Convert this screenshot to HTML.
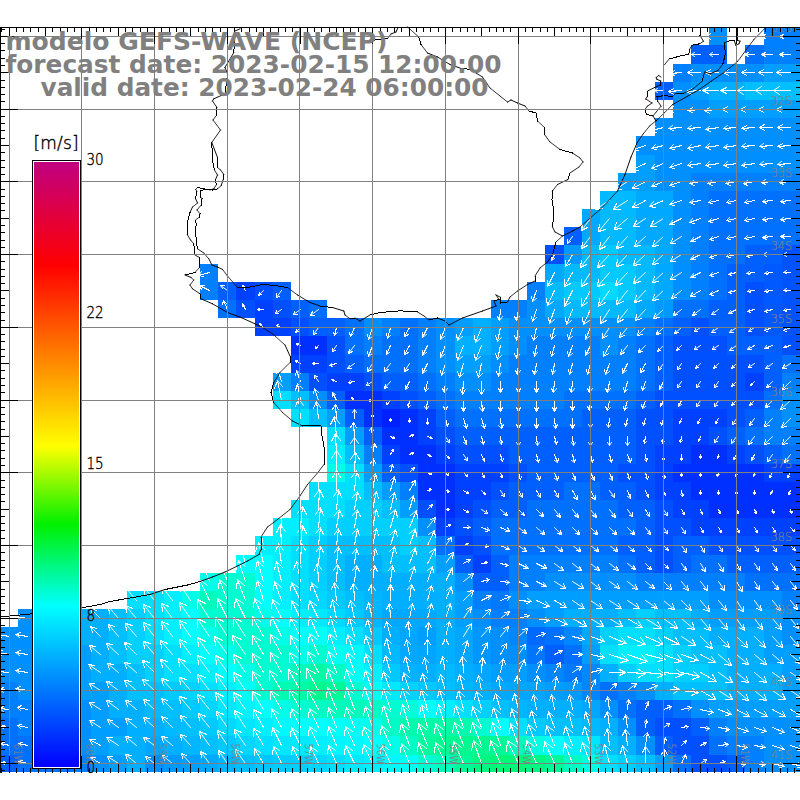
<!DOCTYPE html><html><head><meta charset="utf-8"><title>GEFS-WAVE</title><style>html,body{margin:0;padding:0;background:#fff}body{width:800px;height:800px;position:relative;overflow:hidden}</style></head><body><svg width="800" height="800" viewBox="0 0 800 800" style="position:absolute;left:0;top:0">
<g shape-rendering="crispEdges">
<rect x="709" y="27" width="18" height="18" fill="#008fff"/>
<rect x="764" y="27" width="18" height="18" fill="#0080ff"/>
<rect x="782" y="27" width="18" height="18" fill="#0080ff"/>
<rect x="691" y="45" width="18" height="19" fill="#0060ff"/>
<rect x="709" y="45" width="18" height="19" fill="#0060ff"/>
<rect x="745" y="45" width="19" height="19" fill="#0070ff"/>
<rect x="764" y="45" width="18" height="19" fill="#0080ff"/>
<rect x="782" y="45" width="18" height="19" fill="#0080ff"/>
<rect x="673" y="64" width="18" height="18" fill="#0080ff"/>
<rect x="691" y="64" width="18" height="18" fill="#008fff"/>
<rect x="709" y="64" width="18" height="18" fill="#008fff"/>
<rect x="727" y="64" width="18" height="18" fill="#008fff"/>
<rect x="745" y="64" width="19" height="18" fill="#008fff"/>
<rect x="764" y="64" width="18" height="18" fill="#009fff"/>
<rect x="782" y="64" width="18" height="18" fill="#009fff"/>
<rect x="655" y="82" width="18" height="18" fill="#0060ff"/>
<rect x="673" y="82" width="18" height="18" fill="#008fff"/>
<rect x="691" y="82" width="18" height="18" fill="#009fff"/>
<rect x="709" y="82" width="18" height="18" fill="#00afff"/>
<rect x="727" y="82" width="18" height="18" fill="#00afff"/>
<rect x="745" y="82" width="19" height="18" fill="#00bfff"/>
<rect x="764" y="82" width="18" height="18" fill="#00bfff"/>
<rect x="782" y="82" width="18" height="18" fill="#00bfff"/>
<rect x="673" y="100" width="18" height="18" fill="#008fff"/>
<rect x="691" y="100" width="18" height="18" fill="#008fff"/>
<rect x="709" y="100" width="18" height="18" fill="#009fff"/>
<rect x="727" y="100" width="18" height="18" fill="#009fff"/>
<rect x="745" y="100" width="19" height="18" fill="#009fff"/>
<rect x="764" y="100" width="18" height="18" fill="#009fff"/>
<rect x="782" y="100" width="18" height="18" fill="#009fff"/>
<rect x="655" y="118" width="18" height="18" fill="#008fff"/>
<rect x="673" y="118" width="18" height="18" fill="#008fff"/>
<rect x="691" y="118" width="18" height="18" fill="#008fff"/>
<rect x="709" y="118" width="18" height="18" fill="#008fff"/>
<rect x="727" y="118" width="18" height="18" fill="#008fff"/>
<rect x="745" y="118" width="19" height="18" fill="#008fff"/>
<rect x="764" y="118" width="18" height="18" fill="#008fff"/>
<rect x="782" y="118" width="18" height="18" fill="#008fff"/>
<rect x="636" y="136" width="19" height="19" fill="#008fff"/>
<rect x="655" y="136" width="18" height="19" fill="#008fff"/>
<rect x="673" y="136" width="18" height="19" fill="#008fff"/>
<rect x="691" y="136" width="18" height="19" fill="#008fff"/>
<rect x="709" y="136" width="18" height="19" fill="#008fff"/>
<rect x="727" y="136" width="18" height="19" fill="#008fff"/>
<rect x="745" y="136" width="19" height="19" fill="#008fff"/>
<rect x="764" y="136" width="18" height="19" fill="#008fff"/>
<rect x="782" y="136" width="18" height="19" fill="#008fff"/>
<rect x="636" y="155" width="19" height="18" fill="#009fff"/>
<rect x="655" y="155" width="18" height="18" fill="#008fff"/>
<rect x="673" y="155" width="18" height="18" fill="#008fff"/>
<rect x="691" y="155" width="18" height="18" fill="#008fff"/>
<rect x="709" y="155" width="18" height="18" fill="#008fff"/>
<rect x="727" y="155" width="18" height="18" fill="#008fff"/>
<rect x="745" y="155" width="19" height="18" fill="#008fff"/>
<rect x="764" y="155" width="18" height="18" fill="#008fff"/>
<rect x="782" y="155" width="18" height="18" fill="#008fff"/>
<rect x="618" y="173" width="18" height="18" fill="#009fff"/>
<rect x="636" y="173" width="19" height="18" fill="#009fff"/>
<rect x="655" y="173" width="18" height="18" fill="#008fff"/>
<rect x="673" y="173" width="18" height="18" fill="#008fff"/>
<rect x="691" y="173" width="18" height="18" fill="#0080ff"/>
<rect x="709" y="173" width="18" height="18" fill="#0080ff"/>
<rect x="727" y="173" width="18" height="18" fill="#0080ff"/>
<rect x="745" y="173" width="19" height="18" fill="#0080ff"/>
<rect x="764" y="173" width="18" height="18" fill="#0080ff"/>
<rect x="782" y="173" width="18" height="18" fill="#0080ff"/>
<rect x="600" y="191" width="18" height="18" fill="#00b9ff"/>
<rect x="618" y="191" width="18" height="18" fill="#00b9ff"/>
<rect x="636" y="191" width="19" height="18" fill="#00a9ff"/>
<rect x="655" y="191" width="18" height="18" fill="#00a9ff"/>
<rect x="673" y="191" width="18" height="18" fill="#008fff"/>
<rect x="691" y="191" width="18" height="18" fill="#0080ff"/>
<rect x="709" y="191" width="18" height="18" fill="#0070ff"/>
<rect x="727" y="191" width="18" height="18" fill="#0070ff"/>
<rect x="745" y="191" width="19" height="18" fill="#0070ff"/>
<rect x="764" y="191" width="18" height="18" fill="#0070ff"/>
<rect x="782" y="191" width="18" height="18" fill="#0070ff"/>
<rect x="582" y="209" width="18" height="18" fill="#00a9ff"/>
<rect x="600" y="209" width="18" height="18" fill="#00b9ff"/>
<rect x="618" y="209" width="18" height="18" fill="#00b9ff"/>
<rect x="636" y="209" width="19" height="18" fill="#00a9ff"/>
<rect x="655" y="209" width="18" height="18" fill="#00a9ff"/>
<rect x="673" y="209" width="18" height="18" fill="#008fff"/>
<rect x="691" y="209" width="18" height="18" fill="#0080ff"/>
<rect x="709" y="209" width="18" height="18" fill="#0070ff"/>
<rect x="727" y="209" width="18" height="18" fill="#0070ff"/>
<rect x="745" y="209" width="19" height="18" fill="#0070ff"/>
<rect x="764" y="209" width="18" height="18" fill="#0070ff"/>
<rect x="782" y="209" width="18" height="18" fill="#0070ff"/>
<rect x="564" y="227" width="18" height="18" fill="#0060ff"/>
<rect x="582" y="227" width="18" height="18" fill="#00a9ff"/>
<rect x="600" y="227" width="18" height="18" fill="#00b9ff"/>
<rect x="618" y="227" width="18" height="18" fill="#00b9ff"/>
<rect x="636" y="227" width="19" height="18" fill="#00a9ff"/>
<rect x="655" y="227" width="18" height="18" fill="#00a9ff"/>
<rect x="673" y="227" width="18" height="18" fill="#008fff"/>
<rect x="691" y="227" width="18" height="18" fill="#0080ff"/>
<rect x="709" y="227" width="18" height="18" fill="#0070ff"/>
<rect x="727" y="227" width="18" height="18" fill="#0070ff"/>
<rect x="745" y="227" width="19" height="18" fill="#0070ff"/>
<rect x="764" y="227" width="18" height="18" fill="#0070ff"/>
<rect x="782" y="227" width="18" height="18" fill="#0070ff"/>
<rect x="545" y="245" width="19" height="19" fill="#0050ff"/>
<rect x="564" y="245" width="18" height="19" fill="#0099ff"/>
<rect x="582" y="245" width="18" height="19" fill="#00b9ff"/>
<rect x="600" y="245" width="18" height="19" fill="#00c9ff"/>
<rect x="618" y="245" width="18" height="19" fill="#00b9ff"/>
<rect x="636" y="245" width="19" height="19" fill="#00b9ff"/>
<rect x="655" y="245" width="18" height="19" fill="#00a9ff"/>
<rect x="673" y="245" width="18" height="19" fill="#008fff"/>
<rect x="691" y="245" width="18" height="19" fill="#0080ff"/>
<rect x="709" y="245" width="18" height="19" fill="#0070ff"/>
<rect x="727" y="245" width="18" height="19" fill="#0070ff"/>
<rect x="745" y="245" width="19" height="19" fill="#0060ff"/>
<rect x="764" y="245" width="18" height="19" fill="#0060ff"/>
<rect x="782" y="245" width="18" height="19" fill="#0053ff"/>
<rect x="200" y="264" width="18" height="18" fill="#0080ff"/>
<rect x="545" y="264" width="19" height="18" fill="#00a9ff"/>
<rect x="564" y="264" width="18" height="18" fill="#00b9ff"/>
<rect x="582" y="264" width="18" height="18" fill="#00b9ff"/>
<rect x="600" y="264" width="18" height="18" fill="#00c9ff"/>
<rect x="618" y="264" width="18" height="18" fill="#00c9ff"/>
<rect x="636" y="264" width="19" height="18" fill="#00b9ff"/>
<rect x="655" y="264" width="18" height="18" fill="#00a9ff"/>
<rect x="673" y="264" width="18" height="18" fill="#008fff"/>
<rect x="691" y="264" width="18" height="18" fill="#0080ff"/>
<rect x="709" y="264" width="18" height="18" fill="#0070ff"/>
<rect x="727" y="264" width="18" height="18" fill="#0060ff"/>
<rect x="745" y="264" width="19" height="18" fill="#0060ff"/>
<rect x="764" y="264" width="18" height="18" fill="#0059ff"/>
<rect x="782" y="264" width="18" height="18" fill="#0053ff"/>
<rect x="200" y="282" width="18" height="18" fill="#0080ff"/>
<rect x="218" y="282" width="18" height="18" fill="#0060ff"/>
<rect x="236" y="282" width="19" height="18" fill="#0040ff"/>
<rect x="255" y="282" width="18" height="18" fill="#0050ff"/>
<rect x="273" y="282" width="18" height="18" fill="#0060ff"/>
<rect x="527" y="282" width="18" height="18" fill="#0080ff"/>
<rect x="545" y="282" width="19" height="18" fill="#00b9ff"/>
<rect x="564" y="282" width="18" height="18" fill="#00c9ff"/>
<rect x="582" y="282" width="18" height="18" fill="#00c9ff"/>
<rect x="600" y="282" width="18" height="18" fill="#00d9ff"/>
<rect x="618" y="282" width="18" height="18" fill="#00c9ff"/>
<rect x="636" y="282" width="19" height="18" fill="#00b9ff"/>
<rect x="655" y="282" width="18" height="18" fill="#00a9ff"/>
<rect x="673" y="282" width="18" height="18" fill="#008fff"/>
<rect x="691" y="282" width="18" height="18" fill="#0080ff"/>
<rect x="709" y="282" width="18" height="18" fill="#0070ff"/>
<rect x="727" y="282" width="18" height="18" fill="#0060ff"/>
<rect x="745" y="282" width="19" height="18" fill="#0050ff"/>
<rect x="764" y="282" width="18" height="18" fill="#0059ff"/>
<rect x="782" y="282" width="18" height="18" fill="#0053ff"/>
<rect x="218" y="300" width="18" height="18" fill="#0070ff"/>
<rect x="236" y="300" width="19" height="18" fill="#0050ff"/>
<rect x="255" y="300" width="18" height="18" fill="#0040ff"/>
<rect x="273" y="300" width="18" height="18" fill="#0050ff"/>
<rect x="291" y="300" width="18" height="18" fill="#0060ff"/>
<rect x="309" y="300" width="18" height="18" fill="#0070ff"/>
<rect x="491" y="300" width="18" height="18" fill="#0080ff"/>
<rect x="509" y="300" width="18" height="18" fill="#0080ff"/>
<rect x="527" y="300" width="18" height="18" fill="#008fff"/>
<rect x="545" y="300" width="19" height="18" fill="#00a9ff"/>
<rect x="564" y="300" width="18" height="18" fill="#00b9ff"/>
<rect x="582" y="300" width="18" height="18" fill="#00b9ff"/>
<rect x="600" y="300" width="18" height="18" fill="#00b9ff"/>
<rect x="618" y="300" width="18" height="18" fill="#00b9ff"/>
<rect x="636" y="300" width="19" height="18" fill="#00a9ff"/>
<rect x="655" y="300" width="18" height="18" fill="#0099ff"/>
<rect x="673" y="300" width="18" height="18" fill="#0070ff"/>
<rect x="691" y="300" width="18" height="18" fill="#0070ff"/>
<rect x="709" y="300" width="18" height="18" fill="#0060ff"/>
<rect x="727" y="300" width="18" height="18" fill="#0060ff"/>
<rect x="745" y="300" width="19" height="18" fill="#0050ff"/>
<rect x="764" y="300" width="18" height="18" fill="#0059ff"/>
<rect x="782" y="300" width="18" height="18" fill="#0053ff"/>
<rect x="255" y="318" width="18" height="18" fill="#0040ff"/>
<rect x="273" y="318" width="18" height="18" fill="#0040ff"/>
<rect x="291" y="318" width="18" height="18" fill="#0050ff"/>
<rect x="309" y="318" width="18" height="18" fill="#0060ff"/>
<rect x="327" y="318" width="18" height="18" fill="#0060ff"/>
<rect x="345" y="318" width="19" height="18" fill="#0070ff"/>
<rect x="364" y="318" width="18" height="18" fill="#008fff"/>
<rect x="382" y="318" width="18" height="18" fill="#0080ff"/>
<rect x="400" y="318" width="18" height="18" fill="#0070ff"/>
<rect x="418" y="318" width="18" height="18" fill="#0080ff"/>
<rect x="436" y="318" width="19" height="18" fill="#008fff"/>
<rect x="455" y="318" width="18" height="18" fill="#009fff"/>
<rect x="473" y="318" width="18" height="18" fill="#00afff"/>
<rect x="491" y="318" width="18" height="18" fill="#009fff"/>
<rect x="509" y="318" width="18" height="18" fill="#008fff"/>
<rect x="527" y="318" width="18" height="18" fill="#008fff"/>
<rect x="545" y="318" width="19" height="18" fill="#008fff"/>
<rect x="564" y="318" width="18" height="18" fill="#008fff"/>
<rect x="582" y="318" width="18" height="18" fill="#008fff"/>
<rect x="600" y="318" width="18" height="18" fill="#008fff"/>
<rect x="618" y="318" width="18" height="18" fill="#008fff"/>
<rect x="636" y="318" width="19" height="18" fill="#0080ff"/>
<rect x="655" y="318" width="18" height="18" fill="#0070ff"/>
<rect x="673" y="318" width="18" height="18" fill="#0060ff"/>
<rect x="691" y="318" width="18" height="18" fill="#0050ff"/>
<rect x="709" y="318" width="18" height="18" fill="#0060ff"/>
<rect x="727" y="318" width="18" height="18" fill="#0060ff"/>
<rect x="745" y="318" width="19" height="18" fill="#0050ff"/>
<rect x="764" y="318" width="18" height="18" fill="#0059ff"/>
<rect x="782" y="318" width="18" height="18" fill="#0053ff"/>
<rect x="291" y="336" width="18" height="19" fill="#0030ff"/>
<rect x="309" y="336" width="18" height="19" fill="#0030ff"/>
<rect x="327" y="336" width="18" height="19" fill="#0050ff"/>
<rect x="345" y="336" width="19" height="19" fill="#0070ff"/>
<rect x="364" y="336" width="18" height="19" fill="#0080ff"/>
<rect x="382" y="336" width="18" height="19" fill="#0070ff"/>
<rect x="400" y="336" width="18" height="19" fill="#0070ff"/>
<rect x="418" y="336" width="18" height="19" fill="#0080ff"/>
<rect x="436" y="336" width="19" height="19" fill="#008fff"/>
<rect x="455" y="336" width="18" height="19" fill="#00afff"/>
<rect x="473" y="336" width="18" height="19" fill="#00afff"/>
<rect x="491" y="336" width="18" height="19" fill="#009fff"/>
<rect x="509" y="336" width="18" height="19" fill="#008fff"/>
<rect x="527" y="336" width="18" height="19" fill="#0080ff"/>
<rect x="545" y="336" width="19" height="19" fill="#0080ff"/>
<rect x="564" y="336" width="18" height="19" fill="#0080ff"/>
<rect x="582" y="336" width="18" height="19" fill="#0080ff"/>
<rect x="600" y="336" width="18" height="19" fill="#008fff"/>
<rect x="618" y="336" width="18" height="19" fill="#0080ff"/>
<rect x="636" y="336" width="19" height="19" fill="#0070ff"/>
<rect x="655" y="336" width="18" height="19" fill="#0060ff"/>
<rect x="673" y="336" width="18" height="19" fill="#0050ff"/>
<rect x="691" y="336" width="18" height="19" fill="#0050ff"/>
<rect x="709" y="336" width="18" height="19" fill="#0050ff"/>
<rect x="727" y="336" width="18" height="19" fill="#0060ff"/>
<rect x="745" y="336" width="19" height="19" fill="#0060ff"/>
<rect x="764" y="336" width="18" height="19" fill="#0060ff"/>
<rect x="782" y="336" width="18" height="19" fill="#0050ff"/>
<rect x="291" y="355" width="18" height="18" fill="#0040ff"/>
<rect x="309" y="355" width="18" height="18" fill="#0040ff"/>
<rect x="327" y="355" width="18" height="18" fill="#0050ff"/>
<rect x="345" y="355" width="19" height="18" fill="#0060ff"/>
<rect x="364" y="355" width="18" height="18" fill="#0070ff"/>
<rect x="382" y="355" width="18" height="18" fill="#0070ff"/>
<rect x="400" y="355" width="18" height="18" fill="#0070ff"/>
<rect x="418" y="355" width="18" height="18" fill="#0080ff"/>
<rect x="436" y="355" width="19" height="18" fill="#008fff"/>
<rect x="455" y="355" width="18" height="18" fill="#009fff"/>
<rect x="473" y="355" width="18" height="18" fill="#009fff"/>
<rect x="491" y="355" width="18" height="18" fill="#008fff"/>
<rect x="509" y="355" width="18" height="18" fill="#0080ff"/>
<rect x="527" y="355" width="18" height="18" fill="#0080ff"/>
<rect x="545" y="355" width="19" height="18" fill="#0080ff"/>
<rect x="564" y="355" width="18" height="18" fill="#0080ff"/>
<rect x="582" y="355" width="18" height="18" fill="#0080ff"/>
<rect x="600" y="355" width="18" height="18" fill="#0080ff"/>
<rect x="618" y="355" width="18" height="18" fill="#0080ff"/>
<rect x="636" y="355" width="19" height="18" fill="#0070ff"/>
<rect x="655" y="355" width="18" height="18" fill="#0060ff"/>
<rect x="673" y="355" width="18" height="18" fill="#0050ff"/>
<rect x="691" y="355" width="18" height="18" fill="#0050ff"/>
<rect x="709" y="355" width="18" height="18" fill="#0050ff"/>
<rect x="727" y="355" width="18" height="18" fill="#0050ff"/>
<rect x="745" y="355" width="19" height="18" fill="#0050ff"/>
<rect x="764" y="355" width="18" height="18" fill="#0060ff"/>
<rect x="782" y="355" width="18" height="18" fill="#0070ff"/>
<rect x="273" y="373" width="18" height="18" fill="#009fff"/>
<rect x="291" y="373" width="18" height="18" fill="#0080ff"/>
<rect x="309" y="373" width="18" height="18" fill="#0050ff"/>
<rect x="327" y="373" width="18" height="18" fill="#0040ff"/>
<rect x="345" y="373" width="19" height="18" fill="#0040ff"/>
<rect x="364" y="373" width="18" height="18" fill="#0050ff"/>
<rect x="382" y="373" width="18" height="18" fill="#0060ff"/>
<rect x="400" y="373" width="18" height="18" fill="#0060ff"/>
<rect x="418" y="373" width="18" height="18" fill="#0070ff"/>
<rect x="436" y="373" width="19" height="18" fill="#0080ff"/>
<rect x="455" y="373" width="18" height="18" fill="#008fff"/>
<rect x="473" y="373" width="18" height="18" fill="#008fff"/>
<rect x="491" y="373" width="18" height="18" fill="#0080ff"/>
<rect x="509" y="373" width="18" height="18" fill="#0080ff"/>
<rect x="527" y="373" width="18" height="18" fill="#0080ff"/>
<rect x="545" y="373" width="19" height="18" fill="#0080ff"/>
<rect x="564" y="373" width="18" height="18" fill="#0080ff"/>
<rect x="582" y="373" width="18" height="18" fill="#0080ff"/>
<rect x="600" y="373" width="18" height="18" fill="#0080ff"/>
<rect x="618" y="373" width="18" height="18" fill="#0080ff"/>
<rect x="636" y="373" width="19" height="18" fill="#0070ff"/>
<rect x="655" y="373" width="18" height="18" fill="#0060ff"/>
<rect x="673" y="373" width="18" height="18" fill="#0050ff"/>
<rect x="691" y="373" width="18" height="18" fill="#0050ff"/>
<rect x="709" y="373" width="18" height="18" fill="#0050ff"/>
<rect x="727" y="373" width="18" height="18" fill="#0050ff"/>
<rect x="745" y="373" width="19" height="18" fill="#0040ff"/>
<rect x="764" y="373" width="18" height="18" fill="#0060ff"/>
<rect x="782" y="373" width="18" height="18" fill="#0080ff"/>
<rect x="273" y="391" width="18" height="18" fill="#00dfff"/>
<rect x="291" y="391" width="18" height="18" fill="#00bfff"/>
<rect x="309" y="391" width="18" height="18" fill="#008fff"/>
<rect x="327" y="391" width="18" height="18" fill="#0060ff"/>
<rect x="345" y="391" width="19" height="18" fill="#0030ff"/>
<rect x="364" y="391" width="18" height="18" fill="#0030ff"/>
<rect x="382" y="391" width="18" height="18" fill="#0040ff"/>
<rect x="400" y="391" width="18" height="18" fill="#0050ff"/>
<rect x="418" y="391" width="18" height="18" fill="#0060ff"/>
<rect x="436" y="391" width="19" height="18" fill="#0070ff"/>
<rect x="455" y="391" width="18" height="18" fill="#0080ff"/>
<rect x="473" y="391" width="18" height="18" fill="#0080ff"/>
<rect x="491" y="391" width="18" height="18" fill="#0080ff"/>
<rect x="509" y="391" width="18" height="18" fill="#0080ff"/>
<rect x="527" y="391" width="18" height="18" fill="#0080ff"/>
<rect x="545" y="391" width="19" height="18" fill="#0080ff"/>
<rect x="564" y="391" width="18" height="18" fill="#0070ff"/>
<rect x="582" y="391" width="18" height="18" fill="#0070ff"/>
<rect x="600" y="391" width="18" height="18" fill="#0070ff"/>
<rect x="618" y="391" width="18" height="18" fill="#0070ff"/>
<rect x="636" y="391" width="19" height="18" fill="#0060ff"/>
<rect x="655" y="391" width="18" height="18" fill="#0050ff"/>
<rect x="673" y="391" width="18" height="18" fill="#0050ff"/>
<rect x="691" y="391" width="18" height="18" fill="#0050ff"/>
<rect x="709" y="391" width="18" height="18" fill="#0050ff"/>
<rect x="727" y="391" width="18" height="18" fill="#0050ff"/>
<rect x="745" y="391" width="19" height="18" fill="#0050ff"/>
<rect x="764" y="391" width="18" height="18" fill="#0070ff"/>
<rect x="782" y="391" width="18" height="18" fill="#008fff"/>
<rect x="291" y="409" width="18" height="18" fill="#00dfff"/>
<rect x="309" y="409" width="18" height="18" fill="#00bfff"/>
<rect x="327" y="409" width="18" height="18" fill="#009fff"/>
<rect x="345" y="409" width="19" height="18" fill="#0060ff"/>
<rect x="364" y="409" width="18" height="18" fill="#0030ff"/>
<rect x="382" y="409" width="18" height="18" fill="#0020ff"/>
<rect x="400" y="409" width="18" height="18" fill="#0030ff"/>
<rect x="418" y="409" width="18" height="18" fill="#0040ff"/>
<rect x="436" y="409" width="19" height="18" fill="#0060ff"/>
<rect x="455" y="409" width="18" height="18" fill="#0070ff"/>
<rect x="473" y="409" width="18" height="18" fill="#0070ff"/>
<rect x="491" y="409" width="18" height="18" fill="#0070ff"/>
<rect x="509" y="409" width="18" height="18" fill="#0070ff"/>
<rect x="527" y="409" width="18" height="18" fill="#0070ff"/>
<rect x="545" y="409" width="19" height="18" fill="#0070ff"/>
<rect x="564" y="409" width="18" height="18" fill="#0070ff"/>
<rect x="582" y="409" width="18" height="18" fill="#0060ff"/>
<rect x="600" y="409" width="18" height="18" fill="#0060ff"/>
<rect x="618" y="409" width="18" height="18" fill="#0060ff"/>
<rect x="636" y="409" width="19" height="18" fill="#0050ff"/>
<rect x="655" y="409" width="18" height="18" fill="#0050ff"/>
<rect x="673" y="409" width="18" height="18" fill="#0040ff"/>
<rect x="691" y="409" width="18" height="18" fill="#0040ff"/>
<rect x="709" y="409" width="18" height="18" fill="#0040ff"/>
<rect x="727" y="409" width="18" height="18" fill="#0050ff"/>
<rect x="745" y="409" width="19" height="18" fill="#0060ff"/>
<rect x="764" y="409" width="18" height="18" fill="#0080ff"/>
<rect x="782" y="409" width="18" height="18" fill="#008fff"/>
<rect x="327" y="427" width="18" height="18" fill="#00dfff"/>
<rect x="345" y="427" width="19" height="18" fill="#009fff"/>
<rect x="364" y="427" width="18" height="18" fill="#0060ff"/>
<rect x="382" y="427" width="18" height="18" fill="#0030ff"/>
<rect x="400" y="427" width="18" height="18" fill="#0030ff"/>
<rect x="418" y="427" width="18" height="18" fill="#0040ff"/>
<rect x="436" y="427" width="19" height="18" fill="#0050ff"/>
<rect x="455" y="427" width="18" height="18" fill="#0060ff"/>
<rect x="473" y="427" width="18" height="18" fill="#0060ff"/>
<rect x="491" y="427" width="18" height="18" fill="#0060ff"/>
<rect x="509" y="427" width="18" height="18" fill="#0060ff"/>
<rect x="527" y="427" width="18" height="18" fill="#0060ff"/>
<rect x="545" y="427" width="19" height="18" fill="#0060ff"/>
<rect x="564" y="427" width="18" height="18" fill="#0060ff"/>
<rect x="582" y="427" width="18" height="18" fill="#0060ff"/>
<rect x="600" y="427" width="18" height="18" fill="#0060ff"/>
<rect x="618" y="427" width="18" height="18" fill="#0060ff"/>
<rect x="636" y="427" width="19" height="18" fill="#0050ff"/>
<rect x="655" y="427" width="18" height="18" fill="#0050ff"/>
<rect x="673" y="427" width="18" height="18" fill="#0040ff"/>
<rect x="691" y="427" width="18" height="18" fill="#0040ff"/>
<rect x="709" y="427" width="18" height="18" fill="#0050ff"/>
<rect x="727" y="427" width="18" height="18" fill="#0060ff"/>
<rect x="745" y="427" width="19" height="18" fill="#0070ff"/>
<rect x="764" y="427" width="18" height="18" fill="#0080ff"/>
<rect x="782" y="427" width="18" height="18" fill="#0080ff"/>
<rect x="327" y="445" width="18" height="19" fill="#00efff"/>
<rect x="345" y="445" width="19" height="19" fill="#00bfff"/>
<rect x="364" y="445" width="18" height="19" fill="#0080ff"/>
<rect x="382" y="445" width="18" height="19" fill="#0040ff"/>
<rect x="400" y="445" width="18" height="19" fill="#0030ff"/>
<rect x="418" y="445" width="18" height="19" fill="#0030ff"/>
<rect x="436" y="445" width="19" height="19" fill="#0040ff"/>
<rect x="455" y="445" width="18" height="19" fill="#0050ff"/>
<rect x="473" y="445" width="18" height="19" fill="#0050ff"/>
<rect x="491" y="445" width="18" height="19" fill="#0050ff"/>
<rect x="509" y="445" width="18" height="19" fill="#0060ff"/>
<rect x="527" y="445" width="18" height="19" fill="#0060ff"/>
<rect x="545" y="445" width="19" height="19" fill="#0060ff"/>
<rect x="564" y="445" width="18" height="19" fill="#0060ff"/>
<rect x="582" y="445" width="18" height="19" fill="#0060ff"/>
<rect x="600" y="445" width="18" height="19" fill="#0060ff"/>
<rect x="618" y="445" width="18" height="19" fill="#0060ff"/>
<rect x="636" y="445" width="19" height="19" fill="#0050ff"/>
<rect x="655" y="445" width="18" height="19" fill="#0040ff"/>
<rect x="673" y="445" width="18" height="19" fill="#0040ff"/>
<rect x="691" y="445" width="18" height="19" fill="#0030ff"/>
<rect x="709" y="445" width="18" height="19" fill="#0030ff"/>
<rect x="727" y="445" width="18" height="19" fill="#0040ff"/>
<rect x="745" y="445" width="19" height="19" fill="#0050ff"/>
<rect x="764" y="445" width="18" height="19" fill="#0060ff"/>
<rect x="782" y="445" width="18" height="19" fill="#0070ff"/>
<rect x="327" y="464" width="18" height="18" fill="#00fee9"/>
<rect x="345" y="464" width="19" height="18" fill="#00dfff"/>
<rect x="364" y="464" width="18" height="18" fill="#009fff"/>
<rect x="382" y="464" width="18" height="18" fill="#0060ff"/>
<rect x="400" y="464" width="18" height="18" fill="#0050ff"/>
<rect x="418" y="464" width="18" height="18" fill="#0030ff"/>
<rect x="436" y="464" width="19" height="18" fill="#0030ff"/>
<rect x="455" y="464" width="18" height="18" fill="#0040ff"/>
<rect x="473" y="464" width="18" height="18" fill="#0040ff"/>
<rect x="491" y="464" width="18" height="18" fill="#0040ff"/>
<rect x="509" y="464" width="18" height="18" fill="#0050ff"/>
<rect x="527" y="464" width="18" height="18" fill="#0060ff"/>
<rect x="545" y="464" width="19" height="18" fill="#0060ff"/>
<rect x="564" y="464" width="18" height="18" fill="#0060ff"/>
<rect x="582" y="464" width="18" height="18" fill="#0060ff"/>
<rect x="600" y="464" width="18" height="18" fill="#0060ff"/>
<rect x="618" y="464" width="18" height="18" fill="#0050ff"/>
<rect x="636" y="464" width="19" height="18" fill="#0050ff"/>
<rect x="655" y="464" width="18" height="18" fill="#0040ff"/>
<rect x="673" y="464" width="18" height="18" fill="#0030ff"/>
<rect x="691" y="464" width="18" height="18" fill="#0030ff"/>
<rect x="709" y="464" width="18" height="18" fill="#0030ff"/>
<rect x="727" y="464" width="18" height="18" fill="#0030ff"/>
<rect x="745" y="464" width="19" height="18" fill="#0030ff"/>
<rect x="764" y="464" width="18" height="18" fill="#0040ff"/>
<rect x="782" y="464" width="18" height="18" fill="#0040ff"/>
<rect x="309" y="482" width="18" height="18" fill="#00dfff"/>
<rect x="327" y="482" width="18" height="18" fill="#00dfff"/>
<rect x="345" y="482" width="19" height="18" fill="#00dfff"/>
<rect x="364" y="482" width="18" height="18" fill="#00bfff"/>
<rect x="382" y="482" width="18" height="18" fill="#009fff"/>
<rect x="400" y="482" width="18" height="18" fill="#0080ff"/>
<rect x="418" y="482" width="18" height="18" fill="#0030ff"/>
<rect x="436" y="482" width="19" height="18" fill="#0030ff"/>
<rect x="455" y="482" width="18" height="18" fill="#0040ff"/>
<rect x="473" y="482" width="18" height="18" fill="#0040ff"/>
<rect x="491" y="482" width="18" height="18" fill="#0050ff"/>
<rect x="509" y="482" width="18" height="18" fill="#0060ff"/>
<rect x="527" y="482" width="18" height="18" fill="#0060ff"/>
<rect x="545" y="482" width="19" height="18" fill="#0060ff"/>
<rect x="564" y="482" width="18" height="18" fill="#0070ff"/>
<rect x="582" y="482" width="18" height="18" fill="#0070ff"/>
<rect x="600" y="482" width="18" height="18" fill="#0060ff"/>
<rect x="618" y="482" width="18" height="18" fill="#0060ff"/>
<rect x="636" y="482" width="19" height="18" fill="#0050ff"/>
<rect x="655" y="482" width="18" height="18" fill="#0040ff"/>
<rect x="673" y="482" width="18" height="18" fill="#0040ff"/>
<rect x="691" y="482" width="18" height="18" fill="#0030ff"/>
<rect x="709" y="482" width="18" height="18" fill="#0030ff"/>
<rect x="727" y="482" width="18" height="18" fill="#0030ff"/>
<rect x="745" y="482" width="19" height="18" fill="#0030ff"/>
<rect x="764" y="482" width="18" height="18" fill="#0030ff"/>
<rect x="782" y="482" width="18" height="18" fill="#0030ff"/>
<rect x="291" y="500" width="18" height="18" fill="#00dfff"/>
<rect x="309" y="500" width="18" height="18" fill="#00dfff"/>
<rect x="327" y="500" width="18" height="18" fill="#00dfff"/>
<rect x="345" y="500" width="19" height="18" fill="#00cfff"/>
<rect x="364" y="500" width="18" height="18" fill="#00cfff"/>
<rect x="382" y="500" width="18" height="18" fill="#00bfff"/>
<rect x="400" y="500" width="18" height="18" fill="#009fff"/>
<rect x="418" y="500" width="18" height="18" fill="#0050ff"/>
<rect x="436" y="500" width="19" height="18" fill="#0030ff"/>
<rect x="455" y="500" width="18" height="18" fill="#0040ff"/>
<rect x="473" y="500" width="18" height="18" fill="#0050ff"/>
<rect x="491" y="500" width="18" height="18" fill="#0060ff"/>
<rect x="509" y="500" width="18" height="18" fill="#0060ff"/>
<rect x="527" y="500" width="18" height="18" fill="#0070ff"/>
<rect x="545" y="500" width="19" height="18" fill="#0070ff"/>
<rect x="564" y="500" width="18" height="18" fill="#0070ff"/>
<rect x="582" y="500" width="18" height="18" fill="#0070ff"/>
<rect x="600" y="500" width="18" height="18" fill="#0070ff"/>
<rect x="618" y="500" width="18" height="18" fill="#0060ff"/>
<rect x="636" y="500" width="19" height="18" fill="#0060ff"/>
<rect x="655" y="500" width="18" height="18" fill="#0050ff"/>
<rect x="673" y="500" width="18" height="18" fill="#0040ff"/>
<rect x="691" y="500" width="18" height="18" fill="#0040ff"/>
<rect x="709" y="500" width="18" height="18" fill="#0030ff"/>
<rect x="727" y="500" width="18" height="18" fill="#0030ff"/>
<rect x="745" y="500" width="19" height="18" fill="#0030ff"/>
<rect x="764" y="500" width="18" height="18" fill="#0030ff"/>
<rect x="782" y="500" width="18" height="18" fill="#0030ff"/>
<rect x="273" y="518" width="18" height="18" fill="#00efff"/>
<rect x="291" y="518" width="18" height="18" fill="#00efff"/>
<rect x="309" y="518" width="18" height="18" fill="#00dfff"/>
<rect x="327" y="518" width="18" height="18" fill="#00cfff"/>
<rect x="345" y="518" width="19" height="18" fill="#00cfff"/>
<rect x="364" y="518" width="18" height="18" fill="#00cfff"/>
<rect x="382" y="518" width="18" height="18" fill="#00cfff"/>
<rect x="400" y="518" width="18" height="18" fill="#00cfff"/>
<rect x="418" y="518" width="18" height="18" fill="#008fff"/>
<rect x="436" y="518" width="19" height="18" fill="#0040ff"/>
<rect x="455" y="518" width="18" height="18" fill="#0050ff"/>
<rect x="473" y="518" width="18" height="18" fill="#0060ff"/>
<rect x="491" y="518" width="18" height="18" fill="#0070ff"/>
<rect x="509" y="518" width="18" height="18" fill="#0070ff"/>
<rect x="527" y="518" width="18" height="18" fill="#0070ff"/>
<rect x="545" y="518" width="19" height="18" fill="#0070ff"/>
<rect x="564" y="518" width="18" height="18" fill="#0070ff"/>
<rect x="582" y="518" width="18" height="18" fill="#0070ff"/>
<rect x="600" y="518" width="18" height="18" fill="#0070ff"/>
<rect x="618" y="518" width="18" height="18" fill="#0070ff"/>
<rect x="636" y="518" width="19" height="18" fill="#0060ff"/>
<rect x="655" y="518" width="18" height="18" fill="#0050ff"/>
<rect x="673" y="518" width="18" height="18" fill="#0050ff"/>
<rect x="691" y="518" width="18" height="18" fill="#0040ff"/>
<rect x="709" y="518" width="18" height="18" fill="#0040ff"/>
<rect x="727" y="518" width="18" height="18" fill="#0040ff"/>
<rect x="745" y="518" width="19" height="18" fill="#0040ff"/>
<rect x="764" y="518" width="18" height="18" fill="#0040ff"/>
<rect x="782" y="518" width="18" height="18" fill="#0040ff"/>
<rect x="255" y="536" width="18" height="19" fill="#00efff"/>
<rect x="273" y="536" width="18" height="19" fill="#00efff"/>
<rect x="291" y="536" width="18" height="19" fill="#00dfff"/>
<rect x="309" y="536" width="18" height="19" fill="#00cfff"/>
<rect x="327" y="536" width="18" height="19" fill="#00bfff"/>
<rect x="345" y="536" width="19" height="19" fill="#00bfff"/>
<rect x="364" y="536" width="18" height="19" fill="#00bfff"/>
<rect x="382" y="536" width="18" height="19" fill="#00bfff"/>
<rect x="400" y="536" width="18" height="19" fill="#00cfff"/>
<rect x="418" y="536" width="18" height="19" fill="#00bfff"/>
<rect x="436" y="536" width="19" height="19" fill="#0070ff"/>
<rect x="455" y="536" width="18" height="19" fill="#0040ff"/>
<rect x="473" y="536" width="18" height="19" fill="#0050ff"/>
<rect x="491" y="536" width="18" height="19" fill="#0070ff"/>
<rect x="509" y="536" width="18" height="19" fill="#0070ff"/>
<rect x="527" y="536" width="18" height="19" fill="#0070ff"/>
<rect x="545" y="536" width="19" height="19" fill="#0070ff"/>
<rect x="564" y="536" width="18" height="19" fill="#0070ff"/>
<rect x="582" y="536" width="18" height="19" fill="#0070ff"/>
<rect x="600" y="536" width="18" height="19" fill="#0070ff"/>
<rect x="618" y="536" width="18" height="19" fill="#0060ff"/>
<rect x="636" y="536" width="19" height="19" fill="#0060ff"/>
<rect x="655" y="536" width="18" height="19" fill="#0050ff"/>
<rect x="673" y="536" width="18" height="19" fill="#0060ff"/>
<rect x="691" y="536" width="18" height="19" fill="#0060ff"/>
<rect x="709" y="536" width="18" height="19" fill="#0050ff"/>
<rect x="727" y="536" width="18" height="19" fill="#0050ff"/>
<rect x="745" y="536" width="19" height="19" fill="#0050ff"/>
<rect x="764" y="536" width="18" height="19" fill="#0050ff"/>
<rect x="782" y="536" width="18" height="19" fill="#0050ff"/>
<rect x="236" y="555" width="19" height="18" fill="#00ffff"/>
<rect x="255" y="555" width="18" height="18" fill="#00ffff"/>
<rect x="273" y="555" width="18" height="18" fill="#00efff"/>
<rect x="291" y="555" width="18" height="18" fill="#00dfff"/>
<rect x="309" y="555" width="18" height="18" fill="#00cfff"/>
<rect x="327" y="555" width="18" height="18" fill="#00bfff"/>
<rect x="345" y="555" width="19" height="18" fill="#00afff"/>
<rect x="364" y="555" width="18" height="18" fill="#00afff"/>
<rect x="382" y="555" width="18" height="18" fill="#00bfff"/>
<rect x="400" y="555" width="18" height="18" fill="#00bfff"/>
<rect x="418" y="555" width="18" height="18" fill="#00bfff"/>
<rect x="436" y="555" width="19" height="18" fill="#009fff"/>
<rect x="455" y="555" width="18" height="18" fill="#0060ff"/>
<rect x="473" y="555" width="18" height="18" fill="#0040ff"/>
<rect x="491" y="555" width="18" height="18" fill="#0060ff"/>
<rect x="509" y="555" width="18" height="18" fill="#0080ff"/>
<rect x="527" y="555" width="18" height="18" fill="#0080ff"/>
<rect x="545" y="555" width="19" height="18" fill="#0080ff"/>
<rect x="564" y="555" width="18" height="18" fill="#0080ff"/>
<rect x="582" y="555" width="18" height="18" fill="#0080ff"/>
<rect x="600" y="555" width="18" height="18" fill="#0080ff"/>
<rect x="618" y="555" width="18" height="18" fill="#0070ff"/>
<rect x="636" y="555" width="19" height="18" fill="#0060ff"/>
<rect x="655" y="555" width="18" height="18" fill="#0050ff"/>
<rect x="673" y="555" width="18" height="18" fill="#0060ff"/>
<rect x="691" y="555" width="18" height="18" fill="#0070ff"/>
<rect x="709" y="555" width="18" height="18" fill="#0070ff"/>
<rect x="727" y="555" width="18" height="18" fill="#0060ff"/>
<rect x="745" y="555" width="19" height="18" fill="#0060ff"/>
<rect x="764" y="555" width="18" height="18" fill="#0060ff"/>
<rect x="782" y="555" width="18" height="18" fill="#0060ff"/>
<rect x="200" y="573" width="18" height="18" fill="#00fee9"/>
<rect x="218" y="573" width="18" height="18" fill="#00fdd2"/>
<rect x="236" y="573" width="19" height="18" fill="#00fdd2"/>
<rect x="255" y="573" width="18" height="18" fill="#00ffff"/>
<rect x="273" y="573" width="18" height="18" fill="#00efff"/>
<rect x="291" y="573" width="18" height="18" fill="#00dfff"/>
<rect x="309" y="573" width="18" height="18" fill="#00cfff"/>
<rect x="327" y="573" width="18" height="18" fill="#00bfff"/>
<rect x="345" y="573" width="19" height="18" fill="#00afff"/>
<rect x="364" y="573" width="18" height="18" fill="#00afff"/>
<rect x="382" y="573" width="18" height="18" fill="#00afff"/>
<rect x="400" y="573" width="18" height="18" fill="#00afff"/>
<rect x="418" y="573" width="18" height="18" fill="#00afff"/>
<rect x="436" y="573" width="19" height="18" fill="#00afff"/>
<rect x="455" y="573" width="18" height="18" fill="#008fff"/>
<rect x="473" y="573" width="18" height="18" fill="#0060ff"/>
<rect x="491" y="573" width="18" height="18" fill="#0060ff"/>
<rect x="509" y="573" width="18" height="18" fill="#0080ff"/>
<rect x="527" y="573" width="18" height="18" fill="#0080ff"/>
<rect x="545" y="573" width="19" height="18" fill="#008fff"/>
<rect x="564" y="573" width="18" height="18" fill="#008fff"/>
<rect x="582" y="573" width="18" height="18" fill="#008fff"/>
<rect x="600" y="573" width="18" height="18" fill="#008fff"/>
<rect x="618" y="573" width="18" height="18" fill="#008fff"/>
<rect x="636" y="573" width="19" height="18" fill="#0080ff"/>
<rect x="655" y="573" width="18" height="18" fill="#0080ff"/>
<rect x="673" y="573" width="18" height="18" fill="#0080ff"/>
<rect x="691" y="573" width="18" height="18" fill="#0080ff"/>
<rect x="709" y="573" width="18" height="18" fill="#0080ff"/>
<rect x="727" y="573" width="18" height="18" fill="#0080ff"/>
<rect x="745" y="573" width="19" height="18" fill="#0070ff"/>
<rect x="764" y="573" width="18" height="18" fill="#0070ff"/>
<rect x="782" y="573" width="18" height="18" fill="#0070ff"/>
<rect x="127" y="591" width="18" height="18" fill="#00dfff"/>
<rect x="145" y="591" width="19" height="18" fill="#00dfff"/>
<rect x="164" y="591" width="18" height="18" fill="#00efff"/>
<rect x="182" y="591" width="18" height="18" fill="#00fee9"/>
<rect x="200" y="591" width="18" height="18" fill="#00fcbc"/>
<rect x="218" y="591" width="18" height="18" fill="#00fdd2"/>
<rect x="236" y="591" width="19" height="18" fill="#00fdd2"/>
<rect x="255" y="591" width="18" height="18" fill="#00ffff"/>
<rect x="273" y="591" width="18" height="18" fill="#00efff"/>
<rect x="291" y="591" width="18" height="18" fill="#00dfff"/>
<rect x="309" y="591" width="18" height="18" fill="#00d6ff"/>
<rect x="327" y="591" width="18" height="18" fill="#00c9ff"/>
<rect x="345" y="591" width="19" height="18" fill="#00bfff"/>
<rect x="364" y="591" width="18" height="18" fill="#00b6ff"/>
<rect x="382" y="591" width="18" height="18" fill="#00afff"/>
<rect x="400" y="591" width="18" height="18" fill="#00afff"/>
<rect x="418" y="591" width="18" height="18" fill="#00afff"/>
<rect x="436" y="591" width="19" height="18" fill="#00afff"/>
<rect x="455" y="591" width="18" height="18" fill="#009fff"/>
<rect x="473" y="591" width="18" height="18" fill="#0080ff"/>
<rect x="491" y="591" width="18" height="18" fill="#0079ff"/>
<rect x="509" y="591" width="18" height="18" fill="#008fff"/>
<rect x="527" y="591" width="18" height="18" fill="#009fff"/>
<rect x="545" y="591" width="19" height="18" fill="#009fff"/>
<rect x="564" y="591" width="18" height="18" fill="#009fff"/>
<rect x="582" y="591" width="18" height="18" fill="#009fff"/>
<rect x="600" y="591" width="18" height="18" fill="#009fff"/>
<rect x="618" y="591" width="18" height="18" fill="#009fff"/>
<rect x="636" y="591" width="19" height="18" fill="#009fff"/>
<rect x="655" y="591" width="18" height="18" fill="#009fff"/>
<rect x="673" y="591" width="18" height="18" fill="#009fff"/>
<rect x="691" y="591" width="18" height="18" fill="#009fff"/>
<rect x="709" y="591" width="18" height="18" fill="#008fff"/>
<rect x="727" y="591" width="18" height="18" fill="#008fff"/>
<rect x="745" y="591" width="19" height="18" fill="#008fff"/>
<rect x="764" y="591" width="18" height="18" fill="#008fff"/>
<rect x="782" y="591" width="18" height="18" fill="#0080ff"/>
<rect x="18" y="609" width="18" height="18" fill="#008fff"/>
<rect x="36" y="609" width="19" height="18" fill="#009fff"/>
<rect x="55" y="609" width="18" height="18" fill="#009fff"/>
<rect x="73" y="609" width="18" height="18" fill="#00afff"/>
<rect x="91" y="609" width="18" height="18" fill="#00afff"/>
<rect x="109" y="609" width="18" height="18" fill="#00bfff"/>
<rect x="127" y="609" width="18" height="18" fill="#00cfff"/>
<rect x="145" y="609" width="19" height="18" fill="#00dfff"/>
<rect x="164" y="609" width="18" height="18" fill="#00efff"/>
<rect x="182" y="609" width="18" height="18" fill="#00ffff"/>
<rect x="200" y="609" width="18" height="18" fill="#00fdd2"/>
<rect x="218" y="609" width="18" height="18" fill="#00fdd2"/>
<rect x="236" y="609" width="19" height="18" fill="#00fdd2"/>
<rect x="255" y="609" width="18" height="18" fill="#00fee9"/>
<rect x="273" y="609" width="18" height="18" fill="#00ffff"/>
<rect x="291" y="609" width="18" height="18" fill="#00efff"/>
<rect x="309" y="609" width="18" height="18" fill="#00e9ff"/>
<rect x="327" y="609" width="18" height="18" fill="#00d9ff"/>
<rect x="345" y="609" width="19" height="18" fill="#00c9ff"/>
<rect x="364" y="609" width="18" height="18" fill="#00b6ff"/>
<rect x="382" y="609" width="18" height="18" fill="#00a9ff"/>
<rect x="400" y="609" width="18" height="18" fill="#00a9ff"/>
<rect x="418" y="609" width="18" height="18" fill="#00a9ff"/>
<rect x="436" y="609" width="19" height="18" fill="#00afff"/>
<rect x="455" y="609" width="18" height="18" fill="#009fff"/>
<rect x="473" y="609" width="18" height="18" fill="#008fff"/>
<rect x="491" y="609" width="18" height="18" fill="#0080ff"/>
<rect x="509" y="609" width="18" height="18" fill="#0080ff"/>
<rect x="527" y="609" width="18" height="18" fill="#008fff"/>
<rect x="545" y="609" width="19" height="18" fill="#009fff"/>
<rect x="564" y="609" width="18" height="18" fill="#00afff"/>
<rect x="582" y="609" width="18" height="18" fill="#00afff"/>
<rect x="600" y="609" width="18" height="18" fill="#00afff"/>
<rect x="618" y="609" width="18" height="18" fill="#00bfff"/>
<rect x="636" y="609" width="19" height="18" fill="#00cfff"/>
<rect x="655" y="609" width="18" height="18" fill="#00bfff"/>
<rect x="673" y="609" width="18" height="18" fill="#00bfff"/>
<rect x="691" y="609" width="18" height="18" fill="#00afff"/>
<rect x="709" y="609" width="18" height="18" fill="#009fff"/>
<rect x="727" y="609" width="18" height="18" fill="#009fff"/>
<rect x="745" y="609" width="19" height="18" fill="#009fff"/>
<rect x="764" y="609" width="18" height="18" fill="#009fff"/>
<rect x="782" y="609" width="18" height="18" fill="#008fff"/>
<rect x="0" y="627" width="18" height="18" fill="#008fff"/>
<rect x="18" y="627" width="18" height="18" fill="#008fff"/>
<rect x="36" y="627" width="19" height="18" fill="#009fff"/>
<rect x="55" y="627" width="18" height="18" fill="#009fff"/>
<rect x="73" y="627" width="18" height="18" fill="#00afff"/>
<rect x="91" y="627" width="18" height="18" fill="#00afff"/>
<rect x="109" y="627" width="18" height="18" fill="#00bfff"/>
<rect x="127" y="627" width="18" height="18" fill="#00cfff"/>
<rect x="145" y="627" width="19" height="18" fill="#00dfff"/>
<rect x="164" y="627" width="18" height="18" fill="#00efff"/>
<rect x="182" y="627" width="18" height="18" fill="#00ffff"/>
<rect x="200" y="627" width="18" height="18" fill="#00fee9"/>
<rect x="218" y="627" width="18" height="18" fill="#00fdd2"/>
<rect x="236" y="627" width="19" height="18" fill="#00fdd2"/>
<rect x="255" y="627" width="18" height="18" fill="#00fdd2"/>
<rect x="273" y="627" width="18" height="18" fill="#00fee9"/>
<rect x="291" y="627" width="18" height="18" fill="#00ffff"/>
<rect x="309" y="627" width="18" height="18" fill="#00fff6"/>
<rect x="327" y="627" width="18" height="18" fill="#00efff"/>
<rect x="345" y="627" width="19" height="18" fill="#00dfff"/>
<rect x="364" y="627" width="18" height="18" fill="#00c9ff"/>
<rect x="382" y="627" width="18" height="18" fill="#00afff"/>
<rect x="400" y="627" width="18" height="18" fill="#00a6ff"/>
<rect x="418" y="627" width="18" height="18" fill="#009fff"/>
<rect x="436" y="627" width="19" height="18" fill="#00afff"/>
<rect x="455" y="627" width="18" height="18" fill="#00a6ff"/>
<rect x="473" y="627" width="18" height="18" fill="#0096ff"/>
<rect x="491" y="627" width="18" height="18" fill="#008fff"/>
<rect x="509" y="627" width="18" height="18" fill="#0086ff"/>
<rect x="527" y="627" width="18" height="18" fill="#0069ff"/>
<rect x="545" y="627" width="19" height="18" fill="#0070ff"/>
<rect x="564" y="627" width="18" height="18" fill="#0086ff"/>
<rect x="582" y="627" width="18" height="18" fill="#00a9ff"/>
<rect x="600" y="627" width="18" height="18" fill="#00cfff"/>
<rect x="618" y="627" width="18" height="18" fill="#00dfff"/>
<rect x="636" y="627" width="19" height="18" fill="#00dfff"/>
<rect x="655" y="627" width="18" height="18" fill="#00cfff"/>
<rect x="673" y="627" width="18" height="18" fill="#00bfff"/>
<rect x="691" y="627" width="18" height="18" fill="#00bfff"/>
<rect x="709" y="627" width="18" height="18" fill="#00afff"/>
<rect x="727" y="627" width="18" height="18" fill="#00afff"/>
<rect x="745" y="627" width="19" height="18" fill="#00afff"/>
<rect x="764" y="627" width="18" height="18" fill="#009fff"/>
<rect x="782" y="627" width="18" height="18" fill="#008fff"/>
<rect x="0" y="645" width="18" height="19" fill="#008fff"/>
<rect x="18" y="645" width="18" height="19" fill="#008fff"/>
<rect x="36" y="645" width="19" height="19" fill="#008fff"/>
<rect x="55" y="645" width="18" height="19" fill="#008fff"/>
<rect x="73" y="645" width="18" height="19" fill="#009fff"/>
<rect x="91" y="645" width="18" height="19" fill="#00afff"/>
<rect x="109" y="645" width="18" height="19" fill="#00bfff"/>
<rect x="127" y="645" width="18" height="19" fill="#00cfff"/>
<rect x="145" y="645" width="19" height="19" fill="#00cfff"/>
<rect x="164" y="645" width="18" height="19" fill="#00dfff"/>
<rect x="182" y="645" width="18" height="19" fill="#00efff"/>
<rect x="200" y="645" width="18" height="19" fill="#00ffff"/>
<rect x="218" y="645" width="18" height="19" fill="#00fee9"/>
<rect x="236" y="645" width="19" height="19" fill="#00fdd2"/>
<rect x="255" y="645" width="18" height="19" fill="#00fdd2"/>
<rect x="273" y="645" width="18" height="19" fill="#00fdd2"/>
<rect x="291" y="645" width="18" height="19" fill="#00fee9"/>
<rect x="309" y="645" width="18" height="19" fill="#00fdd2"/>
<rect x="327" y="645" width="18" height="19" fill="#00fff2"/>
<rect x="345" y="645" width="19" height="19" fill="#00f9ff"/>
<rect x="364" y="645" width="18" height="19" fill="#00dfff"/>
<rect x="382" y="645" width="18" height="19" fill="#00b9ff"/>
<rect x="400" y="645" width="18" height="19" fill="#00a9ff"/>
<rect x="418" y="645" width="18" height="19" fill="#00a6ff"/>
<rect x="436" y="645" width="19" height="19" fill="#00afff"/>
<rect x="455" y="645" width="18" height="19" fill="#00a6ff"/>
<rect x="473" y="645" width="18" height="19" fill="#0096ff"/>
<rect x="491" y="645" width="18" height="19" fill="#008fff"/>
<rect x="509" y="645" width="18" height="19" fill="#008fff"/>
<rect x="527" y="645" width="18" height="19" fill="#0076ff"/>
<rect x="545" y="645" width="19" height="19" fill="#0060ff"/>
<rect x="564" y="645" width="18" height="19" fill="#0070ff"/>
<rect x="582" y="645" width="18" height="19" fill="#009fff"/>
<rect x="600" y="645" width="18" height="19" fill="#00dfff"/>
<rect x="618" y="645" width="18" height="19" fill="#00efff"/>
<rect x="636" y="645" width="19" height="19" fill="#00efff"/>
<rect x="655" y="645" width="18" height="19" fill="#00dfff"/>
<rect x="673" y="645" width="18" height="19" fill="#00cfff"/>
<rect x="691" y="645" width="18" height="19" fill="#00bfff"/>
<rect x="709" y="645" width="18" height="19" fill="#00bfff"/>
<rect x="727" y="645" width="18" height="19" fill="#00afff"/>
<rect x="745" y="645" width="19" height="19" fill="#00afff"/>
<rect x="764" y="645" width="18" height="19" fill="#009fff"/>
<rect x="782" y="645" width="18" height="19" fill="#009fff"/>
<rect x="0" y="664" width="18" height="18" fill="#008fff"/>
<rect x="18" y="664" width="18" height="18" fill="#008fff"/>
<rect x="36" y="664" width="19" height="18" fill="#008fff"/>
<rect x="55" y="664" width="18" height="18" fill="#008fff"/>
<rect x="73" y="664" width="18" height="18" fill="#009fff"/>
<rect x="91" y="664" width="18" height="18" fill="#00afff"/>
<rect x="109" y="664" width="18" height="18" fill="#00afff"/>
<rect x="127" y="664" width="18" height="18" fill="#00bfff"/>
<rect x="145" y="664" width="19" height="18" fill="#00cfff"/>
<rect x="164" y="664" width="18" height="18" fill="#00dfff"/>
<rect x="182" y="664" width="18" height="18" fill="#00dfff"/>
<rect x="200" y="664" width="18" height="18" fill="#00efff"/>
<rect x="218" y="664" width="18" height="18" fill="#00ffff"/>
<rect x="236" y="664" width="19" height="18" fill="#00fee9"/>
<rect x="255" y="664" width="18" height="18" fill="#00fdd2"/>
<rect x="273" y="664" width="18" height="18" fill="#00fdd2"/>
<rect x="291" y="664" width="18" height="18" fill="#00fcbc"/>
<rect x="309" y="664" width="18" height="18" fill="#00faa6"/>
<rect x="327" y="664" width="18" height="18" fill="#00fcc5"/>
<rect x="345" y="664" width="19" height="18" fill="#00fff2"/>
<rect x="364" y="664" width="18" height="18" fill="#00efff"/>
<rect x="382" y="664" width="18" height="18" fill="#00c9ff"/>
<rect x="400" y="664" width="18" height="18" fill="#00b2ff"/>
<rect x="418" y="664" width="18" height="18" fill="#00afff"/>
<rect x="436" y="664" width="19" height="18" fill="#00b9ff"/>
<rect x="455" y="664" width="18" height="18" fill="#00afff"/>
<rect x="473" y="664" width="18" height="18" fill="#00a6ff"/>
<rect x="491" y="664" width="18" height="18" fill="#009fff"/>
<rect x="509" y="664" width="18" height="18" fill="#009fff"/>
<rect x="527" y="664" width="18" height="18" fill="#008fff"/>
<rect x="545" y="664" width="19" height="18" fill="#0086ff"/>
<rect x="564" y="664" width="18" height="18" fill="#0079ff"/>
<rect x="582" y="664" width="18" height="18" fill="#0089ff"/>
<rect x="600" y="664" width="18" height="18" fill="#00afff"/>
<rect x="618" y="664" width="18" height="18" fill="#00cfff"/>
<rect x="636" y="664" width="19" height="18" fill="#00dfff"/>
<rect x="655" y="664" width="18" height="18" fill="#00dfff"/>
<rect x="673" y="664" width="18" height="18" fill="#00cfff"/>
<rect x="691" y="664" width="18" height="18" fill="#00cfff"/>
<rect x="709" y="664" width="18" height="18" fill="#00bfff"/>
<rect x="727" y="664" width="18" height="18" fill="#00afff"/>
<rect x="745" y="664" width="19" height="18" fill="#00afff"/>
<rect x="764" y="664" width="18" height="18" fill="#00afff"/>
<rect x="782" y="664" width="18" height="18" fill="#009fff"/>
<rect x="0" y="682" width="18" height="18" fill="#0080ff"/>
<rect x="18" y="682" width="18" height="18" fill="#008fff"/>
<rect x="36" y="682" width="19" height="18" fill="#008fff"/>
<rect x="55" y="682" width="18" height="18" fill="#008fff"/>
<rect x="73" y="682" width="18" height="18" fill="#009fff"/>
<rect x="91" y="682" width="18" height="18" fill="#009fff"/>
<rect x="109" y="682" width="18" height="18" fill="#00afff"/>
<rect x="127" y="682" width="18" height="18" fill="#00bfff"/>
<rect x="145" y="682" width="19" height="18" fill="#00bfff"/>
<rect x="164" y="682" width="18" height="18" fill="#00c9ff"/>
<rect x="182" y="682" width="18" height="18" fill="#00d2ff"/>
<rect x="200" y="682" width="18" height="18" fill="#00dfff"/>
<rect x="218" y="682" width="18" height="18" fill="#00efff"/>
<rect x="236" y="682" width="19" height="18" fill="#00fff6"/>
<rect x="255" y="682" width="18" height="18" fill="#00fdd2"/>
<rect x="273" y="682" width="18" height="18" fill="#00fbb3"/>
<rect x="291" y="682" width="18" height="18" fill="#00faa6"/>
<rect x="309" y="682" width="18" height="18" fill="#00f98f"/>
<rect x="327" y="682" width="18" height="18" fill="#00f998"/>
<rect x="345" y="682" width="19" height="18" fill="#00fdd2"/>
<rect x="364" y="682" width="18" height="18" fill="#00fff6"/>
<rect x="382" y="682" width="18" height="18" fill="#00e9ff"/>
<rect x="400" y="682" width="18" height="18" fill="#00d2ff"/>
<rect x="418" y="682" width="18" height="18" fill="#00c9ff"/>
<rect x="436" y="682" width="19" height="18" fill="#00bfff"/>
<rect x="455" y="682" width="18" height="18" fill="#00b6ff"/>
<rect x="473" y="682" width="18" height="18" fill="#00afff"/>
<rect x="491" y="682" width="18" height="18" fill="#00a9ff"/>
<rect x="509" y="682" width="18" height="18" fill="#00a6ff"/>
<rect x="527" y="682" width="18" height="18" fill="#00a6ff"/>
<rect x="545" y="682" width="19" height="18" fill="#009fff"/>
<rect x="564" y="682" width="18" height="18" fill="#0099ff"/>
<rect x="582" y="682" width="18" height="18" fill="#0086ff"/>
<rect x="600" y="682" width="18" height="18" fill="#0070ff"/>
<rect x="618" y="682" width="18" height="18" fill="#0080ff"/>
<rect x="636" y="682" width="19" height="18" fill="#008fff"/>
<rect x="655" y="682" width="18" height="18" fill="#00afff"/>
<rect x="673" y="682" width="18" height="18" fill="#00bfff"/>
<rect x="691" y="682" width="18" height="18" fill="#00bfff"/>
<rect x="709" y="682" width="18" height="18" fill="#00bfff"/>
<rect x="727" y="682" width="18" height="18" fill="#00afff"/>
<rect x="745" y="682" width="19" height="18" fill="#00afff"/>
<rect x="764" y="682" width="18" height="18" fill="#00afff"/>
<rect x="782" y="682" width="18" height="18" fill="#009fff"/>
<rect x="0" y="700" width="18" height="18" fill="#0080ff"/>
<rect x="18" y="700" width="18" height="18" fill="#0080ff"/>
<rect x="36" y="700" width="19" height="18" fill="#0080ff"/>
<rect x="55" y="700" width="18" height="18" fill="#0080ff"/>
<rect x="73" y="700" width="18" height="18" fill="#008fff"/>
<rect x="91" y="700" width="18" height="18" fill="#009fff"/>
<rect x="109" y="700" width="18" height="18" fill="#00afff"/>
<rect x="127" y="700" width="18" height="18" fill="#00afff"/>
<rect x="145" y="700" width="19" height="18" fill="#00b9ff"/>
<rect x="164" y="700" width="18" height="18" fill="#00bfff"/>
<rect x="182" y="700" width="18" height="18" fill="#00c9ff"/>
<rect x="200" y="700" width="18" height="18" fill="#00d6ff"/>
<rect x="218" y="700" width="18" height="18" fill="#00e6ff"/>
<rect x="236" y="700" width="19" height="18" fill="#00f2ff"/>
<rect x="255" y="700" width="18" height="18" fill="#00ffff"/>
<rect x="273" y="700" width="18" height="18" fill="#00fee9"/>
<rect x="291" y="700" width="18" height="18" fill="#00fdd2"/>
<rect x="309" y="700" width="18" height="18" fill="#00fcc5"/>
<rect x="327" y="700" width="18" height="18" fill="#00fcbc"/>
<rect x="345" y="700" width="19" height="18" fill="#00fcbc"/>
<rect x="364" y="700" width="18" height="18" fill="#00fcc5"/>
<rect x="382" y="700" width="18" height="18" fill="#00fdd2"/>
<rect x="400" y="700" width="18" height="18" fill="#00fddb"/>
<rect x="418" y="700" width="18" height="18" fill="#00ffff"/>
<rect x="436" y="700" width="19" height="18" fill="#00efff"/>
<rect x="455" y="700" width="18" height="18" fill="#00dfff"/>
<rect x="473" y="700" width="18" height="18" fill="#00cfff"/>
<rect x="491" y="700" width="18" height="18" fill="#00bfff"/>
<rect x="509" y="700" width="18" height="18" fill="#00b6ff"/>
<rect x="527" y="700" width="18" height="18" fill="#00afff"/>
<rect x="545" y="700" width="19" height="18" fill="#00afff"/>
<rect x="564" y="700" width="18" height="18" fill="#00afff"/>
<rect x="582" y="700" width="18" height="18" fill="#00a6ff"/>
<rect x="600" y="700" width="18" height="18" fill="#008fff"/>
<rect x="618" y="700" width="18" height="18" fill="#0070ff"/>
<rect x="636" y="700" width="19" height="18" fill="#0060ff"/>
<rect x="655" y="700" width="18" height="18" fill="#0060ff"/>
<rect x="673" y="700" width="18" height="18" fill="#0070ff"/>
<rect x="691" y="700" width="18" height="18" fill="#008fff"/>
<rect x="709" y="700" width="18" height="18" fill="#009fff"/>
<rect x="727" y="700" width="18" height="18" fill="#009fff"/>
<rect x="745" y="700" width="19" height="18" fill="#009fff"/>
<rect x="764" y="700" width="18" height="18" fill="#009fff"/>
<rect x="782" y="700" width="18" height="18" fill="#009fff"/>
<rect x="0" y="718" width="18" height="18" fill="#0070ff"/>
<rect x="18" y="718" width="18" height="18" fill="#0080ff"/>
<rect x="36" y="718" width="19" height="18" fill="#0080ff"/>
<rect x="55" y="718" width="18" height="18" fill="#0080ff"/>
<rect x="73" y="718" width="18" height="18" fill="#008fff"/>
<rect x="91" y="718" width="18" height="18" fill="#009fff"/>
<rect x="109" y="718" width="18" height="18" fill="#009fff"/>
<rect x="127" y="718" width="18" height="18" fill="#00afff"/>
<rect x="145" y="718" width="19" height="18" fill="#00afff"/>
<rect x="164" y="718" width="18" height="18" fill="#00b9ff"/>
<rect x="182" y="718" width="18" height="18" fill="#00bfff"/>
<rect x="200" y="718" width="18" height="18" fill="#00c9ff"/>
<rect x="218" y="718" width="18" height="18" fill="#00d9ff"/>
<rect x="236" y="718" width="19" height="18" fill="#00e6ff"/>
<rect x="255" y="718" width="18" height="18" fill="#00efff"/>
<rect x="273" y="718" width="18" height="18" fill="#00f9ff"/>
<rect x="291" y="718" width="18" height="18" fill="#00ffff"/>
<rect x="309" y="718" width="18" height="18" fill="#00ffff"/>
<rect x="327" y="718" width="18" height="18" fill="#00fff6"/>
<rect x="345" y="718" width="19" height="18" fill="#00fff2"/>
<rect x="364" y="718" width="18" height="18" fill="#00fee9"/>
<rect x="382" y="718" width="18" height="18" fill="#00fcc5"/>
<rect x="400" y="718" width="18" height="18" fill="#00fbaf"/>
<rect x="418" y="718" width="18" height="18" fill="#00faa6"/>
<rect x="436" y="718" width="19" height="18" fill="#00faa6"/>
<rect x="455" y="718" width="18" height="18" fill="#00fbaf"/>
<rect x="473" y="718" width="18" height="18" fill="#00fdd2"/>
<rect x="491" y="718" width="18" height="18" fill="#00ffff"/>
<rect x="509" y="718" width="18" height="18" fill="#00dfff"/>
<rect x="527" y="718" width="18" height="18" fill="#00c9ff"/>
<rect x="545" y="718" width="19" height="18" fill="#00bfff"/>
<rect x="564" y="718" width="18" height="18" fill="#00bfff"/>
<rect x="582" y="718" width="18" height="18" fill="#00b9ff"/>
<rect x="600" y="718" width="18" height="18" fill="#00afff"/>
<rect x="618" y="718" width="18" height="18" fill="#008fff"/>
<rect x="636" y="718" width="19" height="18" fill="#0060ff"/>
<rect x="655" y="718" width="18" height="18" fill="#0050ff"/>
<rect x="673" y="718" width="18" height="18" fill="#0050ff"/>
<rect x="691" y="718" width="18" height="18" fill="#0060ff"/>
<rect x="709" y="718" width="18" height="18" fill="#0080ff"/>
<rect x="727" y="718" width="18" height="18" fill="#008fff"/>
<rect x="745" y="718" width="19" height="18" fill="#008fff"/>
<rect x="764" y="718" width="18" height="18" fill="#008fff"/>
<rect x="782" y="718" width="18" height="18" fill="#008fff"/>
<rect x="0" y="736" width="18" height="19" fill="#0070ff"/>
<rect x="18" y="736" width="18" height="19" fill="#0070ff"/>
<rect x="36" y="736" width="19" height="19" fill="#0080ff"/>
<rect x="55" y="736" width="18" height="19" fill="#0080ff"/>
<rect x="73" y="736" width="18" height="19" fill="#008fff"/>
<rect x="91" y="736" width="18" height="19" fill="#009fff"/>
<rect x="109" y="736" width="18" height="19" fill="#00afff"/>
<rect x="127" y="736" width="18" height="19" fill="#00afff"/>
<rect x="145" y="736" width="19" height="19" fill="#00a6ff"/>
<rect x="164" y="736" width="18" height="19" fill="#00afff"/>
<rect x="182" y="736" width="18" height="19" fill="#00b6ff"/>
<rect x="200" y="736" width="18" height="19" fill="#00bfff"/>
<rect x="218" y="736" width="18" height="19" fill="#00c9ff"/>
<rect x="236" y="736" width="19" height="19" fill="#00d6ff"/>
<rect x="255" y="736" width="18" height="19" fill="#00dfff"/>
<rect x="273" y="736" width="18" height="19" fill="#00e6ff"/>
<rect x="291" y="736" width="18" height="19" fill="#00e9ff"/>
<rect x="309" y="736" width="18" height="19" fill="#00efff"/>
<rect x="327" y="736" width="18" height="19" fill="#00f5ff"/>
<rect x="345" y="736" width="19" height="19" fill="#00f9ff"/>
<rect x="364" y="736" width="18" height="19" fill="#00ffff"/>
<rect x="382" y="736" width="18" height="19" fill="#00fee9"/>
<rect x="400" y="736" width="18" height="19" fill="#00fcc5"/>
<rect x="418" y="736" width="18" height="19" fill="#00fa9d"/>
<rect x="436" y="736" width="19" height="19" fill="#00f98f"/>
<rect x="455" y="736" width="18" height="19" fill="#00f98f"/>
<rect x="473" y="736" width="18" height="19" fill="#00f98f"/>
<rect x="491" y="736" width="18" height="19" fill="#00f998"/>
<rect x="509" y="736" width="18" height="19" fill="#00fcbc"/>
<rect x="527" y="736" width="18" height="19" fill="#00fee0"/>
<rect x="545" y="736" width="19" height="19" fill="#00ffff"/>
<rect x="564" y="736" width="18" height="19" fill="#00efff"/>
<rect x="582" y="736" width="18" height="19" fill="#00e6ff"/>
<rect x="600" y="736" width="18" height="19" fill="#00bfff"/>
<rect x="618" y="736" width="18" height="19" fill="#00afff"/>
<rect x="636" y="736" width="19" height="19" fill="#008fff"/>
<rect x="655" y="736" width="18" height="19" fill="#0060ff"/>
<rect x="673" y="736" width="18" height="19" fill="#0050ff"/>
<rect x="691" y="736" width="18" height="19" fill="#0050ff"/>
<rect x="709" y="736" width="18" height="19" fill="#0070ff"/>
<rect x="727" y="736" width="18" height="19" fill="#0080ff"/>
<rect x="745" y="736" width="19" height="19" fill="#0080ff"/>
<rect x="764" y="736" width="18" height="19" fill="#008fff"/>
<rect x="782" y="736" width="18" height="19" fill="#008fff"/>
<rect x="0" y="755" width="18" height="17" fill="#0060ff"/>
<rect x="18" y="755" width="18" height="17" fill="#0070ff"/>
<rect x="36" y="755" width="19" height="17" fill="#0070ff"/>
<rect x="55" y="755" width="18" height="17" fill="#0070ff"/>
<rect x="73" y="755" width="18" height="17" fill="#0080ff"/>
<rect x="91" y="755" width="18" height="17" fill="#008fff"/>
<rect x="109" y="755" width="18" height="17" fill="#009fff"/>
<rect x="127" y="755" width="18" height="17" fill="#00afff"/>
<rect x="145" y="755" width="19" height="17" fill="#008fff"/>
<rect x="164" y="755" width="18" height="17" fill="#0099ff"/>
<rect x="182" y="755" width="18" height="17" fill="#009fff"/>
<rect x="200" y="755" width="18" height="17" fill="#00a9ff"/>
<rect x="218" y="755" width="18" height="17" fill="#00b6ff"/>
<rect x="236" y="755" width="19" height="17" fill="#00bfff"/>
<rect x="255" y="755" width="18" height="17" fill="#00c6ff"/>
<rect x="273" y="755" width="18" height="17" fill="#00ccff"/>
<rect x="291" y="755" width="18" height="17" fill="#00cfff"/>
<rect x="309" y="755" width="18" height="17" fill="#00d6ff"/>
<rect x="327" y="755" width="18" height="17" fill="#00dfff"/>
<rect x="345" y="755" width="19" height="17" fill="#00e9ff"/>
<rect x="364" y="755" width="18" height="17" fill="#00efff"/>
<rect x="382" y="755" width="18" height="17" fill="#00f9ff"/>
<rect x="400" y="755" width="18" height="17" fill="#00fff6"/>
<rect x="418" y="755" width="18" height="17" fill="#00fdd2"/>
<rect x="436" y="755" width="19" height="17" fill="#00fcbc"/>
<rect x="455" y="755" width="18" height="17" fill="#00f998"/>
<rect x="473" y="755" width="18" height="17" fill="#00f882"/>
<rect x="491" y="755" width="18" height="17" fill="#00f879"/>
<rect x="509" y="755" width="18" height="17" fill="#00f879"/>
<rect x="527" y="755" width="18" height="17" fill="#00f882"/>
<rect x="545" y="755" width="19" height="17" fill="#00f998"/>
<rect x="564" y="755" width="18" height="17" fill="#00fcc5"/>
<rect x="582" y="755" width="18" height="17" fill="#00fee0"/>
<rect x="600" y="755" width="18" height="17" fill="#00dfff"/>
<rect x="618" y="755" width="18" height="17" fill="#00cfff"/>
<rect x="636" y="755" width="19" height="17" fill="#00bfff"/>
<rect x="655" y="755" width="18" height="17" fill="#009fff"/>
<rect x="673" y="755" width="18" height="17" fill="#0070ff"/>
<rect x="691" y="755" width="18" height="17" fill="#0050ff"/>
<rect x="709" y="755" width="18" height="17" fill="#0050ff"/>
<rect x="727" y="755" width="18" height="17" fill="#0060ff"/>
<rect x="745" y="755" width="19" height="17" fill="#0080ff"/>
<rect x="764" y="755" width="18" height="17" fill="#008fff"/>
<rect x="782" y="755" width="18" height="17" fill="#008fff"/>
</g>
<path d="M651.5 130.5L655.5 126.5M651.5 148.5L655.5 144.5M669.5 148.5L673.5 144.5M687.5 148.5L691.5 144.5M705.5 147.5L709.5 143.5M669.5 167.5L673.5 163.5M687.5 165.5L691.5 161.5M705.5 165.5L709.5 161.5M723.5 165.5L727.5 161.5M669.5 185.5L673.5 181.5M669.5 204.5L673.5 200.5M708.5 202.5L711.5 199.5M726.5 202.5L729.5 199.5M744.5 202.5L747.5 199.5M708.5 221.5L711.5 218.5M726.5 220.5L729.5 217.5M744.5 220.5L747.5 217.5M627.5 236.5L616.5 248.5M645.5 236.5L634.5 246.5M663.5 236.5L652.5 246.5M709.5 239.5L712.5 236.5M726.5 238.5L729.5 235.5M744.5 238.5L747.5 235.5M609.5 254.5L597.5 267.5M627.5 254.5L616.5 266.5M645.5 254.5L633.5 265.5M663.5 254.5L652.5 264.5M709.5 257.5L712.5 254.5M726.5 256.5L729.5 253.5M627.5 272.5L615.5 285.5M645.5 272.5L633.5 283.5M663.5 272.5L652.5 282.5M709.5 275.5L712.5 272.5M263.5 290.5L258.5 295.5M645.5 290.5L634.5 302.5M663.5 290.5L652.5 300.5M709.5 294.5L712.5 291.5M747.5 291.5L749.5 289.5M223.5 300.5L226.5 303.5M242.5 303.5L244.5 305.5M532.5 321.5L536.5 317.5M645.5 309.5L635.5 320.5M663.5 309.5L653.5 318.5M747.5 311.5L749.5 309.5M783.5 310.5L785.5 308.5M263.5 327.5L259.5 323.5M276.5 325.5L278.5 327.5M300.5 327.5L295.5 332.5M334.5 335.5L337.5 332.5M350.5 336.5L353.5 333.5M387.5 338.5L390.5 335.5M497.5 341.5L501.5 337.5M533.5 340.5L537.5 336.5M551.5 339.5L555.5 335.5M645.5 327.5L637.5 335.5M663.5 327.5L656.5 334.5M783.5 330.5L785.5 328.5M318.5 345.5L315.5 348.5M497.5 359.5L501.5 355.5M551.5 356.5L554.5 353.5M645.5 345.5L638.5 352.5M663.5 345.5L657.5 351.5M681.5 345.5L676.5 350.5M783.5 347.5L785.5 345.5M329.5 365.5L331.5 363.5M441.5 375.5L445.5 371.5M459.5 377.5L463.5 373.5M478.5 377.5L482.5 373.5M569.5 374.5L572.5 371.5M587.5 374.5L590.5 371.5M700.5 363.5L695.5 368.5M718.5 363.5L713.5 368.5M736.5 363.5L731.5 368.5M277.5 367.5L281.5 371.5M331.5 379.5L333.5 381.5M348.5 382.5L350.5 380.5M425.5 391.5L428.5 388.5M624.5 392.5L627.5 389.5M642.5 390.5L645.5 387.5M736.5 381.5L731.5 386.5M754.5 381.5L750.5 385.5M772.5 381.5L766.5 387.5M790.5 381.5L782.5 389.5M297.5 383.5L302.5 388.5M314.5 388.5L318.5 392.5M354.5 400.5L351.5 397.5M390.5 400.5L386.5 404.5M408.5 407.5L410.5 405.5M607.5 410.5L610.5 407.5M624.5 410.5L627.5 407.5M660.5 406.5L662.5 404.5M736.5 400.5L731.5 405.5M754.5 400.5L749.5 405.5M772.5 400.5L765.5 407.5M790.5 400.5L780.5 409.5M466.5 428.5L463.5 425.5M484.5 428.5L481.5 425.5M501.5 428.5L498.5 425.5M643.5 425.5L645.5 423.5M661.5 425.5L663.5 423.5M679.5 423.5L681.5 421.5M772.5 418.5L764.5 426.5M790.5 418.5L781.5 427.5M432.5 438.5L430.5 436.5M483.5 444.5L480.5 441.5M644.5 443.5L646.5 441.5M662.5 443.5L664.5 441.5M680.5 442.5L682.5 440.5M698.5 441.5L700.5 439.5M772.5 436.5L764.5 444.5M790.5 436.5L782.5 444.5M431.5 456.5L429.5 454.5M445.5 454.5L449.5 458.5M484.5 461.5L482.5 459.5M502.5 461.5L500.5 459.5M538.5 462.5L535.5 459.5M611.5 462.5L608.5 459.5M646.5 461.5L644.5 459.5M717.5 458.5L719.5 456.5M409.5 472.5L414.5 467.5M445.5 472.5L448.5 475.5M463.5 472.5L467.5 476.5M520.5 479.5L518.5 477.5M629.5 479.5L627.5 477.5M647.5 479.5L645.5 477.5M664.5 478.5L662.5 476.5M717.5 476.5L719.5 474.5M735.5 476.5L737.5 474.5M753.5 476.5L755.5 474.5M394.5 476.5L390.5 480.5M431.5 489.5L429.5 491.5M449.5 491.5L447.5 489.5M481.5 490.5L485.5 494.5M648.5 497.5L646.5 495.5M665.5 495.5L663.5 493.5M682.5 496.5L680.5 494.5M770.5 494.5L772.5 492.5M394.5 492.5L389.5 497.5M413.5 495.5L409.5 499.5M427.5 509.5L432.5 504.5M518.5 509.5L524.5 515.5M536.5 509.5L543.5 516.5M702.5 514.5L700.5 512.5M773.5 513.5L771.5 511.5M791.5 513.5L789.5 511.5M536.5 527.5L544.5 534.5M554.5 527.5L561.5 534.5M572.5 527.5L579.5 534.5M590.5 527.5L597.5 534.5M609.5 527.5L616.5 534.5M627.5 527.5L634.5 534.5M790.5 527.5L794.5 531.5M357.5 528.5L352.5 533.5M376.5 528.5L371.5 533.5M395.5 529.5L390.5 534.5M468.5 543.5L466.5 545.5M488.5 546.5L486.5 544.5M645.5 545.5L651.5 551.5M663.5 545.5L668.5 550.5M790.5 545.5L795.5 550.5M239.5 543.5L245.5 549.5M394.5 546.5L389.5 551.5M415.5 547.5L410.5 552.5M645.5 563.5L651.5 569.5M663.5 563.5L668.5 568.5M257.5 560.5L263.5 566.5M276.5 561.5L282.5 567.5M489.5 579.5L486.5 582.5M663.5 581.5L671.5 589.5M257.5 580.5L263.5 586.5M431.5 585.5L426.5 590.5M463.5 600.5L473.5 590.5M681.5 600.5L691.5 610.5M32.5 615.5L36.5 619.5M100.5 618.5L90.5 608.5M332.5 599.5L338.5 605.5M368.5 602.5L373.5 607.5M481.5 618.5L490.5 609.5M529.5 615.5L526.5 618.5M32.5 633.5L36.5 637.5M100.5 636.5L90.5 626.5M330.5 616.5L336.5 622.5M349.5 617.5L355.5 623.5M367.5 619.5L372.5 624.5M386.5 621.5L391.5 626.5M449.5 621.5L444.5 626.5M481.5 636.5L490.5 626.5M518.5 636.5L527.5 628.5M545.5 633.5L542.5 636.5M584.5 639.5L580.5 635.5M700.5 636.5L712.5 648.5M718.5 636.5L729.5 647.5M736.5 636.5L747.5 647.5M754.5 636.5L765.5 647.5M772.5 636.5L782.5 647.5M118.5 654.5L106.5 643.5M136.5 654.5L124.5 642.5M386.5 638.5L391.5 643.5M604.5 657.5L600.5 653.5M628.5 660.5L622.5 654.5M665.5 659.5L659.5 653.5M154.5 672.5L142.5 660.5M172.5 672.5L160.5 659.5M385.5 655.5L390.5 660.5M405.5 656.5L410.5 661.5M442.5 656.5L447.5 661.5M602.5 669.5L598.5 673.5M154.5 690.5L142.5 679.5M172.5 690.5L161.5 678.5M383.5 671.5L389.5 677.5M422.5 673.5L427.5 678.5M440.5 674.5L445.5 679.5M459.5 674.5L464.5 679.5M576.5 677.5L572.5 681.5M609.5 690.5L616.5 683.5M17.5 707.5L20.5 710.5M35.5 707.5L38.5 710.5M154.5 709.5L143.5 699.5M172.5 709.5L161.5 698.5M421.5 689.5L427.5 695.5M439.5 689.5L445.5 695.5M458.5 690.5L464.5 696.5M495.5 693.5L500.5 698.5M514.5 693.5L519.5 698.5M691.5 707.5L688.5 710.5M713.5 712.5L709.5 708.5M17.5 725.5L20.5 728.5M35.5 724.5L38.5 727.5M154.5 727.5L143.5 717.5M172.5 727.5L161.5 716.5M402.5 704.5L409.5 711.5M421.5 704.5L428.5 711.5M438.5 704.5L445.5 711.5M531.5 710.5L536.5 715.5M548.5 711.5L553.5 716.5M568.5 710.5L573.5 715.5M585.5 711.5L590.5 716.5M688.5 726.5L686.5 728.5M18.5 743.5L21.5 746.5M35.5 742.5L38.5 745.5M190.5 745.5L180.5 734.5M492.5 722.5L500.5 729.5M584.5 726.5L590.5 732.5M647.5 732.5L643.5 736.5M681.5 745.5L686.5 740.5M784.5 749.5L780.5 745.5M36.5 760.5L39.5 763.5M190.5 763.5L181.5 753.5M473.5 740.5L481.5 747.5M604.5 744.5L610.5 750.5M685.5 754.5L682.5 757.5M725.5 761.5L723.5 763.5M784.5 766.5L780.5 762.5M802.5 766.5L798.5 762.5" stroke="#fff" stroke-width="0.87" fill="none" stroke-linecap="square" shape-rendering="crispEdges"/>
<path d="M670.5 73.5L674.5 70.5M668.5 128.5L672.5 125.5M687.5 128.5L691.5 125.5M705.5 129.5L709.5 126.5M723.5 128.5L727.5 125.5M633.5 149.5L636.5 145.5M723.5 147.5L727.5 144.5M741.5 146.5L745.5 143.5M759.5 146.5L763.5 143.5M651.5 168.5L654.5 164.5M741.5 165.5L745.5 162.5M759.5 164.5L763.5 161.5M777.5 164.5L781.5 161.5M651.5 186.5L654.5 182.5M689.5 183.5L693.5 180.5M707.5 183.5L711.5 180.5M725.5 183.5L729.5 180.5M743.5 183.5L747.5 180.5M761.5 182.5L765.5 179.5M779.5 182.5L783.5 179.5M649.5 206.5L653.5 201.5M689.5 202.5L693.5 199.5M590.5 218.5L581.5 230.5M609.5 218.5L598.5 231.5M627.5 218.5L614.5 229.5M669.5 224.5L672.5 220.5M689.5 222.5L692.5 218.5M590.5 236.5L581.5 248.5M609.5 236.5L599.5 249.5M690.5 241.5L693.5 237.5M590.5 254.5L580.5 267.5M690.5 259.5L693.5 255.5M198.5 275.5L201.5 271.5M609.5 272.5L597.5 286.5M690.5 277.5L693.5 273.5M532.5 301.5L536.5 298.5M627.5 290.5L616.5 304.5M681.5 290.5L671.5 298.5M318.5 309.5L310.5 315.5M499.5 320.5L502.5 316.5M516.5 320.5L519.5 316.5M549.5 323.5L554.5 319.5M566.5 324.5L571.5 320.5M627.5 309.5L617.5 322.5M681.5 309.5L673.5 315.5M700.5 309.5L692.5 315.5M368.5 339.5L372.5 336.5M422.5 337.5L426.5 334.5M440.5 339.5L444.5 336.5M457.5 340.5L462.5 336.5M475.5 342.5L480.5 338.5M516.5 340.5L519.5 336.5M568.5 339.5L572.5 336.5M585.5 339.5L589.5 336.5M627.5 327.5L619.5 337.5M681.5 327.5L674.5 333.5M354.5 345.5L348.5 353.5M368.5 356.5L372.5 353.5M422.5 355.5L426.5 352.5M440.5 357.5L444.5 354.5M457.5 360.5L462.5 356.5M475.5 360.5L480.5 356.5M516.5 358.5L519.5 354.5M534.5 356.5L537.5 352.5M568.5 356.5L572.5 353.5M585.5 355.5L589.5 352.5M627.5 345.5L620.5 354.5M390.5 363.5L384.5 371.5M422.5 373.5L426.5 370.5M498.5 376.5L501.5 372.5M517.5 374.5L520.5 370.5M534.5 374.5L537.5 370.5M552.5 374.5L555.5 370.5M605.5 374.5L609.5 371.5M622.5 373.5L626.5 370.5M296.5 370.5L300.5 373.5M390.5 381.5L384.5 388.5M444.5 392.5L447.5 388.5M553.5 392.5L556.5 388.5M571.5 392.5L574.5 388.5M589.5 392.5L592.5 388.5M607.5 392.5L610.5 388.5M277.5 380.5L282.5 386.5M482.5 411.5L479.5 407.5M754.5 436.5L748.5 444.5M374.5 443.5L371.5 447.5M790.5 454.5L784.5 462.5M375.5 473.5L370.5 479.5M357.5 491.5L352.5 497.5M376.5 491.5L371.5 497.5M500.5 509.5L507.5 515.5M554.5 509.5L560.5 517.5M572.5 509.5L578.5 517.5M590.5 509.5L596.5 517.5M609.5 509.5L615.5 517.5M339.5 509.5L334.5 515.5M357.5 509.5L352.5 515.5M376.5 509.5L371.5 515.5M395.5 509.5L389.5 514.5M416.5 510.5L410.5 515.5M427.5 527.5L435.5 517.5M518.5 527.5L526.5 533.5M259.5 525.5L265.5 532.5M320.5 527.5L315.5 533.5M415.5 528.5L409.5 533.5M445.5 545.5L451.5 537.5M518.5 545.5L526.5 551.5M536.5 545.5L544.5 551.5M554.5 545.5L562.5 551.5M572.5 545.5L580.5 551.5M590.5 545.5L598.5 551.5M609.5 545.5L617.5 551.5M627.5 545.5L634.5 551.5M258.5 542.5L264.5 549.5M356.5 548.5L352.5 553.5M375.5 548.5L371.5 553.5M528.5 568.5L525.5 564.5M554.5 563.5L563.5 570.5M572.5 563.5L581.5 570.5M590.5 563.5L599.5 570.5M609.5 563.5L618.5 570.5M627.5 563.5L635.5 569.5M201.5 561.5L208.5 567.5M219.5 560.5L226.5 566.5M238.5 560.5L245.5 566.5M296.5 561.5L301.5 567.5M356.5 565.5L352.5 570.5M374.5 565.5L370.5 570.5M392.5 565.5L388.5 570.5M414.5 566.5L409.5 570.5M432.5 566.5L427.5 570.5M452.5 567.5L447.5 571.5M463.5 581.5L473.5 573.5M528.5 586.5L525.5 582.5M546.5 586.5L543.5 582.5M590.5 581.5L600.5 589.5M627.5 581.5L637.5 589.5M645.5 581.5L654.5 588.5M681.5 581.5L688.5 590.5M700.5 581.5L707.5 590.5M772.5 581.5L778.5 589.5M790.5 581.5L796.5 589.5M136.5 600.5L124.5 586.5M154.5 600.5L143.5 586.5M199.5 579.5L207.5 585.5M219.5 579.5L226.5 585.5M237.5 579.5L244.5 585.5M274.5 581.5L281.5 587.5M311.5 582.5L317.5 587.5M411.5 584.5L407.5 589.5M451.5 586.5L446.5 590.5M491.5 595.5L488.5 599.5M510.5 596.5L507.5 600.5M531.5 601.5L527.5 598.5M549.5 606.5L545.5 601.5M663.5 600.5L674.5 609.5M700.5 600.5L709.5 611.5M718.5 600.5L726.5 610.5M772.5 600.5L780.5 610.5M790.5 600.5L797.5 609.5M15.5 616.5L19.5 619.5M63.5 618.5L53.5 610.5M81.5 618.5L70.5 609.5M118.5 618.5L108.5 606.5M136.5 618.5L125.5 605.5M154.5 618.5L143.5 604.5M350.5 600.5L355.5 606.5M412.5 603.5L408.5 608.5M431.5 603.5L427.5 608.5M450.5 603.5L445.5 607.5M500.5 618.5L509.5 611.5M549.5 620.5L545.5 617.5M567.5 624.5L563.5 619.5M681.5 618.5L694.5 629.5M700.5 618.5L710.5 630.5M718.5 618.5L727.5 629.5M772.5 618.5L781.5 629.5M790.5 618.5L798.5 628.5M-2.5 634.5L1.5 637.5M15.5 634.5L19.5 637.5M81.5 636.5L70.5 627.5M118.5 636.5L108.5 624.5M136.5 636.5L125.5 623.5M154.5 636.5L143.5 622.5M500.5 636.5L508.5 626.5M604.5 641.5L600.5 636.5M626.5 643.5L621.5 637.5M790.5 636.5L798.5 646.5M-2.5 652.5L1.5 655.5M15.5 652.5L19.5 655.5M34.5 650.5L37.5 654.5M100.5 654.5L89.5 645.5M154.5 654.5L143.5 641.5M172.5 654.5L160.5 640.5M309.5 633.5L317.5 639.5M329.5 633.5L336.5 639.5M347.5 634.5L354.5 640.5M406.5 639.5L410.5 644.5M467.5 640.5L462.5 644.5M536.5 654.5L542.5 646.5M647.5 661.5L641.5 654.5M698.5 660.5L693.5 654.5M718.5 654.5L731.5 665.5M736.5 654.5L748.5 664.5M754.5 654.5L766.5 664.5M772.5 654.5L783.5 663.5M790.5 654.5L801.5 663.5M-2.5 671.5L1.5 674.5M15.5 670.5L19.5 673.5M34.5 669.5L38.5 672.5M53.5 666.5L56.5 670.5M118.5 672.5L107.5 663.5M136.5 672.5L124.5 662.5M190.5 672.5L178.5 658.5M328.5 651.5L335.5 657.5M347.5 652.5L354.5 658.5M365.5 653.5L372.5 659.5M424.5 657.5L428.5 662.5M462.5 656.5L466.5 661.5M503.5 658.5L499.5 663.5M524.5 659.5L519.5 663.5M541.5 660.5L537.5 663.5M699.5 676.5L693.5 671.5M736.5 672.5L748.5 682.5M754.5 672.5L766.5 682.5M-0.5 689.5L3.5 692.5M15.5 688.5L19.5 691.5M33.5 688.5L37.5 691.5M118.5 690.5L106.5 681.5M136.5 690.5L124.5 680.5M190.5 690.5L179.5 677.5M209.5 690.5L197.5 674.5M327.5 668.5L335.5 674.5M346.5 669.5L353.5 675.5M365.5 670.5L372.5 676.5M403.5 672.5L409.5 677.5M478.5 675.5L482.5 680.5M498.5 675.5L502.5 680.5M556.5 676.5L552.5 681.5M595.5 679.5L591.5 682.5M627.5 690.5L636.5 683.5M657.5 685.5L654.5 689.5M736.5 690.5L748.5 700.5M754.5 690.5L766.5 700.5M-0.5 708.5L3.5 711.5M118.5 709.5L106.5 700.5M136.5 709.5L125.5 700.5M190.5 709.5L179.5 696.5M209.5 709.5L197.5 694.5M327.5 687.5L335.5 693.5M346.5 687.5L353.5 693.5M364.5 687.5L371.5 693.5M383.5 688.5L390.5 694.5M402.5 688.5L409.5 694.5M476.5 691.5L482.5 696.5M533.5 694.5L537.5 699.5M551.5 694.5L555.5 699.5M569.5 694.5L573.5 699.5M587.5 695.5L591.5 700.5M607.5 696.5L610.5 700.5M731.5 714.5L727.5 709.5M136.5 727.5L125.5 718.5M190.5 727.5L180.5 715.5M209.5 727.5L198.5 713.5M328.5 707.5L335.5 713.5M346.5 707.5L353.5 713.5M365.5 706.5L372.5 712.5M383.5 705.5L390.5 711.5M455.5 705.5L463.5 711.5M472.5 706.5L480.5 712.5M493.5 707.5L500.5 713.5M607.5 711.5L611.5 716.5M625.5 714.5L628.5 718.5M729.5 729.5L725.5 726.5M748.5 731.5L745.5 727.5M766.5 731.5L763.5 727.5M784.5 732.5L781.5 728.5M802.5 732.5L799.5 728.5M71.5 739.5L74.5 743.5M136.5 745.5L125.5 736.5M172.5 745.5L161.5 736.5M381.5 725.5L388.5 731.5M401.5 723.5L408.5 729.5M418.5 723.5L426.5 729.5M435.5 723.5L443.5 729.5M454.5 722.5L462.5 728.5M472.5 722.5L480.5 728.5M510.5 723.5L518.5 729.5M528.5 724.5L535.5 730.5M565.5 726.5L572.5 732.5M625.5 729.5L629.5 734.5M747.5 747.5L743.5 744.5M765.5 747.5L761.5 744.5M802.5 749.5L799.5 745.5M90.5 757.5L93.5 761.5M136.5 763.5L125.5 754.5M154.5 763.5L145.5 756.5M172.5 763.5L162.5 755.5M209.5 763.5L200.5 751.5M401.5 743.5L408.5 749.5M418.5 742.5L426.5 748.5M435.5 742.5L443.5 748.5M453.5 741.5L461.5 747.5M490.5 740.5L498.5 746.5M526.5 740.5L534.5 746.5M544.5 741.5L552.5 747.5M564.5 742.5L571.5 748.5M582.5 742.5L589.5 748.5M622.5 745.5L627.5 751.5M765.5 764.5L761.5 761.5" stroke="#fff" stroke-width="0.92" fill="none" stroke-linecap="square" shape-rendering="crispEdges"/>
<path d="M691.5 54.5L694.5 52.5M691.5 54.5L694.5 56.5M709.5 54.5L712.5 52.5M709.5 54.5L712.5 56.5M654.5 90.5L657.5 88.5M654.5 90.5L657.5 92.5M737.5 90.5L743.5 86.5M737.5 90.5L743.5 94.5M755.5 90.5L761.5 86.5M755.5 90.5L761.5 94.5M773.5 90.5L779.5 86.5M773.5 90.5L779.5 94.5M627.5 181.5L615.5 189.5M609.5 200.5L595.5 209.5M627.5 200.5L613.5 209.5M762.5 201.5L765.5 199.5M780.5 201.5L783.5 199.5M645.5 218.5L633.5 226.5M663.5 218.5L650.5 226.5M762.5 219.5L765.5 217.5M780.5 219.5L783.5 217.5M572.5 236.5L567.5 243.5M567.5 243.5L570.5 241.5M681.5 236.5L670.5 243.5M551.5 260.5L554.5 258.5M681.5 254.5L670.5 261.5M746.5 256.5L749.5 254.5M763.5 254.5L766.5 252.5M763.5 254.5L766.5 256.5M783.5 254.5L786.5 252.5M783.5 254.5L786.5 256.5M590.5 272.5L581.5 286.5M681.5 272.5L670.5 279.5M728.5 274.5L731.5 272.5M746.5 273.5L749.5 271.5M764.5 273.5L767.5 271.5M783.5 272.5L786.5 270.5M227.5 290.5L220.5 285.5M220.5 285.5L222.5 288.5M281.5 290.5L276.5 297.5M547.5 305.5L553.5 301.5M564.5 306.5L570.5 302.5M581.5 306.5L587.5 302.5M609.5 290.5L598.5 306.5M728.5 292.5L731.5 290.5M764.5 291.5L767.5 289.5M783.5 290.5L786.5 288.5M281.5 309.5L275.5 313.5M300.5 309.5L293.5 314.5M583.5 324.5L589.5 320.5M609.5 309.5L600.5 323.5M718.5 309.5L711.5 314.5M711.5 314.5L713.5 311.5M728.5 313.5L730.5 310.5M764.5 311.5L767.5 309.5M318.5 327.5L313.5 334.5M609.5 327.5L602.5 338.5M700.5 327.5L694.5 331.5M718.5 327.5L711.5 332.5M711.5 332.5L713.5 329.5M736.5 327.5L729.5 332.5M729.5 332.5L731.5 329.5M754.5 327.5L748.5 331.5M748.5 331.5L750.5 328.5M764.5 330.5L766.5 327.5M336.5 345.5L332.5 351.5M386.5 354.5L389.5 352.5M700.5 345.5L694.5 349.5M718.5 345.5L712.5 349.5M736.5 345.5L729.5 350.5M729.5 350.5L731.5 347.5M747.5 349.5L749.5 346.5M764.5 348.5L766.5 345.5M354.5 363.5L347.5 368.5M347.5 368.5L349.5 365.5M372.5 363.5L367.5 371.5M409.5 363.5L404.5 371.5M663.5 363.5L658.5 370.5M658.5 370.5L661.5 368.5M681.5 363.5L677.5 369.5M754.5 363.5L748.5 367.5M772.5 363.5L765.5 368.5M765.5 368.5L767.5 365.5M790.5 363.5L782.5 368.5M318.5 381.5L314.5 375.5M372.5 381.5L366.5 385.5M405.5 389.5L408.5 387.5M659.5 389.5L662.5 387.5M681.5 381.5L677.5 387.5M700.5 381.5L696.5 387.5M718.5 381.5L714.5 387.5M332.5 392.5L335.5 394.5M426.5 409.5L424.5 406.5M426.5 409.5L428.5 406.5M642.5 408.5L645.5 406.5M678.5 406.5L681.5 404.5M700.5 400.5L696.5 406.5M718.5 400.5L714.5 406.5M298.5 398.5L303.5 405.5M316.5 401.5L320.5 407.5M354.5 409.5L356.5 412.5M354.5 409.5L352.5 412.5M447.5 426.5L445.5 423.5M555.5 428.5L553.5 425.5M590.5 427.5L588.5 424.5M590.5 427.5L592.5 424.5M608.5 427.5L606.5 424.5M608.5 427.5L610.5 424.5M625.5 426.5L627.5 423.5M736.5 418.5L732.5 424.5M754.5 418.5L749.5 425.5M334.5 416.5L339.5 423.5M371.5 427.5L373.5 430.5M371.5 427.5L369.5 430.5M445.5 436.5L449.5 442.5M466.5 444.5L463.5 442.5M501.5 444.5L499.5 441.5M518.5 445.5L516.5 442.5M518.5 445.5L520.5 442.5M537.5 445.5L535.5 442.5M537.5 445.5L539.5 442.5M556.5 444.5L554.5 441.5M573.5 445.5L571.5 442.5M573.5 445.5L575.5 442.5M590.5 445.5L588.5 442.5M590.5 445.5L592.5 442.5M609.5 445.5L607.5 442.5M609.5 445.5L611.5 442.5M627.5 445.5L625.5 442.5M627.5 445.5L629.5 442.5M718.5 436.5L714.5 442.5M736.5 436.5L731.5 443.5M731.5 443.5L734.5 441.5M335.5 433.5L340.5 440.5M354.5 437.5L358.5 443.5M354.5 437.5L350.5 443.5M463.5 454.5L467.5 460.5M520.5 462.5L518.5 459.5M557.5 462.5L554.5 460.5M574.5 462.5L571.5 460.5M592.5 462.5L590.5 459.5M630.5 462.5L627.5 460.5M751.5 460.5L754.5 458.5M772.5 454.5L767.5 461.5M336.5 450.5L341.5 458.5M336.5 450.5L331.5 458.5M355.5 452.5L350.5 459.5M392.5 464.5L389.5 466.5M539.5 480.5L536.5 478.5M557.5 480.5L554.5 478.5M575.5 480.5L572.5 478.5M594.5 480.5L591.5 478.5M612.5 480.5L609.5 478.5M356.5 470.5L351.5 477.5M500.5 490.5L504.5 496.5M522.5 497.5L519.5 495.5M540.5 497.5L537.5 495.5M558.5 497.5L555.5 495.5M609.5 490.5L614.5 497.5M614.5 497.5L611.5 495.5M630.5 498.5L627.5 496.5M319.5 489.5L314.5 496.5M338.5 489.5L333.5 496.5M481.5 509.5L487.5 513.5M627.5 509.5L632.5 516.5M649.5 516.5L646.5 514.5M663.5 509.5L667.5 515.5M280.5 506.5L285.5 513.5M302.5 506.5L297.5 513.5M320.5 507.5L315.5 514.5M470.5 527.5L467.5 525.5M489.5 530.5L487.5 527.5M645.5 527.5L650.5 534.5M663.5 527.5L667.5 533.5M681.5 527.5L685.5 533.5M280.5 524.5L285.5 531.5M302.5 525.5L297.5 532.5M338.5 528.5L334.5 534.5M434.5 530.5L428.5 534.5M509.5 549.5L507.5 546.5M681.5 545.5L686.5 552.5M704.5 552.5L701.5 550.5M718.5 545.5L722.5 551.5M736.5 545.5L740.5 551.5M754.5 545.5L758.5 551.5M772.5 545.5L776.5 551.5M278.5 543.5L283.5 550.5M301.5 543.5L296.5 550.5M320.5 545.5L316.5 551.5M338.5 546.5L334.5 552.5M435.5 548.5L429.5 552.5M445.5 563.5L453.5 552.5M470.5 559.5L468.5 562.5M508.5 565.5L505.5 563.5M681.5 563.5L686.5 570.5M700.5 563.5L705.5 571.5M718.5 563.5L723.5 571.5M740.5 570.5L737.5 568.5M754.5 563.5L759.5 570.5M759.5 570.5L756.5 568.5M772.5 563.5L777.5 570.5M790.5 563.5L795.5 570.5M317.5 563.5L321.5 569.5M337.5 564.5L333.5 570.5M509.5 582.5L506.5 584.5M509.5 582.5L506.5 580.5M554.5 581.5L565.5 588.5M572.5 581.5L583.5 588.5M609.5 581.5L619.5 588.5M718.5 581.5L724.5 590.5M754.5 581.5L759.5 589.5M172.5 600.5L161.5 585.5M190.5 600.5L179.5 583.5M291.5 582.5L298.5 587.5M334.5 582.5L338.5 588.5M353.5 583.5L357.5 589.5M371.5 584.5L375.5 590.5M572.5 600.5L584.5 608.5M590.5 600.5L602.5 608.5M609.5 600.5L621.5 608.5M627.5 600.5L639.5 608.5M645.5 600.5L657.5 608.5M736.5 600.5L743.5 611.5M754.5 600.5L761.5 610.5M172.5 618.5L161.5 603.5M190.5 618.5L179.5 602.5M209.5 618.5L197.5 599.5M217.5 598.5L225.5 603.5M235.5 598.5L243.5 603.5M254.5 598.5L261.5 603.5M272.5 599.5L279.5 604.5M291.5 600.5L298.5 605.5M309.5 600.5L316.5 605.5M463.5 618.5L471.5 606.5M590.5 618.5L603.5 626.5M609.5 618.5L622.5 626.5M642.5 627.5L638.5 621.5M645.5 618.5L661.5 628.5M663.5 618.5L677.5 628.5M736.5 618.5L744.5 630.5M754.5 618.5L762.5 629.5M63.5 636.5L52.5 628.5M172.5 636.5L161.5 621.5M190.5 636.5L179.5 620.5M209.5 636.5L197.5 618.5M227.5 636.5L215.5 617.5M245.5 636.5L233.5 617.5M252.5 616.5L260.5 621.5M271.5 616.5L279.5 621.5M290.5 617.5L297.5 622.5M309.5 616.5L316.5 621.5M463.5 636.5L471.5 623.5M564.5 637.5L561.5 635.5M645.5 644.5L640.5 637.5M663.5 644.5L658.5 637.5M681.5 636.5L695.5 645.5M81.5 654.5L70.5 646.5M190.5 654.5L179.5 639.5M209.5 654.5L197.5 637.5M227.5 654.5L214.5 636.5M245.5 654.5L232.5 635.5M252.5 635.5L260.5 640.5M270.5 634.5L278.5 639.5M290.5 635.5L298.5 640.5M365.5 635.5L372.5 640.5M518.5 654.5L525.5 644.5M562.5 650.5L560.5 653.5M682.5 661.5L677.5 654.5M715.5 662.5L711.5 656.5M81.5 672.5L70.5 665.5M100.5 672.5L88.5 664.5M209.5 672.5L197.5 655.5M227.5 672.5L215.5 655.5M245.5 672.5L233.5 654.5M252.5 653.5L260.5 658.5M270.5 652.5L278.5 657.5M289.5 652.5L297.5 657.5M307.5 651.5L315.5 656.5M572.5 672.5L581.5 666.5M665.5 674.5L658.5 669.5M683.5 674.5L676.5 669.5M718.5 672.5L732.5 682.5M772.5 672.5L785.5 681.5M790.5 672.5L802.5 680.5M81.5 690.5L70.5 683.5M100.5 690.5L89.5 683.5M227.5 690.5L215.5 673.5M245.5 690.5L233.5 672.5M252.5 671.5L260.5 676.5M269.5 670.5L277.5 675.5M679.5 689.5L673.5 693.5M698.5 692.5L692.5 688.5M718.5 690.5L732.5 699.5M772.5 690.5L785.5 699.5M790.5 690.5L802.5 698.5M100.5 709.5L89.5 702.5M227.5 709.5L215.5 692.5M245.5 709.5L233.5 692.5M263.5 709.5L252.5 691.5M270.5 690.5L278.5 695.5M289.5 689.5L297.5 694.5M307.5 689.5L315.5 694.5M628.5 699.5L626.5 702.5M648.5 701.5L645.5 703.5M671.5 706.5L669.5 709.5M0.5 726.5L3.5 728.5M100.5 727.5L89.5 720.5M118.5 727.5L107.5 719.5M227.5 727.5L216.5 711.5M245.5 727.5L234.5 710.5M271.5 708.5L278.5 713.5M291.5 708.5L298.5 713.5M309.5 708.5L316.5 713.5M511.5 708.5L518.5 713.5M646.5 719.5L644.5 722.5M663.5 727.5L669.5 723.5M709.5 728.5L706.5 730.5M709.5 728.5L706.5 726.5M0.5 743.5L3.5 745.5M118.5 745.5L106.5 737.5M154.5 745.5L143.5 737.5M209.5 745.5L199.5 731.5M227.5 745.5L217.5 730.5M245.5 745.5L234.5 729.5M272.5 727.5L279.5 732.5M291.5 727.5L298.5 732.5M309.5 726.5L316.5 731.5M328.5 726.5L335.5 731.5M345.5 726.5L352.5 731.5M363.5 726.5L370.5 731.5M546.5 725.5L553.5 730.5M607.5 728.5L611.5 734.5M665.5 737.5L663.5 740.5M706.5 742.5L704.5 745.5M728.5 744.5L725.5 746.5M1.5 762.5L4.5 764.5M18.5 761.5L21.5 763.5M55.5 759.5L57.5 762.5M118.5 763.5L107.5 756.5M227.5 763.5L218.5 750.5M245.5 763.5L235.5 749.5M254.5 748.5L260.5 752.5M273.5 746.5L279.5 750.5M292.5 746.5L298.5 750.5M310.5 746.5L317.5 751.5M328.5 745.5L335.5 750.5M345.5 745.5L352.5 750.5M363.5 744.5L370.5 749.5M381.5 744.5L388.5 749.5M507.5 740.5L516.5 746.5M645.5 746.5L649.5 752.5M700.5 763.5L706.5 759.5M745.5 764.5L742.5 766.5M745.5 764.5L742.5 762.5" stroke="#fff" stroke-width="0.97" fill="none" stroke-linecap="square" shape-rendering="crispEdges"/>
<path d="M705.5 36.5L710.5 33.5M705.5 36.5L710.5 39.5M761.5 36.5L765.5 34.5M761.5 36.5L765.5 38.5M779.5 36.5L783.5 34.5M779.5 36.5L783.5 38.5M744.5 54.5L748.5 52.5M744.5 54.5L748.5 56.5M761.5 54.5L765.5 52.5M761.5 54.5L765.5 56.5M779.5 54.5L783.5 52.5M779.5 54.5L783.5 56.5M670.5 73.5L674.5 75.5M687.5 72.5L692.5 69.5M687.5 72.5L692.5 75.5M705.5 72.5L710.5 69.5M705.5 72.5L710.5 75.5M723.5 72.5L728.5 69.5M723.5 72.5L728.5 75.5M741.5 72.5L746.5 69.5M741.5 72.5L746.5 75.5M758.5 72.5L763.5 69.5M758.5 72.5L763.5 75.5M776.5 72.5L781.5 69.5M776.5 72.5L781.5 75.5M668.5 91.5L673.5 88.5M668.5 91.5L673.5 94.5M686.5 91.5L691.5 88.5M686.5 91.5L691.5 94.5M702.5 90.5L708.5 87.5M702.5 90.5L708.5 93.5M720.5 90.5L726.5 87.5M720.5 90.5L726.5 93.5M668.5 109.5L673.5 106.5M668.5 109.5L673.5 112.5M687.5 110.5L692.5 107.5M704.5 110.5L709.5 107.5M704.5 110.5L709.5 113.5M722.5 109.5L727.5 106.5M722.5 109.5L727.5 112.5M740.5 109.5L745.5 106.5M740.5 109.5L745.5 112.5M758.5 109.5L763.5 106.5M758.5 109.5L763.5 112.5M776.5 109.5L781.5 106.5M776.5 109.5L781.5 112.5M741.5 128.5L746.5 125.5M759.5 127.5L764.5 124.5M759.5 127.5L764.5 130.5M777.5 127.5L782.5 124.5M777.5 127.5L782.5 130.5M777.5 146.5L782.5 143.5M632.5 169.5L635.5 164.5M615.5 189.5L618.5 184.5M645.5 181.5L632.5 188.5M632.5 188.5L635.5 183.5M743.5 183.5L747.5 185.5M761.5 182.5L765.5 184.5M779.5 182.5L783.5 184.5M595.5 209.5L598.5 203.5M613.5 209.5L616.5 203.5M645.5 200.5L632.5 207.5M632.5 207.5L635.5 202.5M762.5 201.5L766.5 203.5M780.5 201.5L784.5 203.5M581.5 230.5L587.5 227.5M633.5 226.5L636.5 220.5M650.5 226.5L653.5 220.5M681.5 218.5L669.5 224.5M762.5 219.5L766.5 221.5M780.5 219.5L784.5 221.5M581.5 248.5L587.5 245.5M599.5 249.5L605.5 246.5M700.5 236.5L690.5 241.5M762.5 237.5L766.5 235.5M762.5 237.5L766.5 239.5M780.5 236.5L784.5 234.5M780.5 236.5L784.5 238.5M554.5 254.5L551.5 260.5M572.5 254.5L565.5 266.5M565.5 266.5L570.5 263.5M580.5 267.5L586.5 264.5M700.5 254.5L690.5 259.5M554.5 272.5L547.5 286.5M547.5 286.5L552.5 283.5M572.5 272.5L564.5 286.5M564.5 286.5L570.5 283.5M581.5 286.5L587.5 283.5M700.5 272.5L690.5 277.5M209.5 290.5L199.5 285.5M199.5 285.5L201.5 289.5M245.5 290.5L242.5 285.5M242.5 285.5L244.5 286.5M572.5 290.5L564.5 306.5M590.5 290.5L581.5 306.5M598.5 306.5L605.5 302.5M700.5 290.5L690.5 296.5M690.5 296.5L692.5 292.5M245.5 309.5L242.5 303.5M257.5 309.5L259.5 308.5M257.5 309.5L259.5 310.5M310.5 315.5L312.5 311.5M499.5 320.5L497.5 316.5M516.5 320.5L514.5 316.5M600.5 323.5L606.5 320.5M617.5 322.5L623.5 319.5M692.5 315.5L694.5 311.5M736.5 309.5L728.5 313.5M259.5 323.5L261.5 324.5M259.5 323.5L260.5 325.5M276.5 325.5L278.5 324.5M409.5 327.5L404.5 336.5M404.5 336.5L408.5 334.5M427.5 327.5L422.5 337.5M602.5 338.5L607.5 335.5M300.5 345.5L296.5 343.5M296.5 343.5L297.5 345.5M315.5 348.5L317.5 347.5M348.5 353.5L352.5 351.5M409.5 345.5L404.5 354.5M404.5 354.5L408.5 352.5M427.5 345.5L422.5 355.5M590.5 345.5L585.5 355.5M609.5 345.5L603.5 356.5M603.5 356.5L608.5 353.5M620.5 354.5L624.5 352.5M754.5 345.5L747.5 349.5M300.5 363.5L295.5 360.5M295.5 360.5L296.5 362.5M312.5 363.5L314.5 362.5M312.5 363.5L314.5 364.5M367.5 371.5L371.5 369.5M384.5 371.5L388.5 369.5M404.5 371.5L408.5 369.5M427.5 363.5L422.5 373.5M517.5 374.5L515.5 370.5M534.5 374.5L532.5 370.5M627.5 363.5L622.5 373.5M645.5 363.5L640.5 372.5M640.5 372.5L644.5 370.5M782.5 368.5L784.5 364.5M348.5 382.5L350.5 383.5M409.5 381.5L405.5 389.5M444.5 392.5L442.5 388.5M462.5 394.5L465.5 389.5M481.5 394.5L478.5 389.5M481.5 394.5L484.5 389.5M500.5 392.5L498.5 388.5M500.5 392.5L502.5 388.5M518.5 392.5L516.5 388.5M518.5 392.5L520.5 388.5M536.5 392.5L534.5 388.5M536.5 392.5L538.5 388.5M553.5 392.5L551.5 388.5M571.5 392.5L569.5 388.5M589.5 392.5L587.5 388.5M607.5 392.5L605.5 388.5M663.5 381.5L659.5 389.5M750.5 385.5L751.5 383.5M750.5 385.5L752.5 384.5M336.5 400.5L332.5 392.5M351.5 397.5L353.5 398.5M351.5 397.5L352.5 399.5M368.5 400.5L370.5 399.5M368.5 400.5L370.5 401.5M386.5 404.5L388.5 403.5M445.5 410.5L443.5 406.5M445.5 410.5L447.5 406.5M463.5 411.5L461.5 407.5M463.5 411.5L465.5 407.5M482.5 411.5L484.5 407.5M500.5 411.5L498.5 407.5M500.5 411.5L502.5 407.5M518.5 411.5L516.5 407.5M518.5 411.5L520.5 407.5M536.5 411.5L534.5 407.5M536.5 411.5L538.5 407.5M554.5 411.5L552.5 407.5M554.5 411.5L556.5 407.5M572.5 410.5L570.5 406.5M572.5 410.5L574.5 406.5M589.5 410.5L587.5 406.5M589.5 410.5L591.5 406.5M607.5 410.5L605.5 406.5M663.5 400.5L660.5 406.5M681.5 400.5L678.5 406.5M335.5 404.5L338.5 409.5M335.5 404.5L332.5 409.5M372.5 414.5L373.5 416.5M372.5 414.5L371.5 416.5M390.5 421.5L389.5 419.5M390.5 421.5L391.5 419.5M409.5 422.5L408.5 420.5M409.5 422.5L410.5 420.5M427.5 424.5L426.5 422.5M427.5 424.5L428.5 422.5M501.5 428.5L503.5 424.5M518.5 428.5L516.5 424.5M518.5 428.5L520.5 424.5M536.5 428.5L534.5 424.5M536.5 428.5L538.5 424.5M555.5 428.5L557.5 424.5M572.5 428.5L570.5 424.5M572.5 428.5L574.5 424.5M700.5 418.5L697.5 423.5M697.5 423.5L699.5 422.5M718.5 418.5L715.5 423.5M715.5 423.5L717.5 422.5M334.5 416.5L330.5 424.5M353.5 422.5L356.5 427.5M353.5 422.5L350.5 427.5M390.5 436.5L394.5 438.5M394.5 438.5L393.5 436.5M409.5 436.5L413.5 434.5M413.5 434.5L412.5 436.5M680.5 442.5L679.5 440.5M748.5 444.5L752.5 442.5M335.5 433.5L331.5 441.5M374.5 443.5L376.5 447.5M390.5 454.5L393.5 449.5M393.5 449.5L391.5 450.5M409.5 454.5L413.5 452.5M413.5 452.5L412.5 454.5M427.5 454.5L431.5 456.5M449.5 458.5L447.5 457.5M449.5 458.5L448.5 456.5M663.5 460.5L662.5 458.5M663.5 460.5L664.5 458.5M681.5 460.5L680.5 458.5M681.5 460.5L682.5 458.5M700.5 458.5L699.5 456.5M700.5 458.5L701.5 456.5M736.5 454.5L733.5 459.5M733.5 459.5L735.5 458.5M754.5 454.5L751.5 460.5M784.5 462.5L788.5 460.5M355.5 452.5L359.5 459.5M373.5 458.5L370.5 463.5M427.5 472.5L431.5 474.5M431.5 474.5L430.5 472.5M448.5 475.5L446.5 474.5M467.5 476.5L465.5 475.5M481.5 472.5L484.5 477.5M484.5 477.5L482.5 476.5M502.5 477.5L500.5 476.5M590.5 472.5L594.5 480.5M664.5 478.5L665.5 476.5M681.5 476.5L680.5 474.5M681.5 476.5L682.5 474.5M700.5 476.5L699.5 474.5M700.5 476.5L701.5 474.5M717.5 476.5L716.5 474.5M772.5 472.5L769.5 477.5M769.5 477.5L771.5 476.5M790.5 472.5L787.5 477.5M787.5 477.5L789.5 476.5M318.5 470.5L322.5 477.5M318.5 470.5L314.5 477.5M336.5 470.5L340.5 477.5M336.5 470.5L332.5 477.5M409.5 490.5L415.5 480.5M415.5 480.5L411.5 482.5M431.5 489.5L429.5 488.5M449.5 491.5L447.5 492.5M463.5 490.5L468.5 493.5M468.5 493.5L467.5 491.5M485.5 494.5L483.5 493.5M485.5 494.5L484.5 492.5M518.5 490.5L522.5 497.5M536.5 490.5L540.5 497.5M554.5 490.5L558.5 497.5M572.5 490.5L577.5 499.5M577.5 499.5L573.5 497.5M590.5 490.5L595.5 499.5M595.5 499.5L591.5 497.5M682.5 496.5L683.5 494.5M700.5 494.5L699.5 492.5M700.5 494.5L701.5 492.5M718.5 494.5L717.5 492.5M718.5 494.5L719.5 492.5M736.5 494.5L735.5 492.5M736.5 494.5L737.5 492.5M754.5 494.5L753.5 492.5M754.5 494.5L755.5 492.5M772.5 490.5L770.5 494.5M790.5 490.5L788.5 494.5M788.5 494.5L790.5 493.5M300.5 489.5L304.5 496.5M300.5 489.5L296.5 496.5M319.5 489.5L323.5 497.5M449.5 509.5L447.5 510.5M449.5 509.5L447.5 508.5M463.5 509.5L468.5 512.5M468.5 512.5L467.5 510.5M560.5 517.5L556.5 515.5M578.5 517.5L574.5 515.5M596.5 517.5L592.5 515.5M615.5 517.5L611.5 515.5M645.5 509.5L649.5 516.5M681.5 509.5L684.5 514.5M684.5 514.5L682.5 513.5M718.5 509.5L720.5 513.5M720.5 513.5L718.5 512.5M736.5 509.5L738.5 513.5M738.5 513.5L736.5 512.5M754.5 509.5L756.5 513.5M756.5 513.5L754.5 512.5M773.5 513.5L774.5 511.5M791.5 513.5L792.5 511.5M280.5 506.5L276.5 514.5M302.5 506.5L306.5 514.5M445.5 527.5L450.5 524.5M450.5 524.5L449.5 526.5M509.5 531.5L507.5 527.5M526.5 533.5L524.5 529.5M700.5 527.5L703.5 532.5M703.5 532.5L701.5 531.5M718.5 527.5L721.5 532.5M721.5 532.5L719.5 531.5M736.5 527.5L739.5 532.5M739.5 532.5L737.5 531.5M754.5 527.5L757.5 532.5M757.5 532.5L755.5 531.5M772.5 527.5L775.5 532.5M775.5 532.5L773.5 531.5M794.5 531.5L792.5 530.5M280.5 524.5L276.5 532.5M302.5 525.5L306.5 533.5M451.5 537.5L447.5 539.5M526.5 551.5L524.5 547.5M544.5 551.5L542.5 547.5M700.5 545.5L704.5 552.5M301.5 543.5L305.5 550.5M427.5 563.5L435.5 548.5M463.5 563.5L470.5 559.5M487.5 562.5L485.5 563.5M487.5 562.5L485.5 561.5M518.5 563.5L528.5 568.5M536.5 563.5L546.5 568.5M546.5 568.5L544.5 564.5M563.5 570.5L561.5 566.5M581.5 570.5L579.5 566.5M599.5 570.5L597.5 566.5M618.5 570.5L616.5 566.5M635.5 569.5L633.5 565.5M705.5 571.5L701.5 569.5M723.5 571.5L719.5 569.5M736.5 563.5L740.5 570.5M337.5 564.5L340.5 570.5M356.5 565.5L359.5 571.5M374.5 565.5L377.5 571.5M445.5 581.5L452.5 567.5M518.5 581.5L528.5 586.5M536.5 581.5L546.5 586.5M654.5 588.5L652.5 584.5M707.5 590.5L703.5 588.5M724.5 590.5L720.5 588.5M736.5 581.5L742.5 591.5M742.5 591.5L738.5 589.5M759.5 589.5L755.5 587.5M179.5 583.5L187.5 587.5M209.5 600.5L199.5 579.5M300.5 600.5L291.5 582.5M353.5 583.5L350.5 589.5M371.5 584.5L368.5 590.5M390.5 584.5L393.5 590.5M390.5 584.5L387.5 590.5M411.5 584.5L414.5 590.5M481.5 600.5L491.5 595.5M554.5 600.5L566.5 607.5M566.5 607.5L563.5 602.5M584.5 608.5L581.5 603.5M602.5 608.5L599.5 603.5M621.5 608.5L618.5 603.5M639.5 608.5L636.5 603.5M657.5 608.5L654.5 603.5M797.5 609.5L793.5 607.5M197.5 599.5L205.5 603.5M227.5 618.5L217.5 598.5M245.5 618.5L235.5 598.5M281.5 618.5L272.5 599.5M300.5 618.5L291.5 600.5M318.5 618.5L309.5 600.5M389.5 603.5L392.5 608.5M389.5 603.5L386.5 609.5M471.5 606.5L466.5 609.5M509.5 611.5L507.5 615.5M572.5 618.5L586.5 626.5M586.5 626.5L583.5 620.5M603.5 626.5L600.5 620.5M622.5 626.5L619.5 620.5M627.5 618.5L642.5 627.5M661.5 628.5L657.5 621.5M744.5 630.5L739.5 627.5M197.5 618.5L205.5 622.5M215.5 617.5L223.5 621.5M233.5 617.5L241.5 621.5M263.5 636.5L252.5 616.5M281.5 636.5L271.5 616.5M300.5 636.5L290.5 617.5M408.5 621.5L411.5 626.5M408.5 621.5L405.5 627.5M428.5 622.5L431.5 627.5M428.5 622.5L425.5 627.5M471.5 623.5L466.5 626.5M564.5 637.5L560.5 639.5M663.5 636.5L679.5 644.5M679.5 644.5L675.5 637.5M695.5 645.5L692.5 639.5M63.5 654.5L53.5 648.5M53.5 648.5L55.5 652.5M197.5 637.5L205.5 641.5M214.5 636.5L222.5 640.5M263.5 654.5L252.5 635.5M281.5 654.5L270.5 634.5M300.5 654.5L290.5 635.5M427.5 639.5L430.5 644.5M427.5 639.5L424.5 644.5M445.5 638.5L448.5 644.5M445.5 638.5L442.5 644.5M481.5 654.5L487.5 642.5M487.5 642.5L482.5 645.5M500.5 654.5L506.5 643.5M506.5 643.5L501.5 646.5M542.5 646.5L538.5 648.5M554.5 654.5L562.5 650.5M582.5 654.5L578.5 656.5M582.5 654.5L578.5 652.5M700.5 654.5L715.5 662.5M63.5 672.5L53.5 666.5M70.5 665.5L73.5 670.5M88.5 664.5L91.5 669.5M215.5 655.5L223.5 659.5M233.5 654.5L241.5 658.5M263.5 672.5L252.5 653.5M281.5 672.5L270.5 652.5M300.5 672.5L289.5 652.5M318.5 672.5L307.5 651.5M462.5 656.5L459.5 662.5M482.5 657.5L485.5 663.5M482.5 657.5L479.5 662.5M554.5 672.5L560.5 662.5M560.5 662.5L556.5 664.5M581.5 666.5L579.5 670.5M625.5 672.5L619.5 675.5M625.5 672.5L619.5 669.5M645.5 673.5L638.5 677.5M645.5 673.5L638.5 669.5M700.5 672.5L716.5 681.5M716.5 681.5L712.5 674.5M732.5 682.5L729.5 676.5M785.5 681.5L782.5 675.5M802.5 680.5L799.5 675.5M-0.5 689.5L3.5 687.5M63.5 690.5L53.5 684.5M53.5 684.5L55.5 688.5M70.5 683.5L73.5 688.5M215.5 673.5L223.5 677.5M233.5 672.5L241.5 676.5M263.5 690.5L252.5 671.5M281.5 690.5L269.5 670.5M300.5 690.5L288.5 669.5M288.5 669.5L297.5 674.5M318.5 690.5L306.5 668.5M306.5 668.5L315.5 673.5M517.5 675.5L520.5 680.5M517.5 675.5L514.5 681.5M537.5 675.5L540.5 681.5M537.5 675.5L534.5 680.5M636.5 683.5L634.5 687.5M679.5 689.5L673.5 686.5M700.5 690.5L715.5 699.5M715.5 699.5L712.5 693.5M732.5 699.5L729.5 693.5M785.5 699.5L782.5 693.5M802.5 698.5L799.5 693.5M-0.5 708.5L3.5 706.5M17.5 707.5L21.5 705.5M63.5 709.5L54.5 704.5M54.5 704.5L56.5 708.5M81.5 709.5L71.5 703.5M71.5 703.5L73.5 707.5M215.5 692.5L223.5 696.5M233.5 692.5L241.5 696.5M252.5 691.5L260.5 695.5M281.5 709.5L270.5 690.5M300.5 709.5L289.5 689.5M318.5 709.5L307.5 689.5M628.5 699.5L630.5 703.5M736.5 709.5L749.5 716.5M749.5 716.5L746.5 711.5M754.5 709.5L767.5 716.5M767.5 716.5L764.5 711.5M772.5 709.5L785.5 716.5M785.5 716.5L782.5 711.5M790.5 709.5L802.5 716.5M802.5 716.5L799.5 711.5M63.5 727.5L54.5 722.5M54.5 722.5L56.5 726.5M81.5 727.5L71.5 721.5M71.5 721.5L73.5 725.5M89.5 720.5L92.5 725.5M234.5 710.5L242.5 714.5M263.5 727.5L253.5 709.5M253.5 709.5L261.5 713.5M281.5 727.5L271.5 708.5M300.5 727.5L291.5 708.5M318.5 727.5L309.5 708.5M607.5 711.5L604.5 717.5M729.5 729.5L725.5 731.5M63.5 745.5L54.5 740.5M54.5 740.5L56.5 744.5M81.5 745.5L71.5 739.5M100.5 745.5L89.5 739.5M89.5 739.5L92.5 744.5M106.5 737.5L109.5 742.5M263.5 745.5L253.5 728.5M253.5 728.5L260.5 732.5M281.5 745.5L272.5 727.5M300.5 745.5L291.5 727.5M318.5 745.5L309.5 726.5M354.5 745.5L345.5 726.5M372.5 745.5L363.5 726.5M625.5 729.5L622.5 735.5M700.5 745.5L706.5 742.5M728.5 744.5L724.5 742.5M63.5 763.5L55.5 759.5M81.5 763.5L72.5 758.5M72.5 758.5L74.5 762.5M100.5 763.5L90.5 757.5M200.5 751.5L206.5 754.5M218.5 750.5L224.5 753.5M263.5 763.5L254.5 748.5M281.5 763.5L273.5 746.5M300.5 763.5L292.5 746.5M318.5 763.5L310.5 746.5M354.5 763.5L345.5 745.5M372.5 763.5L363.5 744.5M390.5 763.5L381.5 744.5M445.5 763.5L435.5 742.5M518.5 763.5L507.5 740.5M645.5 746.5L642.5 752.5M664.5 749.5L667.5 754.5M664.5 749.5L661.5 754.5M765.5 764.5L761.5 766.5" stroke="#fff" stroke-width="1.02" fill="none" stroke-linecap="square" shape-rendering="crispEdges"/>
<path d="M687.5 110.5L692.5 112.5M651.5 130.5L656.5 132.5M668.5 128.5L673.5 130.5M687.5 128.5L692.5 130.5M705.5 129.5L710.5 131.5M723.5 128.5L728.5 130.5M741.5 128.5L746.5 130.5M645.5 145.5L633.5 149.5M687.5 148.5L692.5 150.5M705.5 147.5L710.5 149.5M723.5 147.5L728.5 149.5M741.5 146.5L746.5 148.5M759.5 146.5L764.5 148.5M777.5 146.5L782.5 148.5M645.5 163.5L632.5 169.5M663.5 163.5L651.5 168.5M681.5 163.5L669.5 167.5M687.5 165.5L692.5 167.5M705.5 165.5L710.5 167.5M723.5 165.5L728.5 167.5M741.5 165.5L746.5 167.5M759.5 164.5L764.5 166.5M777.5 164.5L782.5 166.5M663.5 181.5L651.5 186.5M681.5 181.5L669.5 185.5M689.5 183.5L694.5 185.5M707.5 183.5L712.5 185.5M725.5 183.5L730.5 185.5M663.5 200.5L649.5 206.5M681.5 200.5L669.5 204.5M689.5 202.5L694.5 204.5M700.5 218.5L689.5 222.5M634.5 246.5L636.5 240.5M652.5 246.5L654.5 240.5M670.5 243.5L672.5 238.5M718.5 236.5L709.5 239.5M652.5 264.5L654.5 258.5M670.5 261.5L672.5 256.5M718.5 254.5L709.5 257.5M746.5 256.5L749.5 257.5M652.5 282.5L654.5 276.5M670.5 279.5L672.5 274.5M718.5 272.5L709.5 275.5M728.5 274.5L731.5 275.5M746.5 273.5L749.5 274.5M764.5 273.5L767.5 274.5M783.5 272.5L786.5 273.5M258.5 295.5L259.5 292.5M258.5 295.5L261.5 294.5M276.5 297.5L279.5 296.5M536.5 290.5L532.5 301.5M554.5 290.5L547.5 305.5M616.5 304.5L623.5 301.5M652.5 300.5L654.5 294.5M671.5 298.5L673.5 293.5M718.5 290.5L709.5 294.5M728.5 292.5L731.5 293.5M747.5 291.5L750.5 292.5M764.5 291.5L767.5 292.5M783.5 290.5L786.5 291.5M227.5 309.5L223.5 300.5M275.5 313.5L276.5 310.5M293.5 314.5L294.5 311.5M536.5 309.5L532.5 321.5M554.5 309.5L549.5 323.5M572.5 309.5L566.5 324.5M590.5 309.5L583.5 324.5M635.5 320.5L641.5 318.5M653.5 318.5L655.5 313.5M747.5 311.5L750.5 312.5M764.5 311.5L767.5 312.5M783.5 310.5L786.5 311.5M281.5 327.5L276.5 325.5M295.5 332.5L296.5 329.5M295.5 332.5L298.5 331.5M313.5 334.5L316.5 333.5M334.5 335.5L333.5 332.5M354.5 327.5L350.5 336.5M372.5 327.5L368.5 339.5M445.5 327.5L440.5 339.5M463.5 327.5L457.5 340.5M481.5 327.5L475.5 342.5M497.5 341.5L495.5 335.5M516.5 340.5L514.5 335.5M533.5 340.5L531.5 335.5M572.5 327.5L568.5 339.5M590.5 327.5L585.5 339.5M619.5 337.5L624.5 335.5M674.5 333.5L675.5 330.5M694.5 331.5L695.5 328.5M772.5 327.5L764.5 330.5M764.5 330.5L767.5 331.5M790.5 327.5L783.5 330.5M783.5 330.5L786.5 331.5M332.5 351.5L335.5 350.5M372.5 345.5L368.5 356.5M390.5 345.5L386.5 354.5M445.5 345.5L440.5 357.5M463.5 345.5L457.5 360.5M481.5 345.5L475.5 360.5M497.5 359.5L495.5 353.5M516.5 358.5L514.5 353.5M572.5 345.5L568.5 356.5M657.5 351.5L658.5 348.5M657.5 351.5L660.5 350.5M676.5 350.5L677.5 347.5M676.5 350.5L679.5 349.5M694.5 349.5L695.5 346.5M712.5 349.5L713.5 346.5M772.5 345.5L764.5 348.5M329.5 365.5L332.5 366.5M445.5 363.5L441.5 375.5M459.5 377.5L457.5 371.5M478.5 377.5L476.5 371.5M498.5 376.5L496.5 371.5M609.5 363.5L605.5 374.5M677.5 369.5L680.5 368.5M695.5 368.5L696.5 365.5M695.5 368.5L698.5 367.5M713.5 368.5L714.5 365.5M713.5 368.5L716.5 367.5M731.5 368.5L732.5 365.5M731.5 368.5L734.5 367.5M748.5 367.5L749.5 364.5M300.5 381.5L296.5 370.5M314.5 375.5L317.5 376.5M336.5 381.5L331.5 379.5M366.5 385.5L367.5 382.5M384.5 388.5L387.5 387.5M462.5 394.5L460.5 389.5M645.5 381.5L642.5 390.5M677.5 387.5L680.5 386.5M696.5 387.5L699.5 386.5M714.5 387.5L717.5 386.5M731.5 386.5L732.5 383.5M731.5 386.5L734.5 385.5M766.5 387.5L767.5 384.5M277.5 380.5L274.5 388.5M318.5 400.5L314.5 388.5M408.5 407.5L407.5 404.5M645.5 400.5L642.5 408.5M696.5 406.5L699.5 405.5M714.5 406.5L717.5 405.5M731.5 405.5L732.5 402.5M731.5 405.5L734.5 404.5M749.5 405.5L750.5 402.5M749.5 405.5L752.5 404.5M780.5 409.5L782.5 404.5M298.5 398.5L295.5 406.5M316.5 401.5L313.5 408.5M447.5 426.5L448.5 423.5M625.5 426.5L624.5 423.5M643.5 425.5L642.5 422.5M661.5 425.5L660.5 422.5M681.5 418.5L679.5 423.5M732.5 424.5L735.5 423.5M749.5 425.5L752.5 424.5M781.5 427.5L783.5 422.5M427.5 436.5L432.5 438.5M449.5 442.5L446.5 441.5M463.5 436.5L466.5 444.5M483.5 444.5L484.5 441.5M501.5 444.5L502.5 441.5M556.5 444.5L557.5 441.5M644.5 443.5L643.5 440.5M662.5 443.5L661.5 440.5M700.5 436.5L698.5 441.5M714.5 442.5L717.5 441.5M467.5 460.5L464.5 459.5M481.5 454.5L484.5 461.5M502.5 461.5L503.5 458.5M520.5 462.5L521.5 459.5M538.5 462.5L539.5 459.5M554.5 454.5L557.5 462.5M574.5 462.5L575.5 459.5M592.5 462.5L593.5 459.5M611.5 462.5L612.5 459.5M627.5 454.5L630.5 462.5M646.5 461.5L647.5 458.5M767.5 461.5L770.5 460.5M373.5 458.5L375.5 463.5M392.5 464.5L393.5 467.5M414.5 467.5L413.5 470.5M414.5 467.5L411.5 468.5M500.5 472.5L502.5 477.5M520.5 479.5L521.5 476.5M536.5 472.5L539.5 480.5M554.5 472.5L557.5 480.5M572.5 472.5L575.5 480.5M609.5 472.5L612.5 480.5M629.5 479.5L630.5 476.5M647.5 479.5L648.5 476.5M356.5 470.5L359.5 478.5M504.5 496.5L501.5 495.5M627.5 490.5L630.5 498.5M645.5 490.5L648.5 497.5M663.5 490.5L665.5 495.5M338.5 489.5L341.5 497.5M357.5 491.5L360.5 498.5M432.5 504.5L431.5 507.5M432.5 504.5L429.5 505.5M487.5 513.5L486.5 510.5M507.5 515.5L506.5 512.5M524.5 515.5L521.5 514.5M524.5 515.5L523.5 512.5M632.5 516.5L629.5 515.5M667.5 515.5L664.5 514.5M700.5 509.5L702.5 514.5M320.5 507.5L323.5 515.5M339.5 509.5L342.5 516.5M357.5 509.5L360.5 516.5M409.5 527.5L416.5 510.5M435.5 517.5L430.5 519.5M470.5 527.5L467.5 528.5M481.5 527.5L489.5 530.5M500.5 527.5L509.5 531.5M650.5 534.5L647.5 533.5M667.5 533.5L664.5 532.5M685.5 533.5L682.5 532.5M259.5 525.5L256.5 533.5M320.5 527.5L323.5 534.5M338.5 528.5L341.5 535.5M390.5 545.5L395.5 529.5M409.5 545.5L415.5 528.5M427.5 545.5L434.5 530.5M463.5 545.5L468.5 543.5M488.5 546.5L485.5 547.5M500.5 545.5L509.5 549.5M634.5 551.5L633.5 548.5M651.5 551.5L648.5 550.5M651.5 551.5L650.5 548.5M668.5 550.5L665.5 549.5M668.5 550.5L667.5 547.5M686.5 552.5L683.5 551.5M722.5 551.5L719.5 550.5M740.5 551.5L737.5 550.5M758.5 551.5L755.5 550.5M776.5 551.5L773.5 550.5M795.5 550.5L792.5 549.5M795.5 550.5L794.5 547.5M258.5 542.5L255.5 551.5M278.5 543.5L275.5 551.5M320.5 545.5L323.5 552.5M338.5 546.5L341.5 553.5M356.5 548.5L358.5 554.5M375.5 548.5L377.5 554.5M409.5 563.5L415.5 547.5M453.5 552.5L448.5 554.5M508.5 565.5L505.5 566.5M651.5 569.5L650.5 566.5M668.5 568.5L665.5 567.5M668.5 568.5L667.5 565.5M686.5 570.5L683.5 569.5M777.5 570.5L774.5 569.5M795.5 570.5L792.5 569.5M209.5 581.5L201.5 561.5M227.5 581.5L219.5 560.5M245.5 581.5L238.5 560.5M296.5 561.5L293.5 569.5M317.5 563.5L314.5 570.5M392.5 565.5L394.5 571.5M409.5 581.5L414.5 566.5M427.5 581.5L432.5 566.5M473.5 573.5L471.5 578.5M489.5 579.5L486.5 578.5M565.5 588.5L563.5 583.5M583.5 588.5L581.5 583.5M600.5 589.5L598.5 584.5M619.5 588.5L617.5 583.5M637.5 589.5L635.5 584.5M688.5 590.5L683.5 588.5M124.5 586.5L131.5 589.5M143.5 586.5L150.5 589.5M161.5 585.5L168.5 588.5M227.5 600.5L219.5 579.5M245.5 600.5L237.5 579.5M281.5 600.5L274.5 581.5M318.5 600.5L311.5 582.5M334.5 582.5L331.5 589.5M431.5 585.5L433.5 591.5M445.5 600.5L451.5 586.5M473.5 590.5L471.5 596.5M500.5 600.5L510.5 596.5M531.5 601.5L526.5 603.5M536.5 600.5L549.5 606.5M674.5 609.5L672.5 603.5M691.5 610.5L685.5 608.5M691.5 610.5L689.5 604.5M709.5 611.5L703.5 609.5M726.5 610.5L721.5 608.5M743.5 611.5L738.5 609.5M761.5 610.5L756.5 608.5M780.5 610.5L775.5 608.5M15.5 616.5L20.5 614.5M32.5 615.5L37.5 613.5M53.5 610.5L55.5 615.5M70.5 609.5L72.5 615.5M90.5 608.5L96.5 610.5M90.5 608.5L92.5 614.5M108.5 606.5L114.5 608.5M125.5 605.5L132.5 608.5M143.5 604.5L150.5 607.5M161.5 603.5L168.5 606.5M179.5 602.5L186.5 605.5M263.5 618.5L254.5 598.5M412.5 603.5L414.5 609.5M431.5 603.5L433.5 609.5M445.5 618.5L450.5 603.5M549.5 620.5L544.5 622.5M554.5 618.5L567.5 624.5M677.5 628.5L674.5 621.5M710.5 630.5L704.5 628.5M727.5 629.5L721.5 627.5M762.5 629.5L757.5 627.5M781.5 629.5L775.5 627.5M798.5 628.5L793.5 626.5M-2.5 634.5L2.5 632.5M15.5 634.5L20.5 632.5M52.5 628.5L54.5 633.5M70.5 627.5L72.5 633.5M90.5 626.5L96.5 628.5M90.5 626.5L92.5 632.5M108.5 624.5L114.5 626.5M143.5 622.5L150.5 625.5M161.5 621.5L168.5 624.5M179.5 620.5L186.5 623.5M318.5 636.5L309.5 616.5M386.5 621.5L384.5 627.5M449.5 621.5L451.5 627.5M490.5 626.5L485.5 628.5M508.5 626.5L503.5 628.5M536.5 636.5L545.5 633.5M590.5 636.5L604.5 641.5M609.5 636.5L626.5 643.5M627.5 636.5L645.5 644.5M645.5 636.5L663.5 644.5M729.5 647.5L723.5 645.5M729.5 647.5L727.5 641.5M747.5 647.5L741.5 645.5M765.5 647.5L759.5 645.5M765.5 647.5L763.5 641.5M782.5 647.5L776.5 645.5M798.5 646.5L793.5 644.5M-2.5 652.5L2.5 650.5M15.5 652.5L20.5 650.5M45.5 654.5L34.5 650.5M70.5 646.5L72.5 651.5M89.5 645.5L91.5 651.5M106.5 643.5L108.5 649.5M160.5 640.5L167.5 643.5M179.5 639.5L186.5 642.5M232.5 635.5L241.5 639.5M318.5 654.5L309.5 633.5M336.5 654.5L329.5 633.5M354.5 654.5L347.5 634.5M372.5 654.5L365.5 635.5M406.5 639.5L404.5 645.5M525.5 644.5L520.5 646.5M604.5 657.5L598.5 659.5M609.5 654.5L628.5 660.5M627.5 654.5L647.5 661.5M663.5 654.5L682.5 661.5M681.5 654.5L698.5 660.5M731.5 665.5L728.5 658.5M748.5 664.5L746.5 658.5M766.5 664.5L764.5 658.5M783.5 663.5L781.5 657.5M801.5 663.5L799.5 657.5M-2.5 671.5L2.5 669.5M15.5 670.5L20.5 668.5M107.5 663.5L109.5 669.5M124.5 662.5L126.5 668.5M178.5 658.5L185.5 661.5M197.5 655.5L205.5 658.5M336.5 672.5L328.5 651.5M354.5 672.5L347.5 652.5M372.5 672.5L365.5 653.5M405.5 656.5L403.5 662.5M424.5 657.5L422.5 663.5M503.5 658.5L505.5 664.5M518.5 672.5L524.5 659.5M536.5 672.5L541.5 660.5M665.5 674.5L657.5 677.5M683.5 674.5L675.5 677.5M699.5 676.5L692.5 679.5M748.5 682.5L746.5 676.5M766.5 682.5L764.5 676.5M15.5 688.5L20.5 686.5M33.5 688.5L38.5 686.5M89.5 683.5L91.5 688.5M106.5 681.5L108.5 687.5M124.5 680.5L126.5 686.5M142.5 679.5L144.5 685.5M197.5 674.5L205.5 677.5M336.5 690.5L327.5 668.5M354.5 690.5L346.5 669.5M372.5 690.5L365.5 670.5M390.5 690.5L383.5 671.5M409.5 690.5L403.5 672.5M445.5 690.5L440.5 674.5M478.5 675.5L476.5 681.5M498.5 675.5L496.5 681.5M556.5 676.5L558.5 682.5M590.5 690.5L595.5 679.5M645.5 690.5L657.5 685.5M698.5 692.5L691.5 695.5M748.5 700.5L746.5 694.5M766.5 700.5L764.5 694.5M89.5 702.5L91.5 707.5M106.5 700.5L108.5 706.5M125.5 700.5L127.5 706.5M143.5 699.5L145.5 705.5M161.5 698.5L167.5 700.5M161.5 698.5L163.5 704.5M197.5 694.5L204.5 697.5M336.5 709.5L327.5 687.5M354.5 709.5L346.5 687.5M372.5 709.5L364.5 687.5M390.5 709.5L383.5 688.5M409.5 709.5L402.5 688.5M500.5 709.5L495.5 693.5M533.5 694.5L531.5 700.5M551.5 694.5L549.5 700.5M569.5 694.5L567.5 700.5M587.5 695.5L585.5 701.5M607.5 696.5L605.5 701.5M645.5 709.5L648.5 701.5M663.5 709.5L671.5 706.5M713.5 712.5L708.5 714.5M718.5 709.5L731.5 714.5M107.5 719.5L109.5 724.5M125.5 718.5L127.5 724.5M143.5 717.5L145.5 723.5M161.5 716.5L167.5 718.5M161.5 716.5L163.5 722.5M180.5 715.5L186.5 717.5M198.5 713.5L205.5 716.5M216.5 711.5L223.5 714.5M336.5 727.5L328.5 707.5M354.5 727.5L346.5 707.5M372.5 727.5L365.5 706.5M390.5 727.5L383.5 705.5M463.5 727.5L455.5 705.5M481.5 727.5L472.5 706.5M500.5 727.5L493.5 707.5M518.5 727.5L511.5 708.5M554.5 727.5L548.5 711.5M590.5 727.5L585.5 711.5M625.5 714.5L623.5 719.5M646.5 719.5L647.5 722.5M669.5 723.5L668.5 726.5M688.5 726.5L685.5 725.5M736.5 727.5L748.5 731.5M754.5 727.5L766.5 731.5M772.5 727.5L784.5 732.5M790.5 727.5L802.5 732.5M125.5 736.5L127.5 742.5M143.5 737.5L145.5 742.5M161.5 736.5L163.5 742.5M180.5 734.5L186.5 736.5M199.5 731.5L206.5 734.5M217.5 730.5L224.5 733.5M234.5 729.5L241.5 732.5M336.5 745.5L328.5 726.5M390.5 745.5L381.5 725.5M409.5 745.5L401.5 723.5M427.5 745.5L418.5 723.5M445.5 745.5L435.5 723.5M463.5 745.5L454.5 722.5M481.5 745.5L472.5 722.5M500.5 745.5L492.5 722.5M518.5 745.5L510.5 723.5M536.5 745.5L528.5 724.5M554.5 745.5L546.5 725.5M572.5 745.5L565.5 726.5M590.5 745.5L584.5 726.5M607.5 728.5L604.5 735.5M647.5 732.5L649.5 737.5M665.5 737.5L666.5 740.5M686.5 740.5L685.5 743.5M686.5 740.5L683.5 741.5M747.5 747.5L742.5 749.5M772.5 745.5L784.5 749.5M790.5 745.5L802.5 749.5M1.5 762.5L4.5 761.5M45.5 763.5L36.5 760.5M107.5 756.5L109.5 761.5M125.5 754.5L127.5 760.5M145.5 756.5L147.5 761.5M162.5 755.5L164.5 760.5M181.5 753.5L186.5 755.5M235.5 749.5L242.5 752.5M336.5 763.5L328.5 745.5M409.5 763.5L401.5 743.5M427.5 763.5L418.5 742.5M463.5 763.5L453.5 741.5M481.5 763.5L473.5 740.5M500.5 763.5L490.5 740.5M536.5 763.5L526.5 740.5M554.5 763.5L544.5 741.5M572.5 763.5L564.5 742.5M590.5 763.5L582.5 742.5M681.5 763.5L685.5 754.5M706.5 759.5L705.5 762.5M725.5 761.5L722.5 760.5" stroke="#fff" stroke-width="1.07" fill="none" stroke-linecap="square" shape-rendering="crispEdges"/>
<path d="M718.5 36.5L705.5 36.5M772.5 36.5L761.5 36.5M790.5 36.5L779.5 36.5M700.5 54.5L691.5 54.5M718.5 54.5L709.5 54.5M754.5 54.5L744.5 54.5M772.5 54.5L761.5 54.5M790.5 54.5L779.5 54.5M681.5 72.5L670.5 73.5M700.5 72.5L687.5 72.5M718.5 72.5L705.5 72.5M736.5 72.5L723.5 72.5M754.5 72.5L741.5 72.5M772.5 72.5L758.5 72.5M790.5 72.5L776.5 72.5M663.5 90.5L654.5 90.5M681.5 90.5L668.5 91.5M700.5 90.5L686.5 91.5M718.5 90.5L702.5 90.5M736.5 90.5L720.5 90.5M754.5 90.5L737.5 90.5M772.5 90.5L755.5 90.5M790.5 90.5L773.5 90.5M681.5 109.5L668.5 109.5M700.5 109.5L687.5 110.5M718.5 109.5L704.5 110.5M736.5 109.5L722.5 109.5M754.5 109.5L740.5 109.5M772.5 109.5L758.5 109.5M790.5 109.5L776.5 109.5M663.5 127.5L651.5 130.5M681.5 127.5L668.5 128.5M700.5 127.5L687.5 128.5M718.5 127.5L705.5 129.5M736.5 127.5L723.5 128.5M754.5 127.5L741.5 128.5M772.5 127.5L759.5 127.5M790.5 127.5L777.5 127.5M633.5 149.5L638.5 150.5M663.5 145.5L651.5 148.5M651.5 148.5L656.5 149.5M681.5 145.5L669.5 148.5M669.5 148.5L674.5 149.5M700.5 145.5L687.5 148.5M718.5 145.5L705.5 147.5M736.5 145.5L723.5 147.5M754.5 145.5L741.5 146.5M772.5 145.5L759.5 146.5M790.5 145.5L777.5 146.5M632.5 169.5L638.5 170.5M651.5 168.5L656.5 169.5M669.5 167.5L674.5 168.5M700.5 163.5L687.5 165.5M718.5 163.5L705.5 165.5M736.5 163.5L723.5 165.5M754.5 163.5L741.5 165.5M772.5 163.5L759.5 164.5M790.5 163.5L777.5 164.5M615.5 189.5L621.5 189.5M632.5 188.5L638.5 188.5M651.5 186.5L656.5 186.5M669.5 185.5L674.5 186.5M700.5 181.5L689.5 183.5M718.5 181.5L707.5 183.5M736.5 181.5L725.5 183.5M754.5 181.5L743.5 183.5M772.5 181.5L761.5 182.5M790.5 181.5L779.5 182.5M595.5 209.5L602.5 208.5M613.5 209.5L620.5 209.5M632.5 207.5L638.5 207.5M649.5 206.5L655.5 207.5M669.5 204.5L674.5 205.5M700.5 200.5L689.5 202.5M718.5 200.5L708.5 202.5M708.5 202.5L712.5 203.5M736.5 200.5L726.5 202.5M726.5 202.5L730.5 203.5M754.5 200.5L744.5 202.5M744.5 202.5L748.5 203.5M772.5 200.5L762.5 201.5M790.5 200.5L780.5 201.5M581.5 230.5L582.5 224.5M598.5 231.5L599.5 224.5M598.5 231.5L605.5 229.5M614.5 229.5L616.5 222.5M614.5 229.5L621.5 228.5M633.5 226.5L639.5 226.5M650.5 226.5L656.5 226.5M669.5 224.5L674.5 224.5M689.5 222.5L694.5 223.5M718.5 218.5L708.5 221.5M708.5 221.5L712.5 222.5M736.5 218.5L726.5 220.5M726.5 220.5L730.5 221.5M754.5 218.5L744.5 220.5M744.5 220.5L748.5 221.5M772.5 218.5L762.5 219.5M790.5 218.5L780.5 219.5M567.5 243.5L567.5 239.5M581.5 248.5L582.5 242.5M599.5 249.5L600.5 242.5M616.5 248.5L618.5 241.5M616.5 248.5L623.5 246.5M634.5 246.5L640.5 245.5M652.5 246.5L658.5 245.5M670.5 243.5L675.5 243.5M690.5 241.5L695.5 241.5M709.5 239.5L713.5 240.5M736.5 236.5L726.5 238.5M726.5 238.5L730.5 239.5M754.5 236.5L744.5 238.5M744.5 238.5L748.5 239.5M772.5 236.5L762.5 237.5M790.5 236.5L780.5 236.5M551.5 260.5L551.5 257.5M565.5 266.5L565.5 260.5M580.5 267.5L581.5 260.5M597.5 267.5L599.5 260.5M597.5 267.5L604.5 265.5M616.5 266.5L617.5 259.5M616.5 266.5L623.5 264.5M633.5 265.5L635.5 258.5M633.5 265.5L640.5 264.5M652.5 264.5L658.5 263.5M670.5 261.5L675.5 261.5M690.5 259.5L695.5 259.5M709.5 257.5L713.5 258.5M736.5 254.5L726.5 256.5M726.5 256.5L730.5 257.5M754.5 254.5L746.5 256.5M772.5 254.5L763.5 254.5M790.5 254.5L783.5 254.5M209.5 272.5L198.5 275.5M198.5 275.5L203.5 276.5M547.5 286.5L547.5 280.5M564.5 286.5L564.5 279.5M581.5 286.5L581.5 279.5M597.5 286.5L598.5 279.5M597.5 286.5L604.5 284.5M615.5 285.5L617.5 278.5M615.5 285.5L622.5 283.5M633.5 283.5L635.5 276.5M633.5 283.5L640.5 281.5M652.5 282.5L658.5 281.5M670.5 279.5L675.5 279.5M690.5 277.5L695.5 277.5M709.5 275.5L713.5 276.5M736.5 272.5L728.5 274.5M754.5 272.5L746.5 273.5M772.5 272.5L764.5 273.5M790.5 272.5L783.5 272.5M199.5 285.5L204.5 285.5M220.5 285.5L224.5 285.5M242.5 285.5L242.5 287.5M276.5 297.5L276.5 293.5M532.5 301.5L531.5 296.5M547.5 305.5L546.5 298.5M564.5 306.5L564.5 298.5M581.5 306.5L581.5 298.5M598.5 306.5L599.5 298.5M616.5 304.5L617.5 297.5M634.5 302.5L636.5 295.5M634.5 302.5L641.5 300.5M652.5 300.5L658.5 299.5M671.5 298.5L676.5 297.5M690.5 296.5L695.5 296.5M709.5 294.5L713.5 295.5M736.5 290.5L728.5 292.5M754.5 290.5L747.5 291.5M772.5 290.5L764.5 291.5M790.5 290.5L783.5 290.5M223.5 300.5L222.5 304.5M242.5 303.5L242.5 306.5M263.5 309.5L257.5 309.5M275.5 313.5L278.5 313.5M293.5 314.5L297.5 314.5M310.5 315.5L314.5 315.5M500.5 309.5L499.5 320.5M518.5 309.5L516.5 320.5M532.5 321.5L531.5 316.5M549.5 323.5L548.5 317.5M566.5 324.5L565.5 317.5M583.5 324.5L582.5 317.5M600.5 323.5L600.5 316.5M617.5 322.5L618.5 315.5M635.5 320.5L636.5 314.5M653.5 318.5L659.5 317.5M673.5 315.5L674.5 311.5M673.5 315.5L677.5 314.5M692.5 315.5L696.5 314.5M711.5 314.5L715.5 314.5M728.5 313.5L732.5 313.5M754.5 309.5L747.5 311.5M772.5 309.5L764.5 311.5M790.5 309.5L783.5 310.5M313.5 334.5L313.5 330.5M336.5 327.5L334.5 335.5M350.5 336.5L349.5 332.5M368.5 339.5L367.5 334.5M390.5 327.5L387.5 338.5M387.5 338.5L386.5 333.5M404.5 336.5L404.5 332.5M422.5 337.5L422.5 332.5M440.5 339.5L440.5 334.5M457.5 340.5L456.5 334.5M475.5 342.5L474.5 335.5M500.5 327.5L497.5 341.5M518.5 327.5L516.5 340.5M536.5 327.5L533.5 340.5M554.5 327.5L551.5 339.5M551.5 339.5L550.5 334.5M568.5 339.5L567.5 334.5M585.5 339.5L585.5 334.5M602.5 338.5L602.5 333.5M619.5 337.5L620.5 332.5M637.5 335.5L638.5 330.5M637.5 335.5L642.5 334.5M656.5 334.5L657.5 330.5M656.5 334.5L660.5 333.5M674.5 333.5L678.5 332.5M694.5 331.5L697.5 331.5M711.5 332.5L715.5 332.5M729.5 332.5L733.5 332.5M748.5 331.5L751.5 331.5M296.5 343.5L298.5 343.5M315.5 348.5L315.5 346.5M332.5 351.5L332.5 348.5M348.5 353.5L349.5 349.5M368.5 356.5L367.5 351.5M386.5 354.5L386.5 350.5M404.5 354.5L404.5 350.5M422.5 355.5L422.5 350.5M440.5 357.5L440.5 352.5M457.5 360.5L456.5 353.5M475.5 360.5L474.5 354.5M500.5 345.5L497.5 359.5M518.5 345.5L516.5 358.5M536.5 345.5L534.5 356.5M534.5 356.5L533.5 351.5M554.5 345.5L551.5 356.5M551.5 356.5L550.5 351.5M568.5 356.5L567.5 351.5M585.5 355.5L585.5 350.5M603.5 356.5L603.5 351.5M620.5 354.5L621.5 349.5M638.5 352.5L639.5 348.5M638.5 352.5L642.5 351.5M694.5 349.5L697.5 349.5M712.5 349.5L715.5 349.5M729.5 350.5L733.5 350.5M747.5 349.5L751.5 349.5M764.5 348.5L768.5 348.5M790.5 345.5L783.5 347.5M783.5 347.5L786.5 347.5M295.5 360.5L297.5 360.5M318.5 363.5L312.5 363.5M336.5 363.5L329.5 365.5M347.5 368.5L351.5 368.5M367.5 371.5L367.5 367.5M384.5 371.5L384.5 367.5M404.5 371.5L404.5 367.5M422.5 373.5L422.5 368.5M441.5 375.5L440.5 370.5M463.5 363.5L459.5 377.5M481.5 363.5L478.5 377.5M500.5 363.5L498.5 376.5M518.5 363.5L517.5 374.5M536.5 363.5L534.5 374.5M554.5 363.5L552.5 374.5M552.5 374.5L551.5 369.5M572.5 363.5L569.5 374.5M569.5 374.5L568.5 369.5M590.5 363.5L587.5 374.5M587.5 374.5L586.5 369.5M605.5 374.5L604.5 369.5M622.5 373.5L622.5 368.5M640.5 372.5L640.5 368.5M658.5 370.5L658.5 366.5M677.5 369.5L677.5 366.5M748.5 367.5L751.5 367.5M765.5 368.5L769.5 368.5M782.5 368.5L786.5 368.5M281.5 381.5L277.5 367.5M277.5 367.5L276.5 373.5M296.5 370.5L295.5 375.5M314.5 375.5L314.5 378.5M331.5 379.5L333.5 379.5M354.5 381.5L348.5 382.5M366.5 385.5L369.5 385.5M384.5 388.5L385.5 384.5M405.5 389.5L405.5 385.5M427.5 381.5L425.5 391.5M425.5 391.5L424.5 387.5M445.5 381.5L444.5 392.5M463.5 381.5L462.5 394.5M481.5 381.5L481.5 394.5M500.5 381.5L500.5 392.5M518.5 381.5L518.5 392.5M536.5 381.5L536.5 392.5M554.5 381.5L553.5 392.5M572.5 381.5L571.5 392.5M590.5 381.5L589.5 392.5M609.5 381.5L607.5 392.5M627.5 381.5L624.5 392.5M624.5 392.5L623.5 387.5M642.5 390.5L641.5 386.5M659.5 389.5L659.5 385.5M677.5 387.5L677.5 384.5M696.5 387.5L696.5 384.5M714.5 387.5L714.5 384.5M766.5 387.5L770.5 386.5M782.5 389.5L783.5 384.5M782.5 389.5L787.5 388.5M281.5 400.5L277.5 380.5M300.5 400.5L297.5 383.5M297.5 383.5L295.5 390.5M314.5 388.5L313.5 393.5M332.5 392.5L332.5 396.5M372.5 400.5L368.5 400.5M386.5 404.5L386.5 402.5M409.5 400.5L408.5 407.5M427.5 400.5L426.5 409.5M445.5 400.5L445.5 410.5M463.5 400.5L463.5 411.5M481.5 400.5L482.5 411.5M500.5 400.5L500.5 411.5M518.5 400.5L518.5 411.5M536.5 400.5L536.5 411.5M554.5 400.5L554.5 411.5M572.5 400.5L572.5 410.5M590.5 400.5L589.5 410.5M609.5 400.5L607.5 410.5M627.5 400.5L624.5 410.5M624.5 410.5L623.5 406.5M642.5 408.5L641.5 404.5M660.5 406.5L660.5 403.5M678.5 406.5L678.5 403.5M696.5 406.5L696.5 403.5M714.5 406.5L714.5 403.5M765.5 407.5L766.5 403.5M765.5 407.5L769.5 406.5M780.5 409.5L785.5 408.5M300.5 418.5L298.5 398.5M318.5 418.5L316.5 401.5M336.5 418.5L335.5 404.5M354.5 418.5L354.5 409.5M372.5 418.5L372.5 414.5M390.5 418.5L390.5 421.5M409.5 418.5L409.5 422.5M427.5 418.5L427.5 424.5M445.5 418.5L447.5 426.5M463.5 418.5L466.5 428.5M466.5 428.5L467.5 424.5M481.5 418.5L484.5 428.5M484.5 428.5L485.5 424.5M500.5 418.5L501.5 428.5M518.5 418.5L518.5 428.5M536.5 418.5L536.5 428.5M554.5 418.5L555.5 428.5M572.5 418.5L572.5 428.5M590.5 418.5L590.5 427.5M609.5 418.5L608.5 427.5M627.5 418.5L625.5 426.5M645.5 418.5L643.5 425.5M663.5 418.5L661.5 425.5M679.5 423.5L679.5 421.5M697.5 423.5L697.5 421.5M715.5 423.5L715.5 421.5M732.5 424.5L732.5 421.5M749.5 425.5L750.5 421.5M764.5 426.5L765.5 421.5M764.5 426.5L769.5 425.5M781.5 427.5L786.5 426.5M336.5 436.5L334.5 416.5M354.5 436.5L353.5 422.5M372.5 436.5L371.5 427.5M394.5 438.5L392.5 438.5M413.5 434.5L411.5 434.5M432.5 438.5L430.5 438.5M449.5 442.5L449.5 439.5M466.5 444.5L466.5 440.5M481.5 436.5L483.5 444.5M500.5 436.5L501.5 444.5M518.5 436.5L518.5 445.5M536.5 436.5L537.5 445.5M554.5 436.5L556.5 444.5M572.5 436.5L573.5 445.5M590.5 436.5L590.5 445.5M609.5 436.5L609.5 445.5M627.5 436.5L627.5 445.5M645.5 436.5L644.5 443.5M663.5 436.5L662.5 443.5M681.5 436.5L680.5 442.5M698.5 441.5L698.5 439.5M714.5 442.5L714.5 439.5M731.5 443.5L731.5 439.5M748.5 444.5L748.5 440.5M764.5 444.5L765.5 439.5M764.5 444.5L769.5 443.5M782.5 444.5L783.5 439.5M782.5 444.5L787.5 443.5M336.5 454.5L335.5 433.5M354.5 454.5L354.5 437.5M372.5 454.5L374.5 443.5M393.5 449.5L393.5 451.5M413.5 452.5L411.5 452.5M431.5 456.5L429.5 456.5M467.5 460.5L467.5 457.5M484.5 461.5L484.5 458.5M500.5 454.5L502.5 461.5M518.5 454.5L520.5 462.5M536.5 454.5L538.5 462.5M557.5 462.5L558.5 458.5M572.5 454.5L574.5 462.5M590.5 454.5L592.5 462.5M609.5 454.5L611.5 462.5M630.5 462.5L631.5 458.5M645.5 454.5L646.5 461.5M663.5 454.5L663.5 460.5M681.5 454.5L681.5 460.5M700.5 454.5L700.5 458.5M718.5 454.5L717.5 458.5M717.5 458.5L717.5 456.5M733.5 459.5L733.5 457.5M751.5 460.5L751.5 457.5M767.5 461.5L767.5 457.5M784.5 462.5L785.5 458.5M336.5 472.5L336.5 450.5M354.5 472.5L355.5 452.5M372.5 472.5L373.5 458.5M390.5 472.5L392.5 464.5M431.5 474.5L429.5 474.5M448.5 475.5L448.5 473.5M467.5 476.5L467.5 474.5M484.5 477.5L484.5 475.5M502.5 477.5L502.5 475.5M518.5 472.5L520.5 479.5M539.5 480.5L540.5 476.5M557.5 480.5L558.5 476.5M575.5 480.5L575.5 476.5M594.5 480.5L594.5 476.5M612.5 480.5L612.5 476.5M627.5 472.5L629.5 479.5M645.5 472.5L647.5 479.5M663.5 472.5L664.5 478.5M681.5 472.5L681.5 476.5M700.5 472.5L700.5 476.5M718.5 472.5L717.5 476.5M736.5 472.5L735.5 476.5M735.5 476.5L735.5 474.5M754.5 472.5L753.5 476.5M753.5 476.5L753.5 474.5M769.5 477.5L769.5 475.5M787.5 477.5L787.5 475.5M318.5 490.5L318.5 470.5M336.5 490.5L336.5 470.5M354.5 490.5L356.5 470.5M372.5 490.5L375.5 473.5M375.5 473.5L377.5 480.5M390.5 490.5L394.5 476.5M394.5 476.5L395.5 482.5M415.5 480.5L415.5 485.5M427.5 490.5L431.5 489.5M445.5 490.5L449.5 491.5M468.5 493.5L466.5 493.5M504.5 496.5L504.5 493.5M522.5 497.5L522.5 493.5M540.5 497.5L540.5 493.5M558.5 497.5L558.5 493.5M577.5 499.5L577.5 495.5M595.5 499.5L595.5 495.5M614.5 497.5L614.5 493.5M630.5 498.5L630.5 494.5M648.5 497.5L648.5 494.5M665.5 495.5L665.5 493.5M681.5 490.5L682.5 496.5M700.5 490.5L700.5 494.5M718.5 490.5L718.5 494.5M736.5 490.5L736.5 494.5M754.5 490.5L754.5 494.5M770.5 494.5L770.5 492.5M788.5 494.5L788.5 492.5M300.5 509.5L300.5 489.5M318.5 509.5L319.5 489.5M336.5 509.5L338.5 489.5M354.5 509.5L357.5 491.5M372.5 509.5L376.5 491.5M376.5 491.5L378.5 498.5M390.5 509.5L394.5 492.5M394.5 492.5L396.5 499.5M409.5 509.5L413.5 495.5M413.5 495.5L414.5 501.5M445.5 509.5L449.5 509.5M468.5 512.5L466.5 512.5M487.5 513.5L484.5 513.5M507.5 515.5L503.5 514.5M543.5 516.5L539.5 515.5M543.5 516.5L542.5 512.5M560.5 517.5L559.5 513.5M578.5 517.5L577.5 513.5M596.5 517.5L595.5 513.5M615.5 517.5L614.5 513.5M632.5 516.5L632.5 512.5M649.5 516.5L649.5 512.5M667.5 515.5L667.5 512.5M684.5 514.5L684.5 512.5M702.5 514.5L702.5 512.5M720.5 513.5L720.5 511.5M738.5 513.5L738.5 511.5M756.5 513.5L756.5 511.5M772.5 509.5L773.5 513.5M790.5 509.5L791.5 513.5M281.5 527.5L280.5 506.5M300.5 527.5L302.5 506.5M318.5 527.5L320.5 507.5M336.5 527.5L339.5 509.5M354.5 527.5L357.5 509.5M372.5 527.5L376.5 509.5M376.5 509.5L378.5 516.5M390.5 527.5L395.5 509.5M395.5 509.5L397.5 517.5M416.5 510.5L417.5 518.5M435.5 517.5L434.5 522.5M450.5 524.5L448.5 524.5M463.5 527.5L470.5 527.5M489.5 530.5L485.5 531.5M509.5 531.5L505.5 531.5M526.5 533.5L522.5 532.5M544.5 534.5L540.5 533.5M544.5 534.5L543.5 530.5M561.5 534.5L557.5 533.5M561.5 534.5L560.5 530.5M579.5 534.5L575.5 533.5M579.5 534.5L578.5 530.5M597.5 534.5L593.5 533.5M597.5 534.5L596.5 530.5M616.5 534.5L612.5 533.5M616.5 534.5L615.5 530.5M634.5 534.5L630.5 533.5M634.5 534.5L633.5 530.5M650.5 534.5L649.5 530.5M667.5 533.5L667.5 530.5M685.5 533.5L685.5 530.5M703.5 532.5L703.5 530.5M721.5 532.5L721.5 530.5M739.5 532.5L739.5 530.5M757.5 532.5L757.5 530.5M775.5 532.5L775.5 530.5M794.5 531.5L794.5 529.5M263.5 545.5L259.5 525.5M281.5 545.5L280.5 524.5M300.5 545.5L302.5 525.5M318.5 545.5L320.5 527.5M336.5 545.5L338.5 528.5M354.5 545.5L357.5 528.5M357.5 528.5L359.5 535.5M372.5 545.5L376.5 528.5M376.5 528.5L378.5 535.5M395.5 529.5L397.5 536.5M415.5 528.5L416.5 536.5M434.5 530.5L435.5 537.5M451.5 537.5L451.5 541.5M468.5 543.5L466.5 543.5M481.5 545.5L488.5 546.5M509.5 549.5L505.5 549.5M526.5 551.5L522.5 551.5M544.5 551.5L540.5 551.5M562.5 551.5L558.5 550.5M562.5 551.5L561.5 547.5M580.5 551.5L576.5 550.5M580.5 551.5L579.5 547.5M598.5 551.5L594.5 550.5M598.5 551.5L597.5 547.5M617.5 551.5L613.5 550.5M617.5 551.5L616.5 547.5M634.5 551.5L630.5 550.5M686.5 552.5L686.5 548.5M704.5 552.5L704.5 548.5M722.5 551.5L722.5 548.5M740.5 551.5L740.5 548.5M758.5 551.5L758.5 548.5M776.5 551.5L776.5 548.5M245.5 563.5L239.5 543.5M239.5 543.5L237.5 552.5M263.5 563.5L258.5 542.5M281.5 563.5L278.5 543.5M300.5 563.5L301.5 543.5M318.5 563.5L320.5 545.5M336.5 563.5L338.5 546.5M354.5 563.5L356.5 548.5M372.5 563.5L375.5 548.5M390.5 563.5L394.5 546.5M394.5 546.5L396.5 553.5M415.5 547.5L416.5 554.5M435.5 548.5L435.5 555.5M453.5 552.5L452.5 558.5M470.5 559.5L466.5 559.5M481.5 563.5L487.5 562.5M500.5 563.5L508.5 565.5M528.5 568.5L523.5 568.5M546.5 568.5L541.5 568.5M563.5 570.5L558.5 570.5M581.5 570.5L576.5 570.5M599.5 570.5L594.5 569.5M618.5 570.5L613.5 569.5M635.5 569.5L631.5 568.5M651.5 569.5L647.5 568.5M686.5 570.5L685.5 566.5M705.5 571.5L705.5 567.5M723.5 571.5L723.5 567.5M740.5 570.5L740.5 566.5M759.5 570.5L759.5 566.5M777.5 570.5L776.5 566.5M795.5 570.5L794.5 566.5M201.5 561.5L200.5 570.5M219.5 560.5L218.5 569.5M238.5 560.5L236.5 569.5M263.5 581.5L257.5 560.5M257.5 560.5L255.5 569.5M281.5 581.5L276.5 561.5M276.5 561.5L274.5 569.5M300.5 581.5L296.5 561.5M318.5 581.5L317.5 563.5M336.5 581.5L337.5 564.5M354.5 581.5L356.5 565.5M372.5 581.5L374.5 565.5M390.5 581.5L392.5 565.5M414.5 566.5L415.5 572.5M432.5 566.5L433.5 572.5M452.5 567.5L452.5 574.5M473.5 573.5L468.5 574.5M481.5 581.5L489.5 579.5M500.5 581.5L509.5 582.5M528.5 586.5L523.5 586.5M546.5 586.5L541.5 586.5M565.5 588.5L560.5 588.5M583.5 588.5L578.5 588.5M600.5 589.5L595.5 588.5M619.5 588.5L614.5 587.5M637.5 589.5L632.5 588.5M654.5 588.5L649.5 587.5M671.5 589.5L666.5 588.5M671.5 589.5L670.5 584.5M688.5 590.5L687.5 585.5M707.5 590.5L707.5 585.5M724.5 590.5L724.5 585.5M742.5 591.5L742.5 586.5M759.5 589.5L759.5 585.5M778.5 589.5L774.5 588.5M778.5 589.5L777.5 585.5M796.5 589.5L792.5 588.5M796.5 589.5L795.5 585.5M124.5 586.5L125.5 594.5M143.5 586.5L144.5 594.5M161.5 585.5L162.5 593.5M179.5 583.5L180.5 591.5M199.5 579.5L198.5 589.5M219.5 579.5L218.5 588.5M237.5 579.5L236.5 588.5M263.5 600.5L257.5 580.5M257.5 580.5L255.5 589.5M274.5 581.5L273.5 590.5M291.5 582.5L290.5 590.5M311.5 582.5L310.5 590.5M336.5 600.5L334.5 582.5M354.5 600.5L353.5 583.5M372.5 600.5L371.5 584.5M390.5 600.5L390.5 584.5M409.5 600.5L411.5 584.5M427.5 600.5L431.5 585.5M451.5 586.5L452.5 593.5M473.5 590.5L467.5 591.5M491.5 595.5L486.5 595.5M510.5 596.5L505.5 595.5M518.5 600.5L531.5 601.5M549.5 606.5L543.5 607.5M566.5 607.5L560.5 607.5M584.5 608.5L578.5 608.5M602.5 608.5L596.5 608.5M621.5 608.5L615.5 608.5M639.5 608.5L633.5 608.5M657.5 608.5L651.5 607.5M674.5 609.5L668.5 608.5M709.5 611.5L708.5 605.5M726.5 610.5L725.5 605.5M743.5 611.5L743.5 606.5M761.5 610.5L760.5 605.5M780.5 610.5L779.5 605.5M797.5 609.5L796.5 604.5M27.5 618.5L15.5 616.5M45.5 618.5L32.5 615.5M53.5 610.5L58.5 611.5M70.5 609.5L76.5 610.5M108.5 606.5L109.5 613.5M125.5 605.5L126.5 612.5M143.5 604.5L144.5 612.5M161.5 603.5L162.5 611.5M179.5 602.5L180.5 610.5M197.5 599.5L197.5 608.5M217.5 598.5L217.5 607.5M235.5 598.5L234.5 607.5M254.5 598.5L253.5 607.5M272.5 599.5L271.5 608.5M291.5 600.5L291.5 609.5M309.5 600.5L308.5 609.5M336.5 618.5L332.5 599.5M332.5 599.5L330.5 607.5M354.5 618.5L350.5 600.5M350.5 600.5L348.5 607.5M372.5 618.5L368.5 602.5M368.5 602.5L366.5 609.5M390.5 618.5L389.5 603.5M409.5 618.5L412.5 603.5M427.5 618.5L431.5 603.5M450.5 603.5L451.5 609.5M471.5 606.5L470.5 612.5M490.5 609.5L489.5 614.5M490.5 609.5L485.5 610.5M509.5 611.5L504.5 612.5M518.5 618.5L529.5 615.5M529.5 615.5L524.5 614.5M536.5 618.5L549.5 620.5M567.5 624.5L561.5 625.5M586.5 626.5L579.5 626.5M603.5 626.5L596.5 626.5M622.5 626.5L615.5 626.5M642.5 627.5L635.5 627.5M661.5 628.5L653.5 628.5M677.5 628.5L670.5 627.5M694.5 629.5L687.5 628.5M694.5 629.5L692.5 622.5M710.5 630.5L709.5 624.5M727.5 629.5L726.5 623.5M744.5 630.5L743.5 624.5M762.5 629.5L761.5 623.5M781.5 629.5L780.5 623.5M798.5 628.5L797.5 623.5M9.5 636.5L-2.5 634.5M27.5 636.5L15.5 634.5M45.5 636.5L32.5 633.5M32.5 633.5L37.5 632.5M52.5 628.5L57.5 629.5M70.5 627.5L76.5 628.5M108.5 624.5L109.5 630.5M125.5 623.5L132.5 625.5M125.5 623.5L126.5 630.5M143.5 622.5L144.5 630.5M161.5 621.5L162.5 629.5M179.5 620.5L180.5 628.5M197.5 618.5L197.5 627.5M215.5 617.5L215.5 626.5M233.5 617.5L233.5 626.5M252.5 616.5L252.5 625.5M271.5 616.5L270.5 625.5M290.5 617.5L289.5 626.5M309.5 616.5L308.5 625.5M336.5 636.5L330.5 616.5M330.5 616.5L328.5 624.5M354.5 636.5L349.5 617.5M349.5 617.5L347.5 625.5M372.5 636.5L367.5 619.5M367.5 619.5L365.5 626.5M390.5 636.5L386.5 621.5M409.5 636.5L408.5 621.5M427.5 636.5L428.5 622.5M445.5 636.5L449.5 621.5M471.5 623.5L471.5 629.5M490.5 626.5L489.5 632.5M508.5 626.5L507.5 631.5M527.5 628.5L526.5 633.5M527.5 628.5L522.5 629.5M545.5 633.5L541.5 632.5M554.5 636.5L564.5 637.5M572.5 636.5L584.5 639.5M584.5 639.5L579.5 640.5M604.5 641.5L598.5 642.5M626.5 643.5L618.5 644.5M645.5 644.5L637.5 645.5M663.5 644.5L655.5 645.5M679.5 644.5L671.5 644.5M695.5 645.5L688.5 645.5M712.5 648.5L705.5 646.5M712.5 648.5L710.5 641.5M747.5 647.5L746.5 641.5M782.5 647.5L781.5 641.5M798.5 646.5L797.5 641.5M9.5 654.5L-2.5 652.5M27.5 654.5L15.5 652.5M34.5 650.5L39.5 649.5M53.5 648.5L58.5 648.5M70.5 646.5L75.5 647.5M89.5 645.5L95.5 646.5M106.5 643.5L112.5 644.5M124.5 642.5L131.5 644.5M124.5 642.5L126.5 649.5M143.5 641.5L150.5 643.5M143.5 641.5L144.5 648.5M160.5 640.5L161.5 648.5M179.5 639.5L180.5 647.5M197.5 637.5L198.5 646.5M214.5 636.5L215.5 645.5M232.5 635.5L233.5 644.5M252.5 635.5L252.5 644.5M270.5 634.5L270.5 643.5M290.5 635.5L290.5 644.5M309.5 633.5L308.5 642.5M329.5 633.5L327.5 642.5M347.5 634.5L346.5 643.5M365.5 635.5L364.5 643.5M390.5 654.5L386.5 638.5M386.5 638.5L384.5 645.5M409.5 654.5L406.5 639.5M427.5 654.5L427.5 639.5M445.5 654.5L445.5 638.5M463.5 654.5L467.5 640.5M467.5 640.5L468.5 646.5M487.5 642.5L487.5 648.5M506.5 643.5L506.5 648.5M525.5 644.5L525.5 649.5M542.5 646.5L541.5 650.5M562.5 650.5L558.5 650.5M572.5 654.5L582.5 654.5M590.5 654.5L604.5 657.5M628.5 660.5L620.5 662.5M647.5 661.5L639.5 663.5M645.5 654.5L665.5 659.5M665.5 659.5L657.5 661.5M682.5 661.5L674.5 662.5M698.5 660.5L690.5 661.5M715.5 662.5L708.5 662.5M731.5 665.5L724.5 664.5M748.5 664.5L742.5 663.5M766.5 664.5L760.5 663.5M783.5 663.5L777.5 662.5M801.5 663.5L795.5 662.5M9.5 672.5L-2.5 671.5M27.5 672.5L15.5 670.5M45.5 672.5L34.5 669.5M34.5 669.5L39.5 668.5M53.5 666.5L58.5 666.5M70.5 665.5L76.5 665.5M88.5 664.5L94.5 665.5M107.5 663.5L113.5 664.5M124.5 662.5L130.5 663.5M142.5 660.5L149.5 662.5M142.5 660.5L144.5 667.5M160.5 659.5L167.5 661.5M160.5 659.5L162.5 667.5M178.5 658.5L179.5 666.5M197.5 655.5L198.5 664.5M215.5 655.5L216.5 664.5M233.5 654.5L234.5 663.5M252.5 653.5L252.5 662.5M270.5 652.5L270.5 661.5M289.5 652.5L289.5 662.5M307.5 651.5L307.5 661.5M328.5 651.5L326.5 661.5M347.5 652.5L345.5 661.5M365.5 653.5L364.5 662.5M390.5 672.5L385.5 655.5M385.5 655.5L383.5 662.5M409.5 672.5L405.5 656.5M427.5 672.5L424.5 657.5M445.5 672.5L442.5 656.5M442.5 656.5L440.5 663.5M463.5 672.5L462.5 656.5M481.5 672.5L482.5 657.5M500.5 672.5L503.5 658.5M524.5 659.5L525.5 665.5M541.5 660.5L541.5 665.5M560.5 662.5L560.5 667.5M581.5 666.5L576.5 666.5M590.5 672.5L602.5 669.5M602.5 669.5L597.5 668.5M609.5 672.5L625.5 672.5M627.5 672.5L645.5 673.5M645.5 672.5L665.5 674.5M663.5 672.5L683.5 674.5M681.5 672.5L699.5 676.5M716.5 681.5L708.5 681.5M732.5 682.5L725.5 682.5M748.5 682.5L741.5 681.5M766.5 682.5L759.5 681.5M785.5 681.5L778.5 680.5M802.5 680.5L796.5 679.5M9.5 690.5L-0.5 689.5M27.5 690.5L15.5 688.5M45.5 690.5L33.5 688.5M53.5 684.5L58.5 684.5M70.5 683.5L76.5 683.5M89.5 683.5L94.5 683.5M106.5 681.5L112.5 682.5M124.5 680.5L131.5 681.5M142.5 679.5L148.5 680.5M161.5 678.5L168.5 680.5M161.5 678.5L163.5 685.5M179.5 677.5L186.5 679.5M179.5 677.5L180.5 684.5M197.5 674.5L198.5 682.5M215.5 673.5L216.5 682.5M233.5 672.5L234.5 681.5M252.5 671.5L252.5 680.5M269.5 670.5L269.5 680.5M288.5 669.5L288.5 679.5M306.5 668.5L306.5 678.5M327.5 668.5L326.5 678.5M346.5 669.5L344.5 678.5M365.5 670.5L363.5 679.5M383.5 671.5L381.5 679.5M403.5 672.5L402.5 680.5M427.5 690.5L422.5 673.5M422.5 673.5L420.5 680.5M440.5 674.5L438.5 681.5M463.5 690.5L459.5 674.5M459.5 674.5L457.5 681.5M481.5 690.5L478.5 675.5M500.5 690.5L498.5 675.5M518.5 690.5L517.5 675.5M536.5 690.5L537.5 675.5M554.5 690.5L556.5 676.5M572.5 690.5L576.5 677.5M576.5 677.5L577.5 683.5M595.5 679.5L595.5 684.5M616.5 683.5L615.5 687.5M616.5 683.5L612.5 684.5M636.5 683.5L631.5 683.5M657.5 685.5L652.5 684.5M663.5 690.5L679.5 689.5M681.5 690.5L698.5 692.5M715.5 699.5L708.5 699.5M732.5 699.5L725.5 699.5M748.5 700.5L742.5 699.5M766.5 700.5L759.5 699.5M785.5 699.5L778.5 699.5M802.5 698.5L796.5 697.5M9.5 709.5L-0.5 708.5M27.5 709.5L17.5 707.5M45.5 709.5L35.5 707.5M35.5 707.5L39.5 706.5M54.5 704.5L58.5 704.5M71.5 703.5L76.5 703.5M89.5 702.5L94.5 702.5M106.5 700.5L112.5 701.5M125.5 700.5L131.5 701.5M143.5 699.5L149.5 700.5M179.5 696.5L186.5 698.5M179.5 696.5L180.5 703.5M197.5 694.5L198.5 702.5M215.5 692.5L216.5 700.5M233.5 692.5L234.5 701.5M252.5 691.5L252.5 700.5M270.5 690.5L270.5 699.5M289.5 689.5L289.5 698.5M307.5 689.5L307.5 699.5M327.5 687.5L326.5 697.5M346.5 687.5L344.5 697.5M364.5 687.5L362.5 696.5M383.5 688.5L381.5 697.5M402.5 688.5L400.5 697.5M427.5 709.5L421.5 689.5M421.5 689.5L419.5 698.5M445.5 709.5L439.5 689.5M439.5 689.5L437.5 697.5M463.5 709.5L458.5 690.5M458.5 690.5L456.5 698.5M481.5 709.5L476.5 691.5M476.5 691.5L474.5 699.5M495.5 693.5L493.5 700.5M518.5 709.5L514.5 693.5M514.5 693.5L512.5 700.5M536.5 709.5L533.5 694.5M554.5 709.5L551.5 694.5M572.5 709.5L569.5 694.5M590.5 709.5L587.5 695.5M609.5 709.5L607.5 696.5M627.5 709.5L628.5 699.5M648.5 701.5L648.5 705.5M671.5 706.5L667.5 705.5M681.5 709.5L691.5 707.5M691.5 707.5L687.5 706.5M700.5 709.5L713.5 712.5M731.5 714.5L725.5 715.5M749.5 716.5L743.5 716.5M767.5 716.5L761.5 716.5M785.5 716.5L779.5 716.5M802.5 716.5L796.5 716.5M9.5 727.5L0.5 726.5M0.5 726.5L4.5 725.5M27.5 727.5L17.5 725.5M17.5 725.5L21.5 724.5M45.5 727.5L35.5 724.5M35.5 724.5L39.5 723.5M54.5 722.5L58.5 722.5M71.5 721.5L76.5 721.5M89.5 720.5L94.5 720.5M107.5 719.5L112.5 720.5M125.5 718.5L131.5 719.5M143.5 717.5L149.5 718.5M180.5 715.5L181.5 721.5M198.5 713.5L199.5 720.5M216.5 711.5L217.5 719.5M234.5 710.5L235.5 718.5M253.5 709.5L253.5 718.5M271.5 708.5L271.5 717.5M291.5 708.5L290.5 717.5M309.5 708.5L308.5 717.5M328.5 707.5L327.5 716.5M346.5 707.5L344.5 716.5M365.5 706.5L363.5 715.5M383.5 705.5L381.5 714.5M409.5 727.5L402.5 704.5M402.5 704.5L400.5 714.5M427.5 727.5L421.5 704.5M421.5 704.5L419.5 714.5M445.5 727.5L438.5 704.5M438.5 704.5L436.5 714.5M455.5 705.5L453.5 715.5M472.5 706.5L471.5 715.5M493.5 707.5L491.5 716.5M511.5 708.5L510.5 716.5M536.5 727.5L531.5 710.5M531.5 710.5L529.5 717.5M548.5 711.5L547.5 718.5M572.5 727.5L568.5 710.5M568.5 710.5L566.5 717.5M585.5 711.5L584.5 718.5M609.5 727.5L607.5 711.5M627.5 727.5L625.5 714.5M645.5 727.5L646.5 719.5M669.5 723.5L666.5 723.5M681.5 727.5L688.5 726.5M700.5 727.5L709.5 728.5M718.5 727.5L729.5 729.5M748.5 731.5L743.5 732.5M766.5 731.5L761.5 732.5M784.5 732.5L779.5 733.5M802.5 732.5L797.5 732.5M9.5 745.5L0.5 743.5M0.5 743.5L4.5 742.5M27.5 745.5L18.5 743.5M18.5 743.5L22.5 742.5M45.5 745.5L35.5 742.5M35.5 742.5L39.5 741.5M54.5 740.5L58.5 740.5M71.5 739.5L76.5 739.5M89.5 739.5L95.5 739.5M106.5 737.5L112.5 737.5M125.5 736.5L131.5 737.5M143.5 737.5L149.5 738.5M161.5 736.5L167.5 737.5M180.5 734.5L181.5 740.5M199.5 731.5L200.5 738.5M217.5 730.5L218.5 738.5M234.5 729.5L235.5 737.5M253.5 728.5L253.5 736.5M272.5 727.5L271.5 735.5M291.5 727.5L290.5 736.5M309.5 726.5L308.5 735.5M328.5 726.5L327.5 735.5M345.5 726.5L344.5 735.5M363.5 726.5L362.5 735.5M381.5 725.5L380.5 734.5M401.5 723.5L399.5 732.5M418.5 723.5L417.5 733.5M435.5 723.5L434.5 733.5M454.5 722.5L452.5 732.5M472.5 722.5L470.5 732.5M492.5 722.5L490.5 732.5M510.5 723.5L509.5 733.5M528.5 724.5L526.5 733.5M546.5 725.5L545.5 734.5M565.5 726.5L563.5 734.5M584.5 726.5L582.5 734.5M609.5 745.5L607.5 728.5M627.5 745.5L625.5 729.5M645.5 745.5L647.5 732.5M663.5 745.5L665.5 737.5M706.5 742.5L703.5 742.5M718.5 745.5L728.5 744.5M736.5 745.5L747.5 747.5M754.5 745.5L765.5 747.5M765.5 747.5L760.5 748.5M784.5 749.5L779.5 750.5M802.5 749.5L797.5 750.5M9.5 763.5L1.5 762.5M27.5 763.5L18.5 761.5M18.5 761.5L22.5 760.5M36.5 760.5L40.5 759.5M55.5 759.5L59.5 759.5M72.5 758.5L76.5 758.5M90.5 757.5L95.5 757.5M107.5 756.5L112.5 756.5M125.5 754.5L131.5 755.5M145.5 756.5L150.5 757.5M162.5 755.5L167.5 756.5M181.5 753.5L182.5 758.5M200.5 751.5L201.5 757.5M218.5 750.5L219.5 757.5M235.5 749.5L236.5 756.5M254.5 748.5L254.5 755.5M273.5 746.5L272.5 754.5M292.5 746.5L291.5 754.5M310.5 746.5L309.5 754.5M328.5 745.5L327.5 753.5M345.5 745.5L344.5 754.5M363.5 744.5L362.5 753.5M381.5 744.5L380.5 753.5M401.5 743.5L400.5 752.5M418.5 742.5L417.5 751.5M435.5 742.5L434.5 752.5M453.5 741.5L452.5 751.5M473.5 740.5L471.5 750.5M490.5 740.5L489.5 750.5M507.5 740.5L506.5 751.5M526.5 740.5L525.5 750.5M544.5 741.5L543.5 751.5M564.5 742.5L563.5 752.5M582.5 742.5L580.5 751.5M609.5 763.5L604.5 744.5M604.5 744.5L602.5 752.5M627.5 763.5L622.5 745.5M622.5 745.5L620.5 753.5M645.5 763.5L645.5 746.5M663.5 763.5L664.5 749.5M685.5 754.5L686.5 758.5M706.5 759.5L703.5 759.5M718.5 763.5L725.5 761.5M736.5 763.5L745.5 764.5M754.5 763.5L765.5 764.5M772.5 763.5L784.5 766.5M784.5 766.5L779.5 767.5M790.5 763.5L802.5 766.5M802.5 766.5L797.5 767.5" stroke="#fff" stroke-width="1.12" fill="none" stroke-linecap="square" shape-rendering="crispEdges"/>
<path d="M197.5 187.5L195.6 189.4M199.5 267.5L195.0 272.5M191.0 277.5L193.8 280.0M272.5 333.8L285.0 345.0M290.0 362.5L280.0 372.5M273.8 402.5L282.5 412.5M317.5 473.0L307.5 484.5M203.8 253.0L208.8 258.8M227.5 276.0L237.5 287.5M445.0 321.0L449.0 325.0M556.0 242.0L562.5 236.0M580.0 227.0L600.0 209.5M600.0 209.5L607.5 202.0M607.5 202.0L617.5 191.0M657.9 119.2L664.4 112.8M664.4 112.8L672.5 104.6M753.8 39.6L765.1 28.2M407.5 27.0L418.8 37.0M537.5 121.0L544.0 127.0M672.5 96.5L675.0 94.0M656.0 121.0L657.9 119.2" stroke="#000" stroke-width="0.75" fill="none" stroke-linecap="square" shape-rendering="crispEdges"/>
<path d="M216.0 116.0L213.0 120.0M213.0 120.0L220.5 130.0M197.5 203.0L192.5 207.0M190.6 240.0L193.8 243.8M193.8 280.0L190.0 285.0M282.5 412.5L292.5 421.0M324.0 464.5L317.5 473.0M300.0 496.0L290.0 509.5M290.0 509.5L277.5 519.5M277.5 519.5L267.5 527.0M217.5 167.5L220.6 170.0M221.2 185.6L217.5 188.8M200.6 197.0L202.0 198.8M201.2 205.0L197.0 210.0M197.0 210.0L200.0 213.8M199.4 217.0L195.6 220.0M222.5 269.4L227.5 276.0M287.5 287.5L297.5 295.0M345.0 315.0L350.0 318.8M424.0 316.0L429.0 320.0M510.0 297.0L517.5 291.0M540.0 268.0L547.5 262.0M643.2 133.9L649.8 125.8M649.8 125.8L657.9 119.2M724.5 72.0L737.5 61.6M737.5 61.6L753.8 39.6M421.0 44.5L427.5 53.0M490.0 88.0L500.0 96.0M500.0 96.0L507.5 102.0M525.0 106.0L529.0 111.0M550.0 142.0L560.0 149.5M580.0 158.0L583.0 162.0M583.0 162.0L579.0 167.0M557.5 184.5L552.5 191.0M669.2 59.0L664.4 64.8M658.7 75.5L656.2 77.5M653.0 116.0L656.2 112.0M656.2 112.0L661.0 106.2M693.6 88.4L702.5 81.0M718.0 70.5L722.9 64.0M391.0 34.0L388.0 38.0" stroke="#000" stroke-width="0.80" fill="none" stroke-linecap="square" shape-rendering="crispEdges"/>
<path d="M212.5 101.0L217.0 107.5M220.5 130.0L211.8 142.5M214.4 170.0L217.5 175.0M216.2 185.0L213.8 188.8M195.6 189.4L196.9 191.2M187.5 235.0L190.6 240.0M190.0 285.0L192.5 288.8M192.5 288.8L200.0 293.8M262.5 327.5L272.5 333.8M280.0 372.5L273.8 382.5M307.5 484.5L300.0 496.0M267.5 527.0L261.0 537.0M220.6 170.0L223.8 174.4M197.5 248.8L203.8 253.0M417.5 312.0L424.0 316.0M499.0 299.5L496.0 295.0M517.5 291.0L527.5 284.5M535.0 276.0L540.0 268.0M547.5 262.0L552.5 254.5M637.5 142.0L643.2 133.9M698.5 90.0L711.5 81.0M711.5 81.0L724.5 72.0M482.5 77.0L490.0 88.0M544.5 134.5L550.0 142.0M572.5 153.0L580.0 158.0M579.0 167.0L570.0 173.0M703.4 41.2L700.0 43.7M692.0 45.3L689.5 49.4M661.0 77.0L658.7 75.5M647.3 96.5L645.7 99.0M645.7 99.0L652.0 103.0M652.0 103.0L647.3 106.2M647.3 106.2L645.0 109.5M661.0 106.2L657.9 101.4" stroke="#000" stroke-width="0.85" fill="none" stroke-linecap="square" shape-rendering="crispEdges"/>
<path d="M233.8 52.5L225.0 67.5M213.8 98.8L212.5 101.0M195.0 255.0L199.4 257.5M212.5 303.8L227.5 312.5M255.0 323.8L262.5 327.5M292.5 421.0L302.5 426.0M259.0 554.5L247.5 561.0M247.5 561.0L237.5 566.0M237.5 566.0L225.0 572.0M208.8 258.8L211.9 265.0M217.5 267.0L222.5 269.4M297.5 295.0L310.0 302.5M355.0 318.0L360.0 321.0M360.0 321.0L370.0 315.0M449.0 325.0L462.5 318.0M496.0 295.0L500.0 297.0M507.5 302.0L510.0 297.0M562.5 236.0L572.5 231.0M572.5 231.0L580.0 227.0M672.5 104.6L687.0 96.5M687.0 96.5L698.5 90.0M437.5 57.0L450.0 64.5M470.0 69.5L482.5 77.0M507.5 102.0L511.0 100.0M568.0 179.5L557.5 184.5M552.5 227.0L555.0 232.0M555.0 232.0L562.5 236.0M700.0 35.5L703.4 41.2M654.6 87.5L648.0 90.8M683.9 93.2L693.6 88.4M703.4 75.4L705.0 72.0M724.5 42.9L727.8 41.2M735.9 45.3L739.0 43.7M653.0 116.0L656.0 121.0" stroke="#000" stroke-width="0.90" fill="none" stroke-linecap="square" shape-rendering="crispEdges"/>
<path d="M240.0 28.8L235.0 31.0M225.0 67.5L227.5 73.8M225.0 93.8L213.8 98.8M217.5 175.0L215.6 179.4M213.8 188.8L210.0 190.0M195.6 198.8L197.5 203.0M192.5 207.0L190.0 212.5M185.0 275.0L191.0 277.5M201.0 298.8L212.5 303.8M227.5 312.5L241.0 317.5M241.0 317.5L255.0 323.8M285.0 345.0L290.0 356.0M261.0 549.5L259.0 554.5M225.0 572.0L212.5 577.0M212.5 577.0L200.0 581.5M165.0 589.5L150.0 594.5M211.8 142.5L217.5 157.5M223.0 180.0L221.2 185.6M211.9 265.0L217.5 267.0M310.0 302.5L320.0 306.0M332.5 307.5L343.8 311.0M343.8 311.0L345.0 315.0M437.5 318.0L445.0 321.0M462.5 318.0L482.5 311.0M482.5 311.0L496.0 306.0M496.0 306.0L494.0 301.0M527.5 284.5L535.0 281.0M617.5 191.0L625.0 174.5M625.0 174.5L631.0 157.0M631.0 157.0L637.5 142.0M427.5 53.0L437.5 57.0M450.0 64.5L460.0 68.0M511.0 100.0L517.5 103.0M517.5 103.0L525.0 106.0M656.2 77.5L657.0 79.4M657.0 79.4L661.0 81.0M660.3 85.0L654.6 87.5M705.0 72.0L710.0 73.8M710.0 73.8L718.0 70.5M734.2 40.4L735.9 45.3M739.0 43.7L740.0 41.2M740.0 41.2L737.5 40.4M398.0 27.5L396.0 32.0M396.0 32.0L391.0 34.0" stroke="#000" stroke-width="0.95" fill="none" stroke-linecap="square" shape-rendering="crispEdges"/>
<path d="M235.0 31.0L233.8 52.5M227.5 73.8L225.0 93.8M217.0 107.5L216.0 116.0M211.8 142.5L212.5 160.0M212.5 160.0L214.4 170.0M215.6 179.4L216.2 185.0M210.0 190.0L203.8 188.8M203.8 188.8L197.5 187.5M196.9 191.2L195.6 198.8M190.0 212.5L188.0 220.0M188.0 220.0L187.2 227.5M187.2 227.5L187.5 235.0M193.8 243.8L194.4 250.0M194.4 250.0L195.0 255.0M199.4 257.5L199.5 267.5M195.0 272.5L185.0 275.0M200.0 293.8L201.0 298.8M290.0 356.0L290.0 362.5M273.8 382.5L271.0 392.5M271.0 392.5L273.8 402.5M302.5 426.0L315.0 425.0M315.0 425.0L321.0 426.0M321.0 426.0L321.0 430.0M321.0 430.0L324.0 447.0M324.0 447.0L324.0 464.5M261.0 537.0L261.0 549.5M200.0 581.5L187.5 585.0M187.5 585.0L165.0 589.5M150.0 594.5L110.0 601.5M110.0 601.5L100.0 604.5M100.0 604.5L80.5 608.0M80.5 608.0L32.5 613.8M32.5 613.8L0.0 617.0M217.5 157.5L217.5 167.5M223.8 174.4L223.0 180.0M217.5 188.8L212.5 190.0M212.5 190.0L205.0 189.4M205.0 189.4L200.6 190.6M200.6 190.6L200.6 197.0M202.0 198.8L201.2 205.0M200.0 213.8L199.4 217.0M195.6 220.0L196.2 225.0M196.2 225.0L195.6 227.5M195.6 227.5L196.2 241.2M196.2 241.2L197.5 248.8M237.5 287.5L247.5 287.5M247.5 287.5L262.5 284.5M262.5 284.5L275.0 285.5M275.0 285.5L287.5 287.5M320.0 306.0L332.5 307.5M350.0 318.8L355.0 318.0M370.0 315.0L380.0 312.5M380.0 312.5L400.0 310.8M400.0 310.8L417.5 312.0M429.0 320.0L437.5 318.0M494.0 301.0L499.0 299.5M500.0 297.0L500.0 303.0M500.0 303.0L507.5 302.0M535.0 281.0L535.0 276.0M552.5 254.5L556.0 242.0M418.8 37.0L421.0 44.5M460.0 68.0L470.0 69.5M529.0 111.0L536.0 113.0M536.0 113.0L537.5 121.0M544.0 127.0L544.5 134.5M560.0 149.5L572.5 153.0M570.0 173.0L568.0 179.5M552.5 191.0L552.0 199.5M552.0 199.5L554.0 212.0M554.0 212.0L552.5 227.0M701.0 27.4L700.0 35.5M700.0 43.7L692.0 45.3M689.5 49.4L688.8 54.2M688.8 54.2L680.6 55.9M680.6 55.9L669.2 59.0M661.0 81.0L660.3 85.0M648.0 90.8L647.3 96.5M645.0 109.5L646.5 114.4M646.5 114.4L653.0 116.0M657.9 101.4L657.0 96.5M657.0 96.5L664.4 95.7M664.4 95.7L672.5 96.5M675.0 94.0L683.9 93.2M702.5 81.0L703.4 75.4M722.9 64.0L725.3 54.2M725.3 54.2L724.5 42.9M727.8 41.2L734.2 40.4M737.5 40.4L737.5 27.4M388.0 38.0L380.0 39.5M380.0 39.5L370.0 40.5" stroke="#000" stroke-width="1.00" fill="none" stroke-linecap="square" shape-rendering="crispEdges"/>
<path d="M9.5 27.3V772.5M81.5 27.3V772.5M154.5 27.3V772.5M227.5 27.3V772.5M299.5 27.3V772.5M372.5 27.3V772.5M445.5 27.3V772.5M518.5 27.3V772.5M590.5 27.3V772.5M663.5 27.3V772.5M736.5 27.3V772.5M0 36.5H800M0 109.5H800M0 181.5H800M0 254.5H800M0 327.5H800M0 400.5H800M0 472.5H800M0 545.5H800M0 618.5H800M0 690.5H800M0 763.5H800" stroke="#808080" stroke-width="1" fill="none" shape-rendering="crispEdges"/>
<g font-family="'DejaVu Sans Light','DejaVu Sans','Liberation Sans',sans-serif" font-weight="200" font-size="13" fill="#808080" stroke="#808080" stroke-width="0.2" clip-path="url(#pc)"><text transform="translate(792,31.9) scale(0.86,1)" text-anchor="end">31S</text><text transform="translate(792,104.6) scale(0.86,1)" text-anchor="end">32S</text><text transform="translate(792,177.3) scale(0.86,1)" text-anchor="end">33S</text><text transform="translate(792,250.1) scale(0.86,1)" text-anchor="end">34S</text><text transform="translate(792,322.8) scale(0.86,1)" text-anchor="end">35S</text><text transform="translate(792,395.5) scale(0.86,1)" text-anchor="end">36S</text><text transform="translate(792,468.3) scale(0.86,1)" text-anchor="end">37S</text><text transform="translate(792,541.0) scale(0.86,1)" text-anchor="end">38S</text><text transform="translate(792,613.7) scale(0.86,1)" text-anchor="end">39S</text><text transform="translate(792,686.4) scale(0.86,1)" text-anchor="end">40S</text><text transform="translate(792,759.2) scale(0.86,1)" text-anchor="end">41S</text><text font-size="11.2" transform="translate(13.6,743.5) rotate(90) scale(0.83,1)">61W</text><text font-size="11.2" transform="translate(86.3,743.5) rotate(90) scale(0.83,1)">60W</text><text font-size="11.2" transform="translate(159.0,743.5) rotate(90) scale(0.83,1)">59W</text><text font-size="11.2" transform="translate(231.8,743.5) rotate(90) scale(0.83,1)">58W</text><text font-size="11.2" transform="translate(304.5,743.5) rotate(90) scale(0.83,1)">57W</text><text font-size="11.2" transform="translate(377.2,743.5) rotate(90) scale(0.83,1)">56W</text><text font-size="11.2" transform="translate(450.0,743.5) rotate(90) scale(0.83,1)">55W</text><text font-size="11.2" transform="translate(522.7,743.5) rotate(90) scale(0.83,1)">54W</text><text font-size="11.2" transform="translate(595.4,743.5) rotate(90) scale(0.83,1)">53W</text><text font-size="11.2" transform="translate(668.1,743.5) rotate(90) scale(0.83,1)">52W</text><text font-size="11.2" transform="translate(740.9,743.5) rotate(90) scale(0.83,1)">51W</text></g>
<defs><clipPath id="pc"><rect x="0" y="27.3" width="800" height="745.2"/></clipPath></defs>
<path d="M0.5 27.3V772.5M0 27.5H800M1.5 27.3v4.5M1.5 772.5v-4.5M9.5 27.3v17.0M9.5 772.5v-17.0M16.5 27.3v4.5M16.5 772.5v-4.5M23.5 27.3v4.5M23.5 772.5v-4.5M30.5 27.3v4.5M30.5 772.5v-4.5M38.5 27.3v4.5M38.5 772.5v-4.5M45.5 27.3v9.0M45.5 772.5v-9.0M52.5 27.3v4.5M52.5 772.5v-4.5M60.5 27.3v4.5M60.5 772.5v-4.5M67.5 27.3v4.5M67.5 772.5v-4.5M74.5 27.3v4.5M74.5 772.5v-4.5M81.5 27.3v17.0M81.5 772.5v-17.0M89.5 27.3v4.5M89.5 772.5v-4.5M96.5 27.3v4.5M96.5 772.5v-4.5M103.5 27.3v4.5M103.5 772.5v-4.5M110.5 27.3v4.5M110.5 772.5v-4.5M118.5 27.3v9.0M118.5 772.5v-9.0M125.5 27.3v4.5M125.5 772.5v-4.5M132.5 27.3v4.5M132.5 772.5v-4.5M140.5 27.3v4.5M140.5 772.5v-4.5M147.5 27.3v4.5M147.5 772.5v-4.5M154.5 27.3v17.0M154.5 772.5v-17.0M161.5 27.3v4.5M161.5 772.5v-4.5M169.5 27.3v4.5M169.5 772.5v-4.5M176.5 27.3v4.5M176.5 772.5v-4.5M183.5 27.3v4.5M183.5 772.5v-4.5M190.5 27.3v9.0M190.5 772.5v-9.0M198.5 27.3v4.5M198.5 772.5v-4.5M205.5 27.3v4.5M205.5 772.5v-4.5M212.5 27.3v4.5M212.5 772.5v-4.5M220.5 27.3v4.5M220.5 772.5v-4.5M227.5 27.3v17.0M227.5 772.5v-17.0M234.5 27.3v4.5M234.5 772.5v-4.5M241.5 27.3v4.5M241.5 772.5v-4.5M249.5 27.3v4.5M249.5 772.5v-4.5M256.5 27.3v4.5M256.5 772.5v-4.5M263.5 27.3v9.0M263.5 772.5v-9.0M270.5 27.3v4.5M270.5 772.5v-4.5M278.5 27.3v4.5M278.5 772.5v-4.5M285.5 27.3v4.5M285.5 772.5v-4.5M292.5 27.3v4.5M292.5 772.5v-4.5M300.5 27.3v17.0M300.5 772.5v-17.0M307.5 27.3v4.5M307.5 772.5v-4.5M314.5 27.3v4.5M314.5 772.5v-4.5M321.5 27.3v4.5M321.5 772.5v-4.5M329.5 27.3v4.5M329.5 772.5v-4.5M336.5 27.3v9.0M336.5 772.5v-9.0M343.5 27.3v4.5M343.5 772.5v-4.5M350.5 27.3v4.5M350.5 772.5v-4.5M358.5 27.3v4.5M358.5 772.5v-4.5M365.5 27.3v4.5M365.5 772.5v-4.5M372.5 27.3v17.0M372.5 772.5v-17.0M380.5 27.3v4.5M380.5 772.5v-4.5M387.5 27.3v4.5M387.5 772.5v-4.5M394.5 27.3v4.5M394.5 772.5v-4.5M401.5 27.3v4.5M401.5 772.5v-4.5M409.5 27.3v9.0M409.5 772.5v-9.0M416.5 27.3v4.5M416.5 772.5v-4.5M423.5 27.3v4.5M423.5 772.5v-4.5M430.5 27.3v4.5M430.5 772.5v-4.5M438.5 27.3v4.5M438.5 772.5v-4.5M445.5 27.3v17.0M445.5 772.5v-17.0M452.5 27.3v4.5M452.5 772.5v-4.5M460.5 27.3v4.5M460.5 772.5v-4.5M467.5 27.3v4.5M467.5 772.5v-4.5M474.5 27.3v4.5M474.5 772.5v-4.5M481.5 27.3v9.0M481.5 772.5v-9.0M489.5 27.3v4.5M489.5 772.5v-4.5M496.5 27.3v4.5M496.5 772.5v-4.5M503.5 27.3v4.5M503.5 772.5v-4.5M510.5 27.3v4.5M510.5 772.5v-4.5M518.5 27.3v17.0M518.5 772.5v-17.0M525.5 27.3v4.5M525.5 772.5v-4.5M532.5 27.3v4.5M532.5 772.5v-4.5M540.5 27.3v4.5M540.5 772.5v-4.5M547.5 27.3v4.5M547.5 772.5v-4.5M554.5 27.3v9.0M554.5 772.5v-9.0M561.5 27.3v4.5M561.5 772.5v-4.5M569.5 27.3v4.5M569.5 772.5v-4.5M576.5 27.3v4.5M576.5 772.5v-4.5M583.5 27.3v4.5M583.5 772.5v-4.5M590.5 27.3v17.0M590.5 772.5v-17.0M598.5 27.3v4.5M598.5 772.5v-4.5M605.5 27.3v4.5M605.5 772.5v-4.5M612.5 27.3v4.5M612.5 772.5v-4.5M620.5 27.3v4.5M620.5 772.5v-4.5M627.5 27.3v9.0M627.5 772.5v-9.0M634.5 27.3v4.5M634.5 772.5v-4.5M641.5 27.3v4.5M641.5 772.5v-4.5M649.5 27.3v4.5M649.5 772.5v-4.5M656.5 27.3v4.5M656.5 772.5v-4.5M663.5 27.3v17.0M663.5 772.5v-17.0M670.5 27.3v4.5M670.5 772.5v-4.5M678.5 27.3v4.5M678.5 772.5v-4.5M685.5 27.3v4.5M685.5 772.5v-4.5M692.5 27.3v4.5M692.5 772.5v-4.5M700.5 27.3v9.0M700.5 772.5v-9.0M707.5 27.3v4.5M707.5 772.5v-4.5M714.5 27.3v4.5M714.5 772.5v-4.5M721.5 27.3v4.5M721.5 772.5v-4.5M729.5 27.3v4.5M729.5 772.5v-4.5M736.5 27.3v17.0M736.5 772.5v-17.0M743.5 27.3v4.5M743.5 772.5v-4.5M750.5 27.3v4.5M750.5 772.5v-4.5M758.5 27.3v4.5M758.5 772.5v-4.5M765.5 27.3v4.5M765.5 772.5v-4.5M772.5 27.3v9.0M772.5 772.5v-9.0M780.5 27.3v4.5M780.5 772.5v-4.5M787.5 27.3v4.5M787.5 772.5v-4.5M794.5 27.3v4.5M794.5 772.5v-4.5M0 29.5h4.5M800 29.5h-4.5M0 36.5h17.5M800 36.5h-17.5M0 43.5h4.5M800 43.5h-4.5M0 50.5h4.5M800 50.5h-4.5M0 58.5h4.5M800 58.5h-4.5M0 65.5h4.5M800 65.5h-4.5M0 72.5h9.0M800 72.5h-9.0M0 80.5h4.5M800 80.5h-4.5M0 87.5h4.5M800 87.5h-4.5M0 94.5h4.5M800 94.5h-4.5M0 101.5h4.5M800 101.5h-4.5M0 109.5h17.5M800 109.5h-17.5M0 116.5h4.5M800 116.5h-4.5M0 123.5h4.5M800 123.5h-4.5M0 130.5h4.5M800 130.5h-4.5M0 138.5h4.5M800 138.5h-4.5M0 145.5h9.0M800 145.5h-9.0M0 152.5h4.5M800 152.5h-4.5M0 160.5h4.5M800 160.5h-4.5M0 167.5h4.5M800 167.5h-4.5M0 174.5h4.5M800 174.5h-4.5M0 181.5h17.5M800 181.5h-17.5M0 189.5h4.5M800 189.5h-4.5M0 196.5h4.5M800 196.5h-4.5M0 203.5h4.5M800 203.5h-4.5M0 210.5h4.5M800 210.5h-4.5M0 218.5h9.0M800 218.5h-9.0M0 225.5h4.5M800 225.5h-4.5M0 232.5h4.5M800 232.5h-4.5M0 240.5h4.5M800 240.5h-4.5M0 247.5h4.5M800 247.5h-4.5M0 254.5h17.5M800 254.5h-17.5M0 261.5h4.5M800 261.5h-4.5M0 269.5h4.5M800 269.5h-4.5M0 276.5h4.5M800 276.5h-4.5M0 283.5h4.5M800 283.5h-4.5M0 290.5h9.0M800 290.5h-9.0M0 298.5h4.5M800 298.5h-4.5M0 305.5h4.5M800 305.5h-4.5M0 312.5h4.5M800 312.5h-4.5M0 320.5h4.5M800 320.5h-4.5M0 327.5h17.5M800 327.5h-17.5M0 334.5h4.5M800 334.5h-4.5M0 341.5h4.5M800 341.5h-4.5M0 349.5h4.5M800 349.5h-4.5M0 356.5h4.5M800 356.5h-4.5M0 363.5h9.0M800 363.5h-9.0M0 370.5h4.5M800 370.5h-4.5M0 378.5h4.5M800 378.5h-4.5M0 385.5h4.5M800 385.5h-4.5M0 392.5h4.5M800 392.5h-4.5M0 400.5h17.5M800 400.5h-17.5M0 407.5h4.5M800 407.5h-4.5M0 414.5h4.5M800 414.5h-4.5M0 421.5h4.5M800 421.5h-4.5M0 429.5h4.5M800 429.5h-4.5M0 436.5h9.0M800 436.5h-9.0M0 443.5h4.5M800 443.5h-4.5M0 450.5h4.5M800 450.5h-4.5M0 458.5h4.5M800 458.5h-4.5M0 465.5h4.5M800 465.5h-4.5M0 472.5h17.5M800 472.5h-17.5M0 480.5h4.5M800 480.5h-4.5M0 487.5h4.5M800 487.5h-4.5M0 494.5h4.5M800 494.5h-4.5M0 501.5h4.5M800 501.5h-4.5M0 509.5h9.0M800 509.5h-9.0M0 516.5h4.5M800 516.5h-4.5M0 523.5h4.5M800 523.5h-4.5M0 530.5h4.5M800 530.5h-4.5M0 538.5h4.5M800 538.5h-4.5M0 545.5h17.5M800 545.5h-17.5M0 552.5h4.5M800 552.5h-4.5M0 560.5h4.5M800 560.5h-4.5M0 567.5h4.5M800 567.5h-4.5M0 574.5h4.5M800 574.5h-4.5M0 581.5h9.0M800 581.5h-9.0M0 589.5h4.5M800 589.5h-4.5M0 596.5h4.5M800 596.5h-4.5M0 603.5h4.5M800 603.5h-4.5M0 610.5h4.5M800 610.5h-4.5M0 618.5h17.5M800 618.5h-17.5M0 625.5h4.5M800 625.5h-4.5M0 632.5h4.5M800 632.5h-4.5M0 640.5h4.5M800 640.5h-4.5M0 647.5h4.5M800 647.5h-4.5M0 654.5h9.0M800 654.5h-9.0M0 661.5h4.5M800 661.5h-4.5M0 669.5h4.5M800 669.5h-4.5M0 676.5h4.5M800 676.5h-4.5M0 683.5h4.5M800 683.5h-4.5M0 690.5h17.5M800 690.5h-17.5M0 698.5h4.5M800 698.5h-4.5M0 705.5h4.5M800 705.5h-4.5M0 712.5h4.5M800 712.5h-4.5M0 720.5h4.5M800 720.5h-4.5M0 727.5h9.0M800 727.5h-9.0M0 734.5h4.5M800 734.5h-4.5M0 741.5h4.5M800 741.5h-4.5M0 749.5h4.5M800 749.5h-4.5M0 756.5h4.5M800 756.5h-4.5M0 763.5h17.5M800 763.5h-17.5M0 770.5h4.5M800 770.5h-4.5" stroke="#000" stroke-width="1" fill="none" shape-rendering="crispEdges"/>
<g font-family="'DejaVu Sans','Liberation Sans',sans-serif" font-weight="bold" font-size="24" fill="#808080" clip-path="url(#pc)">
<text x="5.5" y="50" textLength="382" lengthAdjust="spacingAndGlyphs">modelo GEFS-WAVE (NCEP)</text>
<text x="5.5" y="72.5" textLength="496" lengthAdjust="spacingAndGlyphs">forecast date: 2023-02-15 12:00:00</text>
<text x="40.5" y="95.7" textLength="448" lengthAdjust="spacingAndGlyphs">valid date: 2023-02-24 06:00:00</text>
</g>
<defs><linearGradient id="cb" x1="0" y1="0" x2="0" y2="1"><stop offset="0" stop-color="#c00080"/><stop offset="0.171" stop-color="#ff0000"/><stop offset="0.47" stop-color="#ffff00"/><stop offset="0.599" stop-color="#00f000"/><stop offset="0.734" stop-color="#00ffff"/><stop offset="1" stop-color="#0000ff"/></linearGradient></defs>
<rect x="32.5" y="160.5" width="48" height="608" fill="#fff" stroke="#000" stroke-width="1" shape-rendering="crispEdges"/>
<rect x="34" y="162" width="45" height="605" fill="url(#cb)" shape-rendering="crispEdges"/>
<g font-family="'DejaVu Sans Light','DejaVu Sans','Liberation Sans',sans-serif" font-weight="200" font-size="16.5" fill="#000" stroke="#000" stroke-width="0.4">
<text transform="translate(86.5,165.0) scale(0.82,1)">30</text>
<text transform="translate(86.5,317.5) scale(0.82,1)">22</text>
<text transform="translate(86.5,469.0) scale(0.82,1)">15</text>
<text transform="translate(86.5,621.0) scale(0.82,1)">8</text>
<text transform="translate(86.5,773.0) scale(0.82,1)">0</text>
<text x="33.5" y="149.4" font-size="17" letter-spacing="0.2">[m/s]</text>
</g>
</svg></body></html>
